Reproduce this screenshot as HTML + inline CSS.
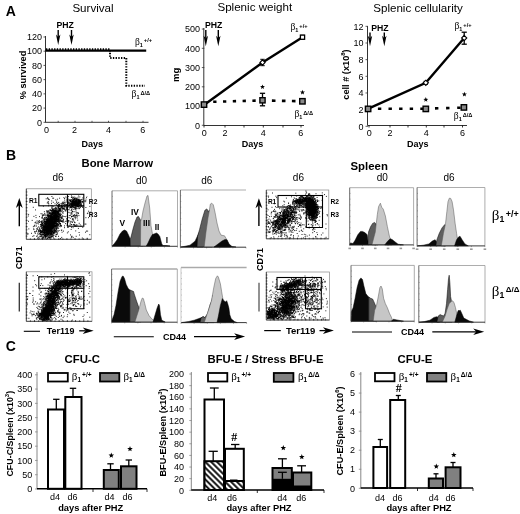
<!DOCTYPE html>
<html><head><meta charset="utf-8"><style>
html,body{margin:0;padding:0;background:#fff;}
svg{display:block;filter:grayscale(1);}
</style></head><body>
<svg width="520" height="514" viewBox="0 0 520 514">
<rect width="520" height="514" fill="#fff"/>
<text x="5.8" y="16.0" font-size="14" font-weight="bold" text-anchor="start" font-family='"Liberation Sans", sans-serif' fill="#000" >A</text>
<text x="93" y="11.8" font-size="11.6" font-weight="normal" text-anchor="middle" font-family='"Liberation Sans", sans-serif' fill="#000" >Survival</text>
<text x="56.5" y="27.8" font-size="8.7" font-weight="bold" text-anchor="start" font-family='"Liberation Sans", sans-serif' fill="#000" >PHZ</text>
<line x1="58.2" y1="30" x2="58.2" y2="37.0" stroke="#000" stroke-width="1.4" />
<path d="M56.0,34.5 L58.2,45 L60.400000000000006,34.5 L58.2,37.0Z" fill="#000"/>
<line x1="71.5" y1="30" x2="71.5" y2="37.0" stroke="#000" stroke-width="1.4" />
<path d="M69.3,34.5 L71.5,45 L73.7,34.5 L71.5,37.0Z" fill="#000"/>
<line x1="45.5" y1="36" x2="45.5" y2="122.3" stroke="#333" stroke-width="1" />
<line x1="43.5" y1="122.3" x2="46.0" y2="122.3" stroke="#333" stroke-width="0.8" />
<text x="42" y="125.5" font-size="9" font-weight="normal" text-anchor="end" font-family='"Liberation Sans", sans-serif' fill="#000" >0</text>
<line x1="43.5" y1="108.08" x2="46.0" y2="108.08" stroke="#333" stroke-width="0.8" />
<text x="42" y="111.28" font-size="9" font-weight="normal" text-anchor="end" font-family='"Liberation Sans", sans-serif' fill="#000" >20</text>
<line x1="43.5" y1="93.86" x2="46.0" y2="93.86" stroke="#333" stroke-width="0.8" />
<text x="42" y="97.06" font-size="9" font-weight="normal" text-anchor="end" font-family='"Liberation Sans", sans-serif' fill="#000" >40</text>
<line x1="43.5" y1="79.64" x2="46.0" y2="79.64" stroke="#333" stroke-width="0.8" />
<text x="42" y="82.84" font-size="9" font-weight="normal" text-anchor="end" font-family='"Liberation Sans", sans-serif' fill="#000" >60</text>
<line x1="43.5" y1="65.42" x2="46.0" y2="65.42" stroke="#333" stroke-width="0.8" />
<text x="42" y="68.62" font-size="9" font-weight="normal" text-anchor="end" font-family='"Liberation Sans", sans-serif' fill="#000" >80</text>
<line x1="43.5" y1="51.2" x2="46.0" y2="51.2" stroke="#333" stroke-width="0.8" />
<text x="42" y="54.400000000000006" font-size="9" font-weight="normal" text-anchor="end" font-family='"Liberation Sans", sans-serif' fill="#000" >100</text>
<line x1="43.5" y1="36.980000000000004" x2="46.0" y2="36.980000000000004" stroke="#333" stroke-width="0.8" />
<text x="42" y="40.18000000000001" font-size="9" font-weight="normal" text-anchor="end" font-family='"Liberation Sans", sans-serif' fill="#000" >120</text>
<line x1="45.5" y1="122.3" x2="148.5" y2="122.3" stroke="#333" stroke-width="1" />
<line x1="58.2" y1="120.8" x2="58.2" y2="122.3" stroke="#333" stroke-width="0.8" />
<text x="58.2" y="0" font-size="9" font-weight="normal" text-anchor="middle" font-family='"Liberation Sans", sans-serif' fill="#000" ></text>
<line x1="75" y1="120.8" x2="75" y2="122.3" stroke="#333" stroke-width="0.8" />
<text x="75" y="0" font-size="9" font-weight="normal" text-anchor="middle" font-family='"Liberation Sans", sans-serif' fill="#000" ></text>
<line x1="92" y1="120.8" x2="92" y2="122.3" stroke="#333" stroke-width="0.8" />
<text x="92" y="0" font-size="9" font-weight="normal" text-anchor="middle" font-family='"Liberation Sans", sans-serif' fill="#000" ></text>
<line x1="108.5" y1="120.8" x2="108.5" y2="122.3" stroke="#333" stroke-width="0.8" />
<text x="108.5" y="0" font-size="9" font-weight="normal" text-anchor="middle" font-family='"Liberation Sans", sans-serif' fill="#000" ></text>
<line x1="126" y1="120.8" x2="126" y2="122.3" stroke="#333" stroke-width="0.8" />
<text x="126" y="0" font-size="9" font-weight="normal" text-anchor="middle" font-family='"Liberation Sans", sans-serif' fill="#000" ></text>
<line x1="143" y1="120.8" x2="143" y2="122.3" stroke="#333" stroke-width="0.8" />
<text x="143" y="0" font-size="9" font-weight="normal" text-anchor="middle" font-family='"Liberation Sans", sans-serif' fill="#000" ></text>
<text x="46.6" y="132.8" font-size="9" font-weight="normal" text-anchor="middle" font-family='"Liberation Sans", sans-serif' fill="#000" >0</text>
<text x="74.6" y="132.8" font-size="9" font-weight="normal" text-anchor="middle" font-family='"Liberation Sans", sans-serif' fill="#000" >2</text>
<text x="108.6" y="132.8" font-size="9" font-weight="normal" text-anchor="middle" font-family='"Liberation Sans", sans-serif' fill="#000" >4</text>
<text x="142.8" y="132.8" font-size="9" font-weight="normal" text-anchor="middle" font-family='"Liberation Sans", sans-serif' fill="#000" >6</text>
<text x="92.3" y="147.2" font-size="9" font-weight="bold" text-anchor="middle" font-family='"Liberation Sans", sans-serif' fill="#000" >Days</text>
<text x="0" y="0" transform="translate(23,75) rotate(-90)" font-size="9.2" font-weight="bold" text-anchor="middle" dominant-baseline="central" font-family='"Liberation Sans", sans-serif'>% survived</text>
<line x1="45.5" y1="50.7" x2="146.2" y2="50.7" stroke="#000" stroke-width="2.3" />
<path d="M46,49.3 H110 V58 H126.3 V85.8 H145" fill="none" stroke="#000" stroke-width="2" stroke-dasharray="1.35,1.35"/>
<text x="135.0" y="44.6" font-family='"Liberation Serif", serif' font-size="9.5">&#946;<tspan font-size="5.51" font-weight="bold" font-family='"Liberation Sans", sans-serif' dy="1.90">1</tspan><tspan font-size="5.70" font-weight="bold" font-family='"Liberation Sans", sans-serif' dx="0.95" dy="-4.08">+/+</tspan></text>
<text x="131.6" y="97.2" font-family='"Liberation Serif", serif' font-size="9.5">&#946;<tspan font-size="5.51" font-weight="bold" font-family='"Liberation Sans", sans-serif' dy="1.90">1</tspan><tspan font-size="5.70" font-weight="bold" font-family='"Liberation Sans", sans-serif' dx="0.95" dy="-4.08">&#916;/&#916;</tspan></text>
<text x="254.8" y="10.6" font-size="11.6" font-weight="normal" text-anchor="middle" font-family='"Liberation Sans", sans-serif' fill="#000" >Splenic weight</text>
<line x1="203.8" y1="28" x2="203.8" y2="125.5" stroke="#333" stroke-width="1" />
<line x1="201.8" y1="125.3" x2="204.3" y2="125.3" stroke="#333" stroke-width="0.8" />
<text x="200" y="128.5" font-size="9" font-weight="normal" text-anchor="end" font-family='"Liberation Sans", sans-serif' fill="#000" >0</text>
<line x1="201.8" y1="106.05" x2="204.3" y2="106.05" stroke="#333" stroke-width="0.8" />
<text x="200" y="109.25" font-size="9" font-weight="normal" text-anchor="end" font-family='"Liberation Sans", sans-serif' fill="#000" >100</text>
<line x1="201.8" y1="86.8" x2="204.3" y2="86.8" stroke="#333" stroke-width="0.8" />
<text x="200" y="90.0" font-size="9" font-weight="normal" text-anchor="end" font-family='"Liberation Sans", sans-serif' fill="#000" >200</text>
<line x1="201.8" y1="67.55" x2="204.3" y2="67.55" stroke="#333" stroke-width="0.8" />
<text x="200" y="70.75" font-size="9" font-weight="normal" text-anchor="end" font-family='"Liberation Sans", sans-serif' fill="#000" >300</text>
<line x1="201.8" y1="48.3" x2="204.3" y2="48.3" stroke="#333" stroke-width="0.8" />
<text x="200" y="51.5" font-size="9" font-weight="normal" text-anchor="end" font-family='"Liberation Sans", sans-serif' fill="#000" >400</text>
<line x1="201.8" y1="29.049999999999997" x2="204.3" y2="29.049999999999997" stroke="#333" stroke-width="0.8" />
<text x="200" y="32.25" font-size="9" font-weight="normal" text-anchor="end" font-family='"Liberation Sans", sans-serif' fill="#000" >500</text>
<line x1="203.8" y1="125.5" x2="304" y2="125.5" stroke="#333" stroke-width="1" />
<line x1="204" y1="125.5" x2="204" y2="127.5" stroke="#000" stroke-width="0.8" />
<line x1="225" y1="125.5" x2="225" y2="127.5" stroke="#000" stroke-width="0.8" />
<line x1="244" y1="125.5" x2="244" y2="127.5" stroke="#000" stroke-width="0.8" />
<line x1="263.3" y1="125.5" x2="263.3" y2="127.5" stroke="#000" stroke-width="0.8" />
<line x1="283" y1="125.5" x2="283" y2="127.5" stroke="#000" stroke-width="0.8" />
<line x1="301" y1="125.5" x2="301" y2="127.5" stroke="#000" stroke-width="0.8" />
<text x="204.3" y="136.3" font-size="9" font-weight="normal" text-anchor="middle" font-family='"Liberation Sans", sans-serif' fill="#000" >0</text>
<text x="225" y="136.3" font-size="9" font-weight="normal" text-anchor="middle" font-family='"Liberation Sans", sans-serif' fill="#000" >2</text>
<text x="263.3" y="136.3" font-size="9" font-weight="normal" text-anchor="middle" font-family='"Liberation Sans", sans-serif' fill="#000" >4</text>
<text x="300.8" y="136.3" font-size="9" font-weight="normal" text-anchor="middle" font-family='"Liberation Sans", sans-serif' fill="#000" >6</text>
<text x="252.6" y="147.2" font-size="9" font-weight="bold" text-anchor="middle" font-family='"Liberation Sans", sans-serif' fill="#000" >Days</text>
<text x="0" y="0" transform="translate(175,74.8) rotate(-90)" font-size="9.5" font-weight="bold" text-anchor="middle" dominant-baseline="central" font-family='"Liberation Sans", sans-serif'>mg</text>
<text x="205" y="28" font-size="8.7" font-weight="bold" text-anchor="start" font-family='"Liberation Sans", sans-serif' fill="#000" >PHZ</text>
<line x1="205.8" y1="30" x2="205.8" y2="38.3" stroke="#000" stroke-width="1.4" />
<path d="M203.60000000000002,35.8 L205.8,46.3 L208.0,35.8 L205.8,38.3Z" fill="#000"/>
<line x1="218.3" y1="30" x2="218.3" y2="38.3" stroke="#000" stroke-width="1.4" />
<path d="M216.10000000000002,35.8 L218.3,46.3 L220.5,35.8 L218.3,38.3Z" fill="#000"/>
<path d="M213.2,101.8 L262.5,100.4" fill="none" stroke="#000" stroke-width="2.6" stroke-dasharray="3.3,6.5"/>
<path d="M271.9,100.6 L302.5,101.3" fill="none" stroke="#000" stroke-width="2.6" stroke-dasharray="3.6,6.4"/>
<polyline points="204,105 262.5,62.5 302.5,37.2" fill="none" stroke="#000" stroke-width="2.4"/>
<line x1="262.5" y1="59.3" x2="262.5" y2="65.7" stroke="#000" stroke-width="1" />
<line x1="260.3" y1="59.3" x2="264.7" y2="59.3" stroke="#000" stroke-width="1" />
<line x1="260.3" y1="65.7" x2="264.7" y2="65.7" stroke="#000" stroke-width="1" />
<path d="M262.5,59.9 L265.1,62.5 L262.5,65.1 L259.9,62.5Z" fill="#fff" stroke="#000" stroke-width="1.1"/>
<line x1="302.5" y1="35.3" x2="302.5" y2="39.1" stroke="#000" stroke-width="1" />
<line x1="300.3" y1="35.3" x2="304.7" y2="35.3" stroke="#000" stroke-width="1" />
<line x1="300.3" y1="39.1" x2="304.7" y2="39.1" stroke="#000" stroke-width="1" />
<rect x="300.4" y="35.1" width="4.2" height="4.2" fill="#fff" stroke="#000" stroke-width="1.3"/>
<line x1="262.5" y1="93.3" x2="262.5" y2="105.8" stroke="#000" stroke-width="1.3" />
<line x1="259.9" y1="93.3" x2="265.1" y2="93.3" stroke="#000" stroke-width="1.3" />
<line x1="259.9" y1="105.8" x2="265.1" y2="105.8" stroke="#000" stroke-width="1.3" />
<rect x="259.9" y="97.7" width="5.2" height="5.2" fill="#8a8a8a" stroke="#000" stroke-width="1.4"/>
<rect x="299.7" y="98.6" width="5.4" height="5.4" fill="#8a8a8a" stroke="#000" stroke-width="1.4"/>
<rect x="201.3" y="101.89999999999999" width="5.4" height="5.4" fill="#8a8a8a" stroke="#000" stroke-width="1.4"/>
<polygon points="262.50,84.39 263.14,86.11 264.98,86.19 263.54,87.34 264.03,89.11 262.50,88.10 260.97,89.11 261.46,87.34 260.02,86.19 261.86,86.11" fill="#000"/>
<polygon points="302.50,89.79 303.14,91.51 304.98,91.59 303.54,92.74 304.03,94.51 302.50,93.50 300.97,94.51 301.46,92.74 300.02,91.59 301.86,91.51" fill="#000"/>
<text x="290.5" y="30.0" font-family='"Liberation Serif", serif' font-size="9.5">&#946;<tspan font-size="5.51" font-weight="bold" font-family='"Liberation Sans", sans-serif' dy="1.90">1</tspan><tspan font-size="5.70" font-weight="bold" font-family='"Liberation Sans", sans-serif' dx="0.95" dy="-4.08">+/+</tspan></text>
<text x="294.4" y="116.8" font-family='"Liberation Serif", serif' font-size="9.5">&#946;<tspan font-size="5.51" font-weight="bold" font-family='"Liberation Sans", sans-serif' dy="1.90">1</tspan><tspan font-size="5.70" font-weight="bold" font-family='"Liberation Sans", sans-serif' dx="0.95" dy="-4.08">&#916;/&#916;</tspan></text>
<text x="418" y="12" font-size="11.6" font-weight="normal" text-anchor="middle" font-family='"Liberation Sans", sans-serif' fill="#000" >Splenic cellularity</text>
<line x1="367.5" y1="26" x2="367.5" y2="125.5" stroke="#333" stroke-width="1" />
<line x1="365.5" y1="126.3" x2="368.0" y2="126.3" stroke="#333" stroke-width="0.8" />
<text x="363.5" y="129.5" font-size="9" font-weight="normal" text-anchor="end" font-family='"Liberation Sans", sans-serif' fill="#000" >0</text>
<line x1="365.5" y1="109.64" x2="368.0" y2="109.64" stroke="#333" stroke-width="0.8" />
<text x="363.5" y="112.84" font-size="9" font-weight="normal" text-anchor="end" font-family='"Liberation Sans", sans-serif' fill="#000" >2</text>
<line x1="365.5" y1="92.97999999999999" x2="368.0" y2="92.97999999999999" stroke="#333" stroke-width="0.8" />
<text x="363.5" y="96.17999999999999" font-size="9" font-weight="normal" text-anchor="end" font-family='"Liberation Sans", sans-serif' fill="#000" >4</text>
<line x1="365.5" y1="76.32" x2="368.0" y2="76.32" stroke="#333" stroke-width="0.8" />
<text x="363.5" y="79.52" font-size="9" font-weight="normal" text-anchor="end" font-family='"Liberation Sans", sans-serif' fill="#000" >6</text>
<line x1="365.5" y1="59.66" x2="368.0" y2="59.66" stroke="#333" stroke-width="0.8" />
<text x="363.5" y="62.86" font-size="9" font-weight="normal" text-anchor="end" font-family='"Liberation Sans", sans-serif' fill="#000" >8</text>
<line x1="365.5" y1="43.0" x2="368.0" y2="43.0" stroke="#333" stroke-width="0.8" />
<text x="363.5" y="46.2" font-size="9" font-weight="normal" text-anchor="end" font-family='"Liberation Sans", sans-serif' fill="#000" >10</text>
<line x1="365.5" y1="26.33999999999999" x2="368.0" y2="26.33999999999999" stroke="#333" stroke-width="0.8" />
<text x="363.5" y="29.53999999999999" font-size="9" font-weight="normal" text-anchor="end" font-family='"Liberation Sans", sans-serif' fill="#000" >12</text>
<line x1="367.5" y1="125.5" x2="467" y2="125.5" stroke="#333" stroke-width="1" />
<line x1="369" y1="125.5" x2="369" y2="127.5" stroke="#000" stroke-width="0.8" />
<line x1="390" y1="125.5" x2="390" y2="127.5" stroke="#000" stroke-width="0.8" />
<line x1="408" y1="125.5" x2="408" y2="127.5" stroke="#000" stroke-width="0.8" />
<line x1="426.3" y1="125.5" x2="426.3" y2="127.5" stroke="#000" stroke-width="0.8" />
<line x1="444" y1="125.5" x2="444" y2="127.5" stroke="#000" stroke-width="0.8" />
<line x1="462.5" y1="125.5" x2="462.5" y2="127.5" stroke="#000" stroke-width="0.8" />
<text x="369.3" y="136.3" font-size="9" font-weight="normal" text-anchor="middle" font-family='"Liberation Sans", sans-serif' fill="#000" >0</text>
<text x="390" y="136.3" font-size="9" font-weight="normal" text-anchor="middle" font-family='"Liberation Sans", sans-serif' fill="#000" >2</text>
<text x="426.3" y="136.3" font-size="9" font-weight="normal" text-anchor="middle" font-family='"Liberation Sans", sans-serif' fill="#000" >4</text>
<text x="462.5" y="136.3" font-size="9" font-weight="normal" text-anchor="middle" font-family='"Liberation Sans", sans-serif' fill="#000" >6</text>
<text x="417.8" y="147.2" font-size="9" font-weight="bold" text-anchor="middle" font-family='"Liberation Sans", sans-serif' fill="#000" >Days</text>
<text x="0" y="0" transform="translate(345.8,74.5) rotate(-90)" font-size="9.2" font-weight="bold" text-anchor="middle" dominant-baseline="central" font-family='"Liberation Sans", sans-serif'>cell # (x10<tspan font-size="6" dy="-3">8</tspan><tspan dy="3">)</tspan></text>
<text x="371.3" y="31.3" font-size="8.7" font-weight="bold" text-anchor="start" font-family='"Liberation Sans", sans-serif' fill="#000" >PHZ</text>
<line x1="370" y1="32.5" x2="370" y2="38.3" stroke="#000" stroke-width="1.4" />
<path d="M367.8,35.8 L370,46.3 L372.2,35.8 L370,38.3Z" fill="#000"/>
<line x1="384.3" y1="32.5" x2="384.3" y2="38.3" stroke="#000" stroke-width="1.4" />
<path d="M382.1,35.8 L384.3,46.3 L386.5,35.8 L384.3,38.3Z" fill="#000"/>
<path d="M377.9,108.7 L425.8,108.8" fill="none" stroke="#000" stroke-width="2.6" stroke-dasharray="3.4,7.2"/>
<path d="M435,108.4 L463.9,107.6" fill="none" stroke="#000" stroke-width="2.6" stroke-dasharray="3.4,7.7"/>
<polyline points="367.8,108.9 425.8,82.8 464.2,38" fill="none" stroke="#000" stroke-width="2.4"/>
<line x1="425.8" y1="81.3" x2="425.8" y2="84.3" stroke="#000" stroke-width="1" />
<line x1="423.6" y1="81.3" x2="428.0" y2="81.3" stroke="#000" stroke-width="1" />
<line x1="423.6" y1="84.3" x2="428.0" y2="84.3" stroke="#000" stroke-width="1" />
<path d="M425.8,80.2 L428.40000000000003,82.8 L425.8,85.39999999999999 L423.2,82.8Z" fill="#fff" stroke="#000" stroke-width="1.1"/>
<line x1="464.2" y1="32.2" x2="464.2" y2="44.2" stroke="#000" stroke-width="1.3" />
<line x1="461.59999999999997" y1="32.2" x2="466.8" y2="32.2" stroke="#000" stroke-width="1.3" />
<line x1="461.59999999999997" y1="44.2" x2="466.8" y2="44.2" stroke="#000" stroke-width="1.3" />
<path d="M464.2,35.4 L466.8,38 L464.2,40.6 L461.59999999999997,38Z" fill="#fff" stroke="#000" stroke-width="1.1"/>
<rect x="365.40000000000003" y="106.2" width="5.4" height="5.4" fill="#8a8a8a" stroke="#000" stroke-width="1.4"/>
<rect x="423.1" y="106.2" width="5.4" height="5.4" fill="#8a8a8a" stroke="#000" stroke-width="1.4"/>
<rect x="461.2" y="104.7" width="5.4" height="5.4" fill="#8a8a8a" stroke="#000" stroke-width="1.4"/>
<polygon points="425.80,97.09 426.44,98.81 428.28,98.89 426.84,100.04 427.33,101.81 425.80,100.80 424.27,101.81 424.76,100.04 423.32,98.89 425.16,98.81" fill="#000"/>
<polygon points="464.40,91.79 465.04,93.51 466.88,93.59 465.44,94.74 465.93,96.51 464.40,95.50 462.87,96.51 463.36,94.74 461.92,93.59 463.76,93.51" fill="#000"/>
<text x="454.5" y="28.8" font-family='"Liberation Serif", serif' font-size="9.5">&#946;<tspan font-size="5.51" font-weight="bold" font-family='"Liberation Sans", sans-serif' dy="1.90">1</tspan><tspan font-size="5.70" font-weight="bold" font-family='"Liberation Sans", sans-serif' dx="0.95" dy="-4.08">+/+</tspan></text>
<text x="453.8" y="118.8" font-family='"Liberation Serif", serif' font-size="9.5">&#946;<tspan font-size="5.51" font-weight="bold" font-family='"Liberation Sans", sans-serif' dy="1.90">1</tspan><tspan font-size="5.70" font-weight="bold" font-family='"Liberation Sans", sans-serif' dx="0.95" dy="-4.08">&#916;/&#916;</tspan></text>
<text x="6.0" y="160.3" font-size="14" font-weight="bold" text-anchor="start" font-family='"Liberation Sans", sans-serif' fill="#000" >B</text>
<text x="81.5" y="167" font-size="11.3" font-weight="bold" text-anchor="start" font-family='"Liberation Sans", sans-serif' fill="#000" >Bone Marrow</text>
<text x="350.5" y="170" font-size="11.4" font-weight="bold" text-anchor="start" font-family='"Liberation Sans", sans-serif' fill="#000" >Spleen</text>
<text x="58" y="180.5" font-size="10" font-weight="normal" text-anchor="middle" font-family='"Liberation Sans", sans-serif' fill="#000" >d6</text>
<text x="141.6" y="183.5" font-size="10" font-weight="normal" text-anchor="middle" font-family='"Liberation Sans", sans-serif' fill="#000" >d0</text>
<text x="206.8" y="183.5" font-size="10" font-weight="normal" text-anchor="middle" font-family='"Liberation Sans", sans-serif' fill="#000" >d6</text>
<text x="298.4" y="180.8" font-size="10" font-weight="normal" text-anchor="middle" font-family='"Liberation Sans", sans-serif' fill="#000" >d6</text>
<text x="382.2" y="180.5" font-size="10" font-weight="normal" text-anchor="middle" font-family='"Liberation Sans", sans-serif' fill="#000" >d0</text>
<text x="449.1" y="180.5" font-size="10" font-weight="normal" text-anchor="middle" font-family='"Liberation Sans", sans-serif' fill="#000" >d6</text>
<rect x="26.3" y="188.8" width="65.0" height="50.5" fill="#fff" stroke="#888" stroke-width="0.7"/>
<path d="M51.4 230.7h0M43.2 232.1h0M45.1 233.0h0M51.0 225.0h0M50.4 223.2h0M42.2 223.7h0M44.2 226.4h0M47.6 231.3h0M48.9 233.0h0M55.4 219.5h0M49.0 222.6h0M48.1 233.8h0M49.7 220.0h0M48.7 221.7h0M52.6 213.9h0M44.7 220.2h0M50.6 226.4h0M41.9 234.4h0M46.0 231.0h0M52.5 214.9h0M52.3 218.8h0M48.3 219.1h0M57.2 213.9h0M56.7 221.0h0M57.8 219.3h0M44.7 231.0h0M43.8 234.4h0M51.7 233.7h0M46.8 234.6h0M57.2 216.1h0M55.3 217.8h0M53.5 217.8h0M55.0 220.8h0M48.0 233.0h0M43.5 229.5h0M51.4 228.5h0M41.9 222.7h0M47.9 218.1h0M58.7 221.2h0M57.3 212.4h0M48.1 226.3h0M52.9 220.3h0M49.0 232.1h0M47.8 233.2h0M46.0 232.6h0M52.8 213.1h0M46.2 231.1h0M52.5 223.4h0M48.7 223.8h0M45.1 234.2h0M54.1 215.9h0M53.2 212.2h0M54.7 222.6h0M58.4 208.2h0M46.7 229.9h0M47.7 215.5h0M49.7 232.6h0M58.8 207.1h0M53.5 213.3h0M50.1 223.1h0M45.2 236.2h0M55.7 217.6h0M62.7 212.3h0M49.5 228.3h0M48.7 234.2h0M56.4 210.6h0M52.4 218.1h0M56.7 216.2h0M50.9 217.4h0M50.5 221.3h0M52.6 214.1h0M54.6 210.7h0M50.7 237.1h0M57.1 220.6h0M53.6 209.4h0M51.3 222.2h0M52.8 208.9h0M48.8 215.6h0M54.3 217.8h0M48.6 231.9h0M46.5 229.3h0M52.4 216.3h0M54.0 219.1h0M50.7 213.3h0M54.1 222.8h0M53.0 230.4h0M42.1 231.3h0M49.2 225.1h0M51.3 220.2h0M51.1 224.1h0M49.0 216.5h0M56.0 215.1h0M47.7 220.2h0M48.6 219.7h0M54.8 221.6h0M56.5 213.4h0M56.8 219.4h0M49.3 233.7h0M46.2 234.0h0M53.6 212.4h0M46.0 226.3h0M53.1 225.5h0M50.7 228.4h0M56.3 222.8h0M43.5 232.3h0M49.8 229.3h0M56.7 218.3h0M52.7 224.6h0M50.5 220.0h0M57.3 203.5h0M46.4 232.9h0M53.0 218.2h0M54.7 221.6h0M52.3 234.3h0M50.7 220.0h0M44.7 230.0h0M50.4 231.0h0M58.9 219.2h0M48.4 230.2h0M41.9 224.2h0M50.8 231.1h0M49.3 230.1h0M46.8 235.9h0M48.6 224.8h0M51.7 225.6h0M45.6 234.6h0M50.8 216.9h0M51.6 222.9h0M50.2 217.1h0M50.8 217.6h0M55.2 218.3h0M52.5 210.9h0M48.9 226.0h0M51.5 233.7h0M48.7 229.7h0M57.1 211.6h0M48.4 230.6h0M51.9 226.8h0M56.4 226.3h0M51.2 230.1h0M48.4 227.4h0M45.5 226.2h0M47.1 229.8h0M50.8 230.1h0M48.5 233.9h0M44.4 227.1h0M50.1 212.9h0M52.0 216.0h0M58.3 215.9h0M57.7 221.3h0M50.7 210.2h0M56.0 218.7h0M53.4 217.8h0M47.8 212.0h0M51.4 216.6h0M47.8 236.0h0M48.6 228.5h0M48.3 216.5h0M56.0 223.3h0M48.9 217.1h0M56.8 221.4h0M50.2 229.8h0M54.2 222.7h0M52.0 212.1h0M48.0 218.4h0M50.8 219.2h0M46.8 236.3h0M48.0 227.2h0M45.5 237.8h0M51.2 216.1h0M47.1 223.3h0M48.3 230.4h0M55.8 211.7h0M53.6 216.3h0M49.7 226.3h0M55.9 216.8h0M39.0 230.0h0M48.4 227.9h0M53.6 211.8h0M53.7 213.8h0M42.0 234.5h0M50.3 229.8h0M48.7 227.0h0M53.8 215.8h0M53.1 206.4h0M46.1 230.1h0M52.8 209.8h0M49.5 225.6h0M47.8 229.8h0M54.8 215.4h0M51.7 225.5h0M59.4 208.5h0M58.2 216.0h0M50.7 220.8h0M47.7 219.2h0M51.6 220.6h0M57.2 215.7h0M47.3 231.5h0M54.9 216.6h0M45.4 226.4h0M48.2 232.4h0M52.2 213.6h0M58.0 213.5h0M47.3 232.5h0M50.8 227.8h0M42.0 225.7h0M50.1 218.9h0M48.6 224.4h0M42.2 231.4h0M54.6 217.1h0M45.1 230.8h0M58.7 207.2h0M50.6 234.9h0M50.2 214.5h0M59.0 208.7h0M49.3 229.9h0M47.5 215.5h0M49.4 213.5h0M49.1 223.6h0M54.0 223.6h0M51.3 221.2h0M44.7 224.9h0M50.1 233.5h0M49.5 222.5h0M54.1 220.8h0M54.5 222.7h0M51.9 214.5h0M52.7 227.5h0M52.2 227.9h0M50.0 220.1h0M54.1 218.0h0M44.0 236.5h0M54.1 224.1h0M50.6 217.4h0M52.9 217.6h0M48.7 234.4h0M51.9 226.5h0M47.9 233.4h0M53.8 218.6h0M51.4 233.8h0M47.9 231.5h0M54.7 221.4h0M60.2 217.5h0M51.7 233.7h0M57.5 218.2h0M47.2 227.8h0M49.7 230.6h0M50.5 225.9h0M55.9 215.1h0M55.1 212.5h0M42.9 233.8h0M55.7 216.1h0M57.6 214.4h0M53.6 214.8h0M52.4 236.4h0M47.9 221.7h0M47.7 234.6h0M51.2 225.3h0M48.5 227.4h0M56.9 214.8h0M57.2 213.1h0M57.8 221.4h0M49.3 228.9h0M52.2 222.2h0M53.0 210.0h0M50.9 214.9h0M45.0 231.3h0M48.0 237.7h0M48.7 229.1h0M46.8 229.7h0M56.8 213.9h0M49.4 234.6h0M50.3 218.9h0M46.1 221.6h0M55.6 213.3h0M48.1 229.4h0M47.4 225.1h0M47.5 232.2h0M50.1 228.1h0M40.7 233.0h0M51.2 228.5h0M53.4 219.3h0M52.8 217.9h0M57.2 214.1h0M54.1 219.7h0M51.7 215.3h0M54.6 216.0h0M49.8 219.2h0M50.5 227.6h0M44.2 225.8h0M50.3 229.9h0M53.3 221.4h0M48.6 225.9h0M48.6 234.9h0M50.0 220.7h0M46.0 227.6h0M45.5 235.3h0M45.8 226.0h0M56.7 216.7h0M50.7 230.9h0M54.3 230.0h0M51.1 221.7h0M52.4 214.6h0M41.2 232.6h0M58.3 215.9h0M47.3 225.8h0M41.0 226.9h0M40.7 232.3h0M55.6 213.8h0M58.5 212.2h0M48.8 231.8h0M50.1 209.5h0M47.5 228.5h0M52.9 220.2h0M47.9 233.4h0M49.4 223.6h0M46.8 222.0h0M40.9 231.4h0M46.6 232.2h0M47.1 219.2h0M44.8 229.4h0M47.8 221.7h0M54.2 225.0h0M50.8 228.6h0M51.3 217.0h0M51.5 224.6h0M52.6 226.4h0M54.9 223.8h0M45.7 227.0h0M54.1 223.9h0M50.9 225.2h0M59.2 214.6h0M56.7 224.2h0M57.2 221.2h0M48.8 223.4h0M42.9 237.2h0M49.1 229.2h0M55.9 218.6h0M55.3 215.7h0M50.1 223.6h0M51.2 236.6h0M53.8 217.6h0M56.2 219.0h0M47.7 224.8h0M45.2 218.5h0M51.0 231.8h0M50.1 223.0h0M52.7 210.2h0M51.2 217.5h0M58.5 219.1h0M42.1 221.5h0M49.9 218.6h0M47.2 234.8h0M48.1 221.8h0M55.9 215.5h0M52.2 219.4h0M51.3 228.1h0M44.0 227.1h0M44.9 227.2h0M49.0 230.4h0M50.7 233.6h0M54.8 211.2h0M52.7 228.7h0M48.3 225.2h0M54.7 222.2h0M48.7 228.2h0M48.8 223.5h0M46.1 232.6h0M52.6 221.1h0M44.5 227.4h0M52.6 217.8h0M48.2 228.3h0M55.4 209.0h0M48.4 229.9h0M49.9 220.2h0M49.5 230.7h0M43.1 238.1h0M55.2 214.3h0M44.9 227.2h0M50.8 215.9h0M54.0 219.2h0M56.7 214.4h0M47.5 221.3h0M49.8 223.1h0M49.2 233.8h0M50.1 215.5h0M49.2 213.1h0M54.5 215.7h0M50.2 216.6h0M46.6 228.7h0M55.0 214.1h0M49.1 230.7h0M47.8 231.3h0M49.1 214.8h0M56.7 219.2h0M51.5 220.7h0M60.2 216.5h0M56.0 212.9h0M48.1 230.2h0M55.6 210.7h0M51.9 213.5h0M50.8 235.2h0M46.1 232.8h0M45.5 236.5h0M50.7 220.0h0M48.8 212.1h0M54.8 220.8h0M50.2 221.5h0M50.3 217.7h0M59.0 217.8h0M49.3 230.5h0M53.3 216.9h0M44.6 223.4h0M44.3 230.3h0M53.2 223.0h0M49.4 232.7h0M53.9 225.9h0M47.4 227.8h0M51.2 214.2h0M44.1 229.3h0M46.8 232.0h0M46.9 236.5h0M45.6 227.5h0M43.9 230.0h0M53.1 212.5h0M48.0 228.1h0M51.1 210.5h0M42.0 232.6h0M53.7 223.6h0M54.4 216.1h0M46.7 221.6h0M48.3 232.9h0M46.8 226.7h0M51.9 235.0h0M59.3 222.6h0M39.6 238.2h0M53.0 212.7h0M46.4 228.8h0M46.8 230.2h0M50.7 220.5h0M48.0 220.3h0M44.3 229.2h0M55.7 215.5h0M51.1 217.9h0M46.6 222.7h0M51.2 210.7h0M50.0 216.1h0M47.5 226.2h0M50.6 219.8h0M51.7 223.3h0M47.6 221.7h0M54.0 218.0h0M52.5 216.2h0M51.2 223.0h0M53.8 226.7h0M53.4 212.6h0M46.3 219.9h0M46.7 218.0h0M44.1 226.6h0M46.2 226.7h0M59.7 223.3h0M51.4 227.1h0M52.7 225.5h0M48.7 221.9h0M48.9 233.5h0M52.6 212.4h0M51.7 217.4h0M47.7 225.7h0M47.7 220.6h0M50.6 228.6h0M54.3 214.4h0M49.0 227.5h0M48.2 229.0h0M53.6 217.9h0M46.1 229.5h0M45.0 231.8h0M46.7 232.3h0M46.7 221.0h0M54.7 223.4h0M49.3 227.0h0M57.1 221.1h0M52.2 219.9h0M53.6 210.5h0M47.9 233.9h0M52.1 218.1h0M55.0 211.8h0M50.0 210.4h0M56.5 215.6h0M55.4 219.8h0M50.6 218.8h0M51.9 213.3h0M50.2 231.9h0M44.3 233.4h0M46.4 223.2h0M60.2 214.8h0M45.7 221.8h0M51.5 217.4h0M59.1 214.4h0M56.1 220.6h0M54.9 217.5h0M51.6 211.6h0M59.4 214.9h0M48.3 225.4h0M45.2 226.6h0M54.0 220.0h0M44.0 222.7h0M49.9 224.8h0M49.9 226.6h0M52.0 207.3h0M47.6 229.3h0M47.6 216.7h0M44.7 226.9h0M53.5 222.7h0M48.4 215.7h0M51.1 210.6h0M50.3 215.9h0M53.3 223.4h0M50.1 222.4h0M52.6 231.5h0M52.9 210.9h0M54.6 211.5h0M46.9 231.7h0M44.5 229.0h0M58.7 214.3h0M50.1 237.5h0M54.2 219.5h0M42.3 236.9h0M58.4 212.4h0M53.2 227.7h0M47.9 230.0h0M44.8 232.8h0M60.6 215.6h0M51.8 232.0h0M47.6 226.8h0M46.7 228.3h0M53.8 213.4h0M50.8 216.5h0M54.5 221.2h0M53.1 218.0h0M52.5 218.3h0M48.3 225.4h0M52.9 214.7h0M46.0 224.4h0M55.7 223.4h0M46.3 222.5h0M45.4 228.5h0M55.8 208.7h0M56.4 230.9h0M53.8 215.7h0M57.5 219.6h0M50.2 223.8h0M50.8 217.4h0M56.1 217.1h0M50.8 227.9h0M44.6 221.7h0M60.1 215.6h0M56.3 212.7h0M51.6 223.5h0M54.8 217.2h0M40.9 230.6h0M47.4 222.4h0M44.0 226.0h0M50.7 226.1h0M53.9 213.7h0M48.2 227.2h0M41.8 225.8h0M50.7 213.6h0M52.1 222.8h0M46.3 227.4h0M47.9 223.7h0M57.4 234.0h0M52.7 228.6h0M55.7 219.9h0M48.2 226.4h0M52.2 233.3h0M48.0 222.2h0M46.3 220.0h0M56.5 209.3h0M50.0 229.1h0M48.1 230.8h0M53.4 219.0h0M55.9 212.0h0M50.1 221.6h0M54.8 216.5h0M56.4 218.4h0M47.6 226.0h0M57.3 212.1h0M45.7 236.5h0M59.5 210.2h0M47.0 228.4h0M53.0 219.5h0M47.1 223.5h0M50.9 222.9h0M55.2 218.7h0M50.6 231.1h0M47.2 232.3h0M57.3 219.2h0M54.5 231.6h0M53.5 226.8h0M56.5 216.7h0M51.9 229.5h0M48.9 220.8h0M49.2 216.1h0M47.0 232.2h0M50.9 217.4h0M53.8 217.7h0M46.2 236.9h0M50.6 230.0h0M49.9 226.2h0M61.6 214.3h0M53.0 222.6h0M48.2 230.0h0M60.4 225.4h0M56.8 214.7h0M59.2 215.6h0M48.9 227.6h0M52.5 217.3h0M47.4 231.0h0M40.8 232.9h0M46.0 228.6h0M47.9 225.3h0M48.6 230.6h0M49.0 220.5h0M43.7 226.4h0M51.7 214.7h0M45.7 229.7h0M58.1 219.8h0M52.3 221.4h0M57.3 223.8h0M51.9 221.6h0M48.8 227.5h0M44.1 233.8h0M42.0 233.9h0M54.3 226.1h0M55.5 213.5h0M48.6 221.7h0M51.6 227.3h0M46.5 222.7h0M59.1 223.2h0M48.3 230.6h0M48.3 227.9h0M45.7 230.2h0M42.2 231.6h0M50.2 221.0h0M53.9 213.5h0M42.9 231.7h0M50.6 230.3h0M41.5 227.8h0M42.1 228.7h0M50.5 224.0h0M43.9 228.4h0M44.6 227.0h0M51.9 218.6h0M40.5 230.3h0M58.5 212.9h0M57.5 216.2h0M57.2 211.4h0M47.6 222.5h0M53.8 223.7h0M52.2 223.0h0M56.4 204.7h0M54.2 213.7h0M58.7 215.1h0M47.0 226.0h0M54.8 219.9h0M44.5 228.2h0M54.3 215.2h0M55.0 222.5h0M52.5 212.2h0M48.3 223.3h0M48.5 233.5h0M48.9 227.4h0M40.4 230.6h0M47.3 218.4h0M46.6 226.4h0M48.2 219.5h0M48.6 229.5h0M47.4 225.5h0M44.3 227.6h0M50.9 227.7h0M53.8 217.7h0M53.1 214.8h0M44.5 227.4h0M54.4 219.8h0M46.9 222.4h0M55.6 211.4h0M52.6 212.0h0M51.3 218.6h0M59.1 218.0h0M45.9 230.1h0M54.5 222.0h0M51.0 218.5h0M48.9 222.9h0M49.6 221.3h0M46.4 224.4h0M50.1 221.0h0M48.5 223.6h0M51.0 230.7h0M57.4 224.8h0M52.0 221.9h0M56.0 215.6h0M55.5 213.5h0M43.9 221.6h0M42.1 213.9h0M45.8 222.0h0M46.6 228.8h0M53.5 224.8h0M53.2 224.1h0M45.6 223.6h0M57.8 213.4h0M42.3 216.8h0M43.1 225.4h0M52.1 215.3h0M52.2 208.3h0M57.9 209.5h0M46.0 234.5h0M51.2 224.7h0M49.3 218.1h0M54.7 210.9h0M50.2 222.3h0M55.1 218.6h0M49.8 212.6h0M43.3 230.0h0M45.7 225.2h0M52.5 210.0h0M49.6 236.1h0M48.1 233.1h0M52.6 218.5h0M54.0 216.1h0M50.9 221.3h0M50.2 228.5h0M49.9 229.7h0M45.9 227.4h0M49.2 230.5h0M50.9 214.0h0M55.0 230.7h0M51.3 221.1h0M52.1 219.8h0M47.2 212.6h0M43.9 232.1h0M45.3 235.4h0M50.9 221.0h0M45.9 232.0h0M54.1 216.1h0M43.5 231.1h0M51.0 225.8h0M52.3 217.4h0M46.8 232.3h0M44.3 231.1h0M46.6 229.5h0M49.0 226.8h0M52.8 219.3h0M43.9 234.9h0M51.3 225.2h0M52.6 212.5h0M53.4 227.7h0M51.5 225.9h0M49.2 230.3h0M48.7 228.4h0M48.1 222.0h0M49.6 219.8h0M49.9 224.3h0M49.0 238.0h0M47.8 225.7h0M48.6 224.4h0M50.9 228.7h0M51.3 232.8h0M42.5 231.9h0M57.9 212.3h0M46.6 232.2h0M50.7 216.2h0M46.9 220.8h0M49.6 226.3h0M52.4 221.4h0M54.0 208.4h0M47.7 234.0h0M46.4 232.8h0M44.1 237.8h0M49.4 226.8h0M52.5 221.4h0M52.2 218.8h0M54.2 212.6h0M48.5 230.0h0M46.0 234.9h0M55.1 223.1h0M57.1 219.7h0M49.3 219.4h0M54.8 232.1h0M54.1 222.6h0M55.0 213.5h0M54.6 225.7h0M42.4 224.0h0M46.8 230.5h0M53.3 215.9h0M55.4 221.0h0M50.9 223.0h0M47.2 227.3h0M51.8 231.1h0M52.3 221.4h0M43.5 225.1h0M46.9 232.7h0M44.2 230.0h0M48.4 214.1h0M45.0 226.8h0M50.6 217.8h0M45.8 234.7h0M49.9 230.6h0M46.4 226.6h0M44.9 235.0h0M49.7 227.2h0M50.9 233.9h0M44.4 223.7h0M53.9 223.8h0M51.2 228.2h0M49.5 232.0h0M56.0 218.1h0M48.0 230.4h0M46.6 227.7h0M50.2 231.8h0M55.6 214.1h0M55.8 211.8h0M51.1 232.4h0M45.9 230.0h0M50.3 223.9h0M41.7 231.6h0M51.7 208.9h0M51.1 212.8h0M45.7 234.8h0M45.5 230.8h0M51.2 224.0h0M43.9 234.3h0M58.8 217.9h0M54.8 211.5h0M46.2 224.6h0M47.8 227.7h0M55.3 213.0h0M46.1 234.0h0M49.8 223.2h0M44.7 235.6h0M60.5 208.6h0M59.5 211.0h0M58.0 217.5h0M50.3 224.4h0M50.4 213.1h0M44.7 233.1h0M47.5 238.3h0M53.9 226.5h0M46.2 224.3h0M47.8 221.0h0M49.4 237.9h0M55.8 225.9h0M51.2 230.8h0M43.9 228.9h0M46.3 228.5h0M49.4 221.9h0M52.6 226.6h0M49.2 213.0h0M60.3 223.5h0M57.5 221.4h0M53.2 232.6h0M51.3 219.8h0M55.4 217.4h0M53.4 226.3h0M46.0 234.3h0M53.1 221.8h0M47.6 211.6h0M56.7 219.0h0M49.3 221.8h0M55.9 217.6h0M57.6 215.8h0M44.7 232.5h0M51.4 220.3h0M53.6 211.0h0M41.6 232.0h0M51.7 221.5h0M47.2 229.9h0M49.8 226.4h0M53.3 230.8h0M48.7 216.6h0M57.8 212.9h0M40.4 230.9h0M55.4 216.5h0M52.2 212.7h0M53.6 228.7h0M52.4 222.2h0M45.1 234.6h0M53.6 213.4h0M44.8 233.3h0M48.9 223.1h0M43.0 232.9h0M36.6 236.3h0M48.8 237.2h0M47.6 231.9h0M49.9 232.8h0M36.8 228.9h0M51.9 224.7h0M41.7 225.7h0M57.0 215.7h0M45.2 221.9h0M47.5 230.1h0M53.6 213.3h0M58.1 218.9h0M47.3 235.6h0M50.0 219.1h0M47.1 223.1h0M45.1 226.0h0M55.1 225.3h0M45.2 228.3h0M50.6 229.4h0M48.7 228.6h0M61.5 221.1h0M44.7 229.7h0M46.2 225.3h0M51.4 226.8h0M48.9 230.6h0M49.4 219.0h0M55.1 221.5h0M56.8 219.2h0M53.4 225.8h0M36.2 223.8h0M44.5 235.4h0M40.5 234.6h0M56.2 225.5h0M54.0 221.3h0M50.4 226.6h0M52.6 228.2h0M49.3 222.2h0M47.5 228.9h0M41.7 222.6h0M48.3 223.5h0M49.0 212.0h0M48.6 224.9h0M54.5 213.2h0M48.8 228.6h0M53.0 230.6h0M56.0 217.5h0M53.8 222.2h0M46.2 235.4h0M47.1 222.4h0M48.3 221.9h0M55.7 225.1h0M57.8 224.4h0M47.2 232.4h0M47.0 224.5h0M49.5 226.0h0M56.7 219.5h0M52.3 224.5h0M43.8 222.5h0M49.3 228.1h0M52.1 227.2h0M50.7 222.9h0M52.7 219.1h0M43.3 226.8h0M42.9 226.0h0M46.5 224.2h0M50.2 221.3h0M48.2 217.3h0M51.2 220.4h0M52.6 209.5h0M46.2 228.6h0M37.5 229.2h0M50.9 225.8h0M42.5 230.1h0M51.2 219.9h0M54.4 223.4h0M50.5 223.0h0M53.3 224.7h0M56.5 225.2h0M47.1 225.7h0M55.3 221.4h0M52.5 227.3h0M49.5 213.5h0M51.1 226.3h0M51.1 221.1h0M56.9 221.9h0M47.1 223.1h0M52.3 218.8h0M45.1 238.4h0M57.4 228.0h0M57.7 225.4h0M41.5 235.7h0M57.0 225.2h0M40.0 236.6h0M57.7 219.6h0M51.1 229.3h0M50.0 231.5h0M50.9 228.9h0M50.9 217.4h0M51.9 231.8h0M56.5 231.9h0M53.4 221.0h0M50.5 215.2h0M49.4 230.7h0M38.9 231.5h0M54.8 230.6h0M45.5 224.1h0M40.4 224.4h0M53.3 235.2h0M44.3 235.5h0M52.7 221.8h0M62.1 206.9h0M50.1 226.8h0M61.8 230.1h0M62.5 220.9h0M55.7 230.4h0M53.2 226.2h0M49.4 223.7h0M48.0 215.4h0M51.8 224.6h0M51.4 234.7h0M49.9 224.3h0M46.4 227.0h0M48.1 227.5h0M67.1 220.2h0M45.8 237.7h0M55.0 227.8h0M54.3 228.1h0M54.0 231.4h0M55.8 230.3h0M47.7 226.6h0M46.5 232.3h0M54.9 221.0h0M53.6 238.1h0M57.0 216.6h0M49.9 229.0h0M50.2 227.6h0M56.7 224.4h0M44.5 231.8h0M49.9 226.3h0M47.4 219.3h0M43.7 226.4h0M44.7 213.4h0M56.6 216.5h0M46.5 230.0h0M37.5 238.2h0M46.3 230.8h0M47.8 228.2h0M51.0 225.2h0M40.6 221.8h0M50.2 233.1h0M47.5 229.6h0M51.3 227.6h0M55.7 215.1h0M51.9 223.8h0M48.8 221.6h0M46.2 221.7h0M59.5 221.5h0M54.4 218.5h0M35.5 222.2h0M51.2 232.8h0M50.2 220.2h0M49.1 220.6h0M43.0 227.4h0M48.3 222.0h0M45.7 222.5h0M51.7 232.3h0M49.3 237.9h0M41.8 230.7h0M44.2 227.3h0M51.0 228.2h0M56.5 219.8h0M43.8 227.3h0M52.0 221.0h0M55.2 232.4h0M42.8 230.7h0M55.9 212.7h0M51.5 223.7h0M42.8 235.8h0M51.6 222.4h0M52.8 227.8h0M54.5 226.7h0M52.6 218.2h0M48.2 227.1h0M48.4 220.7h0M40.7 231.0h0M50.6 222.2h0M48.2 221.6h0M46.4 226.7h0M47.0 230.6h0M49.7 226.5h0M52.6 231.3h0M53.6 225.2h0M49.5 221.5h0M48.6 229.9h0M51.6 222.8h0M43.3 220.3h0M52.1 230.2h0M52.4 217.2h0M49.3 227.1h0M45.5 229.4h0M49.4 221.4h0M43.8 232.7h0M52.3 219.8h0M45.0 232.6h0M53.6 222.4h0M59.0 220.1h0M44.8 233.7h0M49.4 227.7h0M50.6 220.0h0M44.1 227.2h0M58.0 216.8h0M57.7 223.4h0M44.5 229.5h0M53.5 219.3h0M39.0 232.3h0M44.5 230.4h0M40.2 229.1h0M46.1 219.4h0M49.1 226.9h0M47.4 220.4h0M51.6 215.6h0M53.3 226.8h0M59.4 226.2h0M52.3 226.0h0M50.6 218.3h0M58.2 224.8h0M48.9 220.0h0M58.4 224.8h0M44.1 231.8h0M60.6 220.9h0M52.6 222.3h0M47.1 232.6h0M66.9 218.9h0M49.8 230.0h0M48.8 230.0h0M54.9 218.1h0M44.7 227.5h0M54.9 225.0h0M57.1 215.2h0M53.1 221.0h0M51.0 226.9h0M45.2 226.5h0M44.2 229.6h0M45.9 224.8h0M51.6 221.4h0M56.6 219.3h0M55.0 225.0h0M44.9 226.7h0M46.0 225.4h0M49.0 235.8h0M48.2 234.8h0M52.8 217.4h0M38.1 234.4h0M39.8 233.9h0M55.9 225.1h0M49.3 224.6h0M51.8 223.2h0M47.6 224.7h0M56.7 219.4h0M52.4 218.4h0M46.6 219.8h0M49.4 229.5h0M52.1 222.1h0M53.7 222.2h0M52.4 226.0h0M53.3 211.0h0M43.5 232.6h0M49.9 237.6h0M49.2 223.0h0M58.4 224.9h0M60.5 223.7h0M49.3 229.8h0M46.2 224.9h0M47.5 225.5h0M54.6 221.1h0M52.1 222.0h0M55.1 208.7h0M49.3 226.8h0M44.7 233.3h0M51.6 231.7h0M55.5 226.6h0M49.6 220.0h0M49.3 223.5h0M51.8 222.4h0M66.7 209.8h0M56.7 220.2h0M49.1 230.9h0M50.4 219.0h0M52.6 223.4h0M39.5 231.2h0M44.8 223.9h0M53.0 225.9h0M48.9 237.6h0M52.7 221.2h0M51.7 224.2h0M38.7 222.2h0M49.4 224.4h0M47.4 231.9h0M50.6 234.4h0M54.6 232.3h0M49.8 227.7h0M48.1 225.5h0M41.2 226.3h0M45.4 224.2h0M56.9 224.0h0M56.9 227.1h0M55.3 228.6h0M47.2 231.1h0M48.7 223.4h0M56.8 234.1h0M45.2 236.9h0M54.8 219.0h0M51.9 226.8h0M52.4 222.7h0M43.6 228.6h0M55.0 227.6h0M53.9 229.7h0M45.2 227.5h0M52.2 229.9h0M51.3 227.8h0M51.1 236.2h0M38.9 230.3h0M63.5 220.9h0M40.7 230.4h0M42.8 225.1h0M51.6 234.0h0M52.9 227.9h0M55.8 224.1h0M45.9 226.9h0M52.2 223.2h0M46.9 225.1h0M42.5 223.5h0M49.9 223.7h0M50.6 232.8h0M52.0 224.6h0M44.2 222.4h0M52.4 219.9h0M52.7 218.7h0M51.1 224.7h0M55.7 221.0h0M48.5 227.6h0M50.7 234.2h0M49.1 223.2h0M48.7 228.7h0M51.7 228.6h0M60.2 221.0h0M44.0 229.0h0M52.6 212.7h0M50.5 217.6h0M52.9 231.7h0M55.9 215.1h0M57.7 227.0h0M48.5 228.9h0M58.5 220.2h0M50.3 222.5h0M56.5 211.4h0M57.9 217.0h0M55.3 214.7h0M45.5 224.4h0M54.8 214.9h0M53.6 220.7h0M57.0 220.9h0M53.0 223.4h0M59.9 219.4h0M50.3 236.0h0M50.8 228.9h0M46.5 228.2h0M38.4 231.2h0M47.0 219.0h0M42.9 234.7h0M52.7 216.4h0M60.0 217.6h0M48.5 227.6h0M44.4 219.5h0M46.5 233.4h0M55.5 214.9h0M56.8 222.8h0M53.1 224.5h0M52.6 219.2h0M45.6 223.8h0M48.5 229.6h0M44.0 236.7h0M47.1 223.8h0M54.1 226.1h0M48.6 220.5h0M45.1 219.3h0M56.5 228.5h0M60.3 223.7h0M52.2 228.7h0M55.5 221.9h0M52.3 236.0h0M41.5 221.9h0M45.3 231.6h0M56.7 220.9h0M54.0 223.6h0M52.0 221.9h0M50.3 225.5h0M56.4 234.6h0M40.8 232.4h0M50.4 230.6h0M56.0 227.1h0M54.7 218.5h0M41.4 238.2h0M56.8 217.6h0M57.3 226.0h0M37.4 235.9h0M45.2 233.9h0M46.8 223.1h0M42.2 227.8h0M55.8 219.5h0M60.2 224.8h0M47.6 220.3h0M41.7 232.2h0M57.3 216.8h0M50.4 224.0h0M49.1 228.7h0M61.5 217.2h0M54.9 229.2h0M48.9 225.3h0M43.3 234.2h0M47.6 223.2h0M50.8 220.7h0M44.9 226.3h0M58.3 220.9h0M53.2 216.4h0M48.3 218.2h0M49.9 228.9h0M41.3 224.7h0M51.8 219.9h0M54.7 228.7h0M52.8 222.1h0M50.2 222.2h0M49.7 227.4h0M48.8 231.3h0M64.2 216.5h0M52.2 229.0h0M53.8 222.7h0M47.9 231.9h0M53.7 226.7h0M46.2 230.6h0M54.6 222.6h0M53.9 235.5h0M40.5 233.0h0M44.2 220.9h0M49.2 228.9h0M50.7 219.1h0M42.8 225.8h0M50.5 221.0h0M42.4 238.2h0M46.0 226.5h0M47.5 223.6h0M50.6 223.7h0M53.7 217.7h0M50.0 229.7h0M56.7 225.6h0M50.6 217.1h0M41.9 234.4h0M54.0 226.9h0M41.6 217.9h0M44.8 221.6h0M51.3 219.6h0M58.9 218.4h0M47.4 231.3h0M52.2 219.9h0M54.8 233.8h0M43.9 227.0h0M44.7 217.6h0M53.8 227.7h0M55.6 225.4h0M39.7 230.0h0M46.9 220.7h0M44.5 232.1h0M48.8 236.6h0M52.9 214.1h0M55.2 230.0h0M50.6 218.9h0M59.9 214.3h0M50.0 215.4h0M43.7 219.3h0M56.3 229.2h0M48.3 219.1h0M50.1 227.6h0M42.3 222.8h0M49.9 229.4h0M50.8 227.7h0M43.7 215.0h0M52.1 219.8h0M49.8 223.7h0M53.0 220.2h0M58.2 222.2h0M53.3 227.6h0M56.0 225.2h0M41.0 226.1h0M60.4 223.6h0M53.4 226.6h0M47.0 223.3h0M46.9 233.2h0M52.4 234.1h0M53.1 234.4h0M52.9 218.0h0M59.8 223.2h0M56.8 223.8h0M48.7 227.1h0M44.4 221.6h0M45.6 224.7h0M43.1 228.1h0M52.1 235.6h0M60.4 220.8h0M55.2 222.2h0M52.5 224.3h0M47.5 227.1h0M42.4 231.3h0M48.9 220.3h0M48.5 229.3h0M46.8 229.6h0M53.5 232.5h0M44.5 227.4h0M53.2 232.3h0M51.8 228.9h0M42.5 225.7h0M59.4 220.0h0M62.1 216.4h0M48.9 217.4h0M53.9 225.4h0M61.4 221.5h0M49.1 218.4h0M50.0 230.8h0M54.4 230.3h0M55.1 223.1h0M53.7 224.9h0M43.2 237.9h0M52.5 218.8h0M52.5 226.1h0M55.8 230.9h0M33.9 235.7h0M58.7 216.6h0M40.3 231.4h0M52.3 226.5h0M44.4 225.5h0M51.5 229.0h0M62.4 221.8h0M47.1 214.0h0M56.3 222.2h0M49.8 220.3h0M54.4 213.9h0M51.0 225.8h0M52.1 231.8h0M49.9 226.2h0M55.1 214.9h0M48.8 226.5h0M55.6 218.8h0M54.8 225.6h0M42.3 220.9h0M42.6 229.6h0M51.6 228.9h0M54.9 220.5h0M56.3 227.3h0M53.0 226.9h0M43.4 230.5h0M44.8 221.4h0M48.5 227.0h0M50.1 223.7h0M45.0 228.8h0M46.4 219.5h0M50.9 233.1h0M48.2 220.6h0M58.0 231.5h0M48.8 225.0h0M51.2 230.5h0M52.9 214.4h0M44.4 221.3h0M52.8 225.0h0M60.2 219.7h0M52.1 225.1h0M51.2 237.8h0M52.0 232.8h0M57.5 219.0h0M54.2 221.7h0M51.0 226.0h0M50.5 222.8h0M59.0 220.2h0M54.3 232.9h0M53.9 229.6h0M58.0 228.1h0M59.8 213.5h0M61.2 220.9h0M40.8 226.1h0M42.8 228.6h0M42.3 223.5h0M52.0 225.6h0M46.0 226.0h0M49.9 226.1h0M50.4 224.2h0M55.2 214.5h0M47.7 227.3h0M48.2 223.4h0M48.0 227.6h0M57.3 221.4h0M49.0 228.0h0M49.1 215.4h0M51.9 222.7h0M47.3 230.2h0M50.7 222.2h0M38.5 221.2h0M50.5 224.7h0M52.8 225.6h0M47.8 219.6h0M44.4 227.3h0M44.1 232.3h0M43.1 218.8h0M49.4 216.1h0M59.4 216.1h0M50.1 224.2h0M45.9 217.7h0M40.2 234.6h0M56.0 234.9h0M42.4 232.0h0M50.3 230.1h0M47.6 230.6h0M55.4 226.6h0M58.4 221.0h0M58.9 217.9h0M59.6 206.3h0M50.5 221.0h0M50.4 231.1h0M54.4 224.2h0M59.8 213.2h0M45.9 235.7h0M52.2 213.2h0M52.3 218.1h0M58.6 228.2h0M47.4 233.9h0M45.8 232.5h0M53.6 223.3h0M42.6 227.3h0M37.8 227.8h0M40.2 236.6h0M45.1 214.4h0M53.6 226.1h0M47.6 238.3h0M54.7 223.9h0M46.9 210.7h0M53.8 211.6h0M62.9 202.4h0M58.1 210.3h0M63.5 208.5h0M64.0 202.1h0M59.5 204.6h0M59.6 209.7h0M54.7 212.4h0M50.1 210.9h0M62.4 210.8h0M59.1 211.4h0M58.9 206.0h0M68.2 209.6h0M59.5 208.5h0M65.3 210.5h0M63.3 204.0h0M57.5 216.4h0M55.4 207.5h0M63.3 208.1h0M58.9 210.5h0M61.0 206.1h0M61.0 211.4h0M59.2 210.0h0M66.2 209.7h0M56.2 211.9h0M56.7 215.1h0M55.4 212.3h0M58.5 211.5h0M57.3 211.4h0M61.2 207.5h0M63.7 205.2h0M54.6 211.7h0M60.2 207.1h0M55.2 210.8h0M56.8 210.3h0M54.4 213.1h0M64.8 204.5h0M57.8 206.7h0M69.8 204.2h0M59.5 209.6h0M60.5 214.1h0M59.5 210.9h0M61.7 205.9h0M54.2 211.5h0M56.5 208.0h0M59.6 210.3h0M61.0 210.4h0M63.9 208.3h0M61.8 205.8h0M58.0 205.7h0M59.0 204.7h0M65.1 204.4h0M66.1 206.7h0M62.8 206.6h0M60.4 210.5h0M58.5 214.3h0M64.2 206.4h0M69.0 207.2h0M55.0 210.2h0M58.1 205.2h0M63.3 211.7h0M60.4 210.0h0M60.1 209.3h0M57.8 211.7h0M54.6 212.3h0M68.0 205.6h0M55.2 210.5h0M64.5 207.9h0M58.1 210.2h0M53.7 210.0h0M66.9 205.9h0M54.9 208.8h0M62.7 206.2h0M66.8 204.9h0M65.1 205.3h0M65.9 205.3h0M57.0 215.7h0M62.3 206.8h0M66.0 202.1h0M62.5 209.1h0M58.8 204.5h0M66.9 204.8h0M58.9 208.9h0M56.7 208.4h0M56.0 212.0h0M66.6 208.5h0M58.6 207.7h0M67.1 206.0h0M62.0 203.2h0M61.6 209.0h0M52.3 212.5h0M52.3 213.4h0M65.8 209.2h0M57.2 205.3h0M57.1 212.2h0M59.7 209.9h0M59.0 209.1h0M64.9 206.2h0M58.6 206.4h0M56.9 210.3h0M64.1 208.7h0M66.5 200.0h0M59.9 204.0h0M67.5 208.7h0M58.6 214.0h0M65.0 203.1h0M62.0 207.7h0M61.0 205.7h0M57.7 211.0h0M64.9 206.6h0M56.6 202.4h0M60.0 215.1h0M67.4 206.5h0M60.1 210.1h0M60.6 208.9h0M56.9 211.8h0M61.6 205.2h0M63.8 203.6h0M63.0 213.3h0M63.0 208.0h0M60.1 209.2h0M59.3 205.5h0M55.1 209.9h0M64.7 202.3h0M61.0 211.8h0M62.7 208.7h0M64.6 209.6h0M57.9 212.4h0M61.2 207.1h0M63.8 208.4h0M61.2 203.7h0M66.0 207.2h0M62.6 208.2h0M58.5 205.2h0M67.6 205.3h0M57.2 212.9h0M55.2 210.4h0M54.5 211.0h0M67.7 203.0h0M59.8 212.1h0M58.6 210.8h0M61.4 206.6h0M54.0 212.8h0M57.3 208.1h0M55.0 209.8h0M62.0 208.0h0M68.8 203.5h0M53.2 211.7h0M65.3 211.1h0M67.4 207.1h0M73.4 201.5h0M80.3 204.6h0M75.9 200.4h0M78.2 204.2h0M82.3 206.4h0M77.9 203.6h0M75.6 201.6h0M76.4 203.5h0M77.5 205.5h0M76.4 201.7h0M77.9 206.5h0M72.8 203.9h0M77.1 204.2h0M77.0 202.7h0M75.1 206.9h0M80.8 199.7h0M67.5 203.9h0M73.3 201.7h0M70.5 203.8h0M75.3 201.7h0M78.2 208.6h0M80.0 205.7h0M74.1 204.5h0M75.3 205.6h0M77.2 202.8h0M77.1 201.3h0M77.9 206.4h0M74.3 204.2h0M70.2 205.1h0M78.2 200.5h0M80.8 203.2h0M70.0 199.7h0M78.1 202.3h0M78.9 199.3h0M75.1 205.2h0M73.3 204.5h0M74.3 203.7h0M76.4 208.1h0M71.6 204.7h0M79.5 200.3h0M75.7 208.3h0M78.7 196.0h0M74.7 198.9h0M76.4 201.2h0M73.7 201.0h0M76.3 201.8h0M72.6 202.4h0M76.7 200.9h0M78.9 199.1h0M76.7 202.0h0M80.3 201.4h0M73.4 199.8h0M81.6 204.4h0M72.1 202.1h0M72.4 206.5h0M76.7 198.2h0M76.1 205.1h0M75.4 204.0h0M75.1 203.4h0M76.1 201.3h0M76.5 203.3h0M75.3 201.3h0M72.3 203.5h0M78.0 197.3h0M73.8 206.1h0M78.3 201.3h0M79.6 200.6h0M73.0 207.4h0M74.1 202.4h0M70.3 200.6h0M71.8 202.6h0M69.7 205.4h0M74.3 201.5h0M73.5 204.7h0M80.2 202.0h0M80.4 206.7h0M79.6 203.6h0M70.8 204.5h0M74.2 203.4h0M69.6 202.3h0M76.2 200.7h0M76.3 206.8h0M76.1 201.3h0M82.8 197.9h0M72.6 203.9h0M73.6 197.6h0M76.2 204.9h0M73.0 206.4h0M77.0 205.7h0M70.7 202.9h0M80.4 207.6h0M79.5 202.9h0M76.0 201.5h0M78.8 201.3h0M75.8 198.1h0M70.7 207.1h0M75.6 203.4h0M68.6 202.8h0M81.9 199.4h0M68.0 202.5h0M73.8 202.4h0M71.5 199.7h0M71.6 204.4h0M75.3 204.9h0M72.1 204.3h0M74.0 203.1h0M78.3 203.0h0M74.3 199.0h0M75.6 204.8h0M73.4 202.8h0M69.9 199.8h0M76.7 206.0h0M74.5 199.0h0M74.2 199.3h0M74.6 207.5h0M76.4 202.6h0M78.7 202.0h0M76.5 203.4h0M76.8 199.5h0M77.7 205.0h0M68.3 196.5h0M72.6 206.4h0M75.5 204.5h0M77.2 205.0h0M73.4 201.5h0M76.6 204.4h0M77.2 203.7h0M73.9 205.5h0M76.9 205.4h0M67.4 205.3h0M67.8 203.4h0M73.3 203.2h0M73.9 202.2h0M76.0 203.7h0M72.9 196.9h0M73.0 204.2h0M72.8 203.9h0M74.3 200.7h0M79.1 206.8h0M75.1 202.8h0M78.4 199.8h0M72.7 205.6h0M78.3 201.8h0M73.0 203.8h0M71.0 201.7h0M74.7 197.1h0M77.3 204.7h0M78.8 199.5h0M71.4 201.0h0M71.3 207.8h0M72.3 202.2h0M76.1 204.0h0M80.0 200.3h0M78.2 203.3h0M71.7 203.3h0M71.0 206.8h0M73.1 205.3h0M79.6 201.5h0M72.6 203.2h0M72.1 205.1h0M76.0 201.1h0M73.2 204.7h0M70.8 206.9h0M72.9 202.5h0M72.5 206.8h0M78.0 206.0h0M77.5 203.1h0M80.8 204.5h0M76.8 204.3h0M77.8 203.6h0M74.9 199.1h0M82.0 199.8h0M68.6 201.2h0M81.6 205.8h0M73.5 203.6h0M75.3 198.2h0M74.4 203.6h0M79.2 200.0h0M68.2 199.2h0M76.5 203.1h0M75.9 203.3h0M74.3 199.7h0M76.9 203.9h0M77.3 205.9h0M71.5 197.3h0M69.7 208.0h0M72.5 203.9h0M75.4 204.7h0M85.7 201.7h0M74.9 201.5h0M76.2 204.2h0M72.3 206.1h0M79.1 204.0h0M75.1 202.4h0M70.2 204.5h0M72.3 201.7h0M78.6 200.7h0M73.8 205.0h0M81.4 201.3h0M79.0 201.4h0M76.7 204.1h0M71.8 205.4h0M81.2 203.0h0M76.3 200.1h0M81.1 203.1h0M71.3 204.8h0M70.7 201.3h0M68.6 206.2h0M82.5 201.4h0M73.3 201.5h0M73.6 204.3h0M80.1 200.5h0M76.8 198.6h0M80.3 202.7h0M73.2 206.6h0M75.1 206.2h0M78.9 206.9h0M72.9 203.1h0M76.6 202.5h0M80.3 201.2h0M78.6 206.2h0M69.2 200.6h0M72.5 201.6h0M76.7 202.5h0M75.7 201.8h0M75.2 204.1h0M77.8 201.0h0M75.1 201.1h0M74.9 199.5h0M78.5 204.5h0M75.0 201.3h0M74.0 201.3h0M70.5 206.8h0M86.0 200.0h0M71.7 204.3h0M77.4 199.1h0M69.3 204.2h0M69.1 206.3h0M73.8 203.1h0M75.4 201.6h0M75.0 202.2h0M79.4 202.7h0M75.3 201.7h0M73.4 201.2h0M75.5 207.3h0M79.0 203.5h0M80.8 205.4h0M76.1 202.5h0M71.9 203.5h0M74.4 199.1h0M71.3 207.6h0M76.1 204.1h0M76.1 201.8h0M76.9 205.5h0M74.4 204.2h0M78.7 201.8h0M76.0 201.1h0M77.4 202.0h0M79.1 201.1h0M80.8 202.2h0M72.7 200.8h0M77.5 200.9h0M81.2 206.0h0M77.1 199.5h0M75.3 201.2h0M69.6 203.9h0M82.5 201.6h0M78.0 206.0h0M72.4 202.1h0M76.3 204.1h0M71.8 203.4h0M75.1 205.2h0M70.3 201.6h0M73.8 202.2h0M77.7 201.4h0M84.2 201.2h0M78.1 205.4h0M78.5 202.4h0M72.8 202.3h0M77.6 203.2h0M77.3 204.3h0M72.6 200.7h0M80.0 201.8h0M70.4 207.4h0M72.8 200.7h0M78.5 200.2h0M72.6 205.4h0M72.8 208.9h0M75.7 209.4h0M75.8 203.1h0M73.4 202.4h0M73.8 202.9h0M77.9 199.9h0M72.5 197.9h0M80.2 202.7h0M75.4 202.8h0M78.6 203.7h0M78.1 202.5h0M75.0 202.8h0M69.5 205.5h0M70.4 200.5h0M77.6 203.1h0M78.0 207.0h0M81.4 206.2h0M74.7 207.8h0M72.6 202.7h0M78.6 202.4h0M75.0 202.1h0M79.8 197.0h0M79.5 205.5h0M75.2 204.3h0M72.3 205.6h0M85.2 200.7h0M79.9 202.8h0M74.3 201.8h0M74.8 199.9h0M71.1 206.9h0M75.4 204.3h0M76.4 204.1h0M70.5 200.6h0M77.5 205.3h0M71.8 201.5h0M72.0 204.5h0M76.5 203.0h0M73.3 203.7h0M75.5 201.1h0M76.5 201.3h0M78.5 204.4h0M73.2 204.3h0M75.6 201.2h0M72.5 198.9h0M71.8 203.8h0M79.3 201.4h0M75.9 203.8h0M77.9 204.0h0M79.4 204.8h0M73.0 203.9h0M67.9 202.5h0M75.5 204.3h0M74.5 204.9h0M79.7 200.9h0M73.7 203.6h0M77.0 203.3h0M78.1 200.1h0M77.9 205.7h0M79.0 203.9h0M74.7 203.9h0M75.2 199.1h0M73.5 202.8h0M73.8 200.7h0M74.7 202.0h0M75.6 202.8h0M76.0 205.3h0M75.9 203.9h0M71.5 195.9h0M74.1 204.6h0M74.3 201.4h0M71.5 205.1h0M73.7 203.5h0M79.0 204.2h0M82.6 202.6h0M78.5 204.6h0M73.3 203.0h0M73.6 200.5h0M76.4 201.1h0M80.8 201.1h0M73.7 203.1h0M73.8 203.1h0M73.5 199.5h0M67.7 199.8h0M80.3 204.0h0M75.9 201.8h0M75.0 203.6h0M71.0 201.0h0M72.6 205.9h0M72.0 205.7h0M73.9 209.5h0M75.2 203.0h0M79.7 205.0h0M78.4 200.4h0M79.1 207.0h0M75.1 201.8h0M71.9 205.4h0M76.4 202.9h0M71.5 206.8h0M78.2 202.9h0M80.1 200.6h0M78.2 200.5h0M79.9 202.3h0M79.3 201.9h0M76.7 205.7h0M72.5 203.2h0M72.7 205.0h0M73.5 202.0h0M74.8 205.7h0M72.1 202.9h0M74.4 201.6h0M72.9 202.5h0M76.1 199.2h0M76.2 200.1h0M75.5 208.4h0M72.3 202.8h0M74.6 205.3h0M73.9 198.6h0M70.3 203.4h0M76.2 205.5h0M73.7 204.5h0M72.0 206.0h0M75.2 201.3h0M76.0 207.1h0M72.7 199.9h0M72.2 200.2h0M75.3 203.8h0M74.9 203.4h0M79.2 202.2h0M71.4 197.4h0M76.2 201.3h0M74.6 203.9h0M76.9 199.2h0M72.4 203.1h0M74.0 221.3h0M72.9 202.0h0M77.9 204.6h0M71.5 216.8h0M71.2 229.4h0M75.1 217.6h0M73.1 227.7h0M76.0 210.1h0M78.2 204.3h0M72.7 216.2h0M74.8 208.7h0M79.2 223.3h0M71.6 216.7h0M72.5 211.8h0M77.4 215.2h0M74.1 215.0h0M70.9 221.8h0M72.2 222.3h0M73.1 211.7h0M78.9 215.6h0M72.5 211.2h0M76.2 225.7h0M76.3 212.1h0M71.1 210.4h0M74.1 215.9h0M72.5 222.1h0M71.6 210.1h0M75.9 217.3h0M73.3 220.2h0M70.2 224.2h0M81.0 226.1h0M74.8 226.2h0M74.6 222.4h0M73.8 215.6h0M76.0 203.9h0M73.8 224.7h0M65.7 216.7h0M77.2 216.4h0M75.0 222.7h0M75.4 203.1h0M71.6 212.6h0M74.9 211.7h0M74.1 224.4h0M65.6 221.3h0M77.2 218.0h0M74.5 214.8h0M75.5 215.9h0M72.3 219.1h0M71.9 214.2h0M73.4 207.5h0M76.2 214.0h0M70.9 214.0h0M70.3 223.0h0M76.0 226.3h0M72.7 218.7h0M71.5 209.3h0M74.2 216.9h0M77.2 212.8h0M77.7 220.2h0M71.8 213.4h0M71.7 224.6h0M72.8 219.7h0M77.2 212.9h0M73.0 216.5h0M72.1 206.9h0M71.5 216.5h0M75.0 225.0h0M69.0 217.4h0M71.0 221.3h0M76.5 215.2h0M67.1 216.1h0M47.1 215.7h0M45.9 224.9h0M59.1 230.5h0M49.8 217.5h0M49.1 220.0h0M47.8 220.5h0M43.8 224.1h0M47.3 222.4h0M38.7 226.8h0M58.1 226.0h0M47.0 215.1h0M39.5 216.6h0M46.0 221.6h0M34.8 231.7h0M37.1 220.9h0M45.3 230.4h0M70.7 215.4h0M49.7 220.1h0M50.4 221.6h0M76.9 208.3h0M51.3 216.7h0M56.0 217.6h0M58.1 212.9h0M73.3 219.0h0M34.9 231.9h0M47.8 214.8h0M56.8 217.5h0M59.7 216.5h0M61.4 221.4h0M56.0 222.8h0M48.8 220.6h0M56.9 226.7h0M69.2 209.8h0M63.2 219.3h0M54.7 215.9h0M68.8 212.3h0M51.6 217.2h0M71.5 227.3h0M39.4 222.2h0M56.0 218.3h0M48.9 215.2h0M54.9 213.6h0M60.6 238.5h0M49.2 235.6h0M56.1 216.5h0M49.0 216.0h0M53.6 227.4h0M61.6 218.1h0M40.7 224.7h0M68.9 220.6h0M51.8 207.0h0M48.2 227.5h0M43.1 234.8h0M46.8 217.2h0M46.7 223.1h0M62.3 215.8h0M34.9 226.1h0M57.6 232.8h0M41.4 236.2h0M59.1 224.3h0M44.9 217.6h0M43.0 231.7h0M54.6 229.9h0M70.3 218.3h0M52.0 236.9h0M39.6 222.2h0M48.8 220.5h0M53.8 215.8h0M63.9 209.5h0M44.4 211.7h0M38.6 230.2h0M58.6 219.5h0M60.7 225.1h0M46.8 223.5h0M56.0 236.6h0M48.1 226.3h0M57.8 230.3h0M56.6 229.5h0M42.0 223.0h0M33.4 226.7h0M75.4 218.8h0M53.3 224.2h0M53.9 212.2h0M45.6 222.8h0M54.1 215.6h0M51.4 217.2h0M39.5 220.7h0M44.5 230.6h0M65.6 223.6h0M50.3 218.8h0M37.0 222.2h0M67.8 227.4h0M54.6 220.1h0M52.5 225.6h0M52.4 225.7h0M44.9 224.6h0M49.0 231.3h0M40.2 235.1h0M51.6 218.9h0M52.6 223.3h0M50.1 226.2h0M46.8 211.2h0M59.3 220.6h0M68.8 221.4h0M32.8 236.4h0M45.7 228.2h0M74.2 225.4h0M41.7 224.4h0M36.6 231.2h0M58.0 213.5h0M56.9 228.4h0M60.4 215.6h0M45.6 215.8h0M39.7 227.9h0M52.8 232.1h0M55.1 219.4h0M38.4 237.3h0M54.0 221.9h0M42.6 217.1h0M58.6 213.8h0M58.2 225.8h0M48.7 211.3h0M56.5 232.0h0M44.3 215.1h0M63.1 221.0h0M46.3 233.1h0M49.7 226.5h0M48.5 217.9h0M54.6 215.6h0M35.0 222.7h0M64.5 227.7h0M73.8 224.7h0M68.3 220.5h0M48.2 227.0h0M43.1 230.2h0M48.0 225.5h0M44.1 223.5h0M62.0 218.6h0M45.8 226.2h0M61.1 219.0h0M41.0 213.7h0M39.3 233.5h0M51.6 226.2h0M63.0 222.1h0M57.2 217.6h0M36.6 230.9h0M51.5 227.0h0M42.0 224.0h0M72.2 211.5h0M53.4 232.0h0M50.2 224.0h0M31.5 233.3h0M48.1 233.0h0M51.5 220.0h0M56.7 219.7h0M47.4 235.1h0M62.1 221.0h0M60.3 226.7h0M58.1 221.5h0M53.1 225.4h0M58.0 223.8h0M47.0 223.3h0M56.9 214.2h0M52.3 228.1h0M54.1 220.0h0M52.2 219.0h0M62.1 217.4h0M36.1 217.6h0M55.4 223.4h0M47.8 214.0h0M51.0 216.7h0M46.0 224.1h0M44.9 226.6h0M45.2 220.9h0M50.2 233.8h0M67.9 225.7h0M45.2 224.3h0M61.4 226.3h0M36.5 226.0h0M45.2 229.8h0M58.7 217.1h0M73.4 215.5h0M76.3 215.6h0M51.6 236.6h0M47.3 220.3h0M66.9 218.8h0M57.1 212.2h0M69.9 225.5h0M55.9 226.9h0M47.5 220.3h0M37.0 228.9h0M64.5 225.9h0M61.4 225.6h0M43.4 215.2h0M58.7 222.2h0M62.1 218.2h0M43.8 227.9h0M47.0 211.9h0M46.5 217.6h0M41.5 221.2h0M61.7 237.4h0M69.3 215.5h0M63.6 219.3h0M56.4 216.7h0M51.7 210.5h0M70.0 212.8h0M58.2 216.9h0M55.1 213.4h0M48.8 230.1h0M58.2 207.0h0M60.8 211.0h0M55.2 225.6h0M46.1 221.8h0M50.0 226.0h0M61.4 230.3h0M55.6 236.3h0M43.2 237.7h0M49.9 228.7h0M52.3 205.8h0M54.9 218.0h0M28.2 233.9h0M51.1 205.4h0M87.9 213.0h0M43.4 206.2h0M33.7 228.8h0M64.1 222.1h0M42.9 214.9h0M88.5 217.7h0M89.8 234.7h0M35.3 233.4h0M28.8 228.9h0M78.4 228.4h0M62.1 232.2h0M37.2 223.2h0M44.2 218.6h0M39.5 228.8h0M63.5 231.1h0M67.0 225.2h0M85.5 232.2h0M63.1 216.2h0M85.9 217.7h0M33.9 216.4h0M71.9 236.2h0M68.1 227.3h0M86.5 231.1h0M55.5 220.7h0M75.3 215.9h0M34.3 225.9h0M78.4 213.6h0M70.5 234.9h0M35.5 209.9h0M58.5 216.5h0M87.2 238.3h0M55.5 231.6h0M67.2 211.1h0M88.6 211.2h0M32.2 220.4h0M28.5 221.3h0M53.4 236.9h0M53.5 233.5h0M76.6 224.8h0M42.4 215.5h0M58.4 218.5h0M68.1 222.1h0M47.8 225.4h0M90.2 212.1h0M48.6 205.8h0M33.3 207.3h0M54.1 233.0h0M71.4 237.3h0M80.2 224.8h0M64.0 205.8h0M51.6 214.1h0M66.5 207.6h0M61.6 217.8h0M58.4 218.8h0M33.9 229.6h0M77.8 225.2h0M34.7 225.2h0M82.3 238.0h0M75.2 206.9h0M82.8 227.4h0M44.8 235.8h0M79.5 235.0h0M43.0 224.5h0M51.3 215.2h0M75.4 225.8h0M48.3 223.3h0M85.9 224.1h0M85.0 224.1h0M89.9 206.4h0M56.4 223.6h0M73.2 237.4h0M66.7 221.2h0M67.4 223.0h0M71.8 236.7h0M28.3 216.0h0M82.6 207.4h0M77.2 206.4h0M68.3 231.8h0M42.4 218.0h0M41.7 228.7h0M60.7 225.4h0M47.9 224.8h0M87.6 231.1h0M87.4 213.6h0M59.9 218.2h0M49.2 231.9h0M38.4 223.9h0M76.2 236.3h0M28.6 214.4h0M58.5 236.3h0M37.7 233.2h0M52.4 223.5h0M85.9 207.5h0M48.2 210.6h0M35.9 215.4h0M71.6 224.6h0M35.1 231.9h0M59.4 210.1h0M79.1 232.5h0M41.1 236.4h0M78.5 213.0h0M27.5 234.0h0M79.5 208.6h0M75.7 230.9h0M67.4 232.9h0M89.5 216.2h0M66.3 204.6h0M53.3 202.3h0M62.5 203.9h0M59.6 198.2h0M51.7 200.9h0M48.8 204.0h0M67.7 197.8h0M62.9 202.2h0M48.5 203.2h0M64.6 198.5h0M47.9 198.2h0M64.7 200.1h0M65.8 197.0h0M48.1 198.9h0M67.4 197.0h0M47.3 203.0h0M47.7 202.1h0M47.5 197.9h0M62.0 204.2h0M55.7 199.9h0M46.2 198.8h0M51.5 203.3h0M63.3 203.3h0M58.7 202.4h0M48.6 199.3h0M52.7 198.2h0M63.9 197.6h0M53.6 198.2h0M67.0 201.8h0M57.4 199.2h0M68.5 204.8h0M56.7 201.1h0M67.0 198.0h0M51.9 196.5h0M58.0 203.1h0M49.3 199.7h0M70.2 200.2h0M55.0 203.8h0M67.7 199.2h0M48.5 201.8h0" fill="none" stroke="#000" stroke-width="0.85" stroke-linecap="square"/>
<line x1="26.3" y1="239.3" x2="91.3" y2="239.3" stroke="#333" stroke-width="0.8" />
<line x1="26.3" y1="188.8" x2="26.3" y2="239.3" stroke="#333" stroke-width="0.8" />
<line x1="30.3625" y1="239.8" x2="30.3625" y2="238.10000000000002" stroke="#000" stroke-width="0.5" />
<line x1="25.8" y1="191.95625" x2="27.5" y2="191.95625" stroke="#000" stroke-width="0.5" />
<line x1="34.425" y1="239.8" x2="34.425" y2="238.10000000000002" stroke="#000" stroke-width="0.7" />
<line x1="25.8" y1="195.1125" x2="27.5" y2="195.1125" stroke="#000" stroke-width="0.7" />
<line x1="38.4875" y1="239.8" x2="38.4875" y2="238.10000000000002" stroke="#000" stroke-width="0.5" />
<line x1="25.8" y1="198.26875" x2="27.5" y2="198.26875" stroke="#000" stroke-width="0.5" />
<line x1="42.55" y1="239.8" x2="42.55" y2="238.10000000000002" stroke="#000" stroke-width="0.7" />
<line x1="25.8" y1="201.425" x2="27.5" y2="201.425" stroke="#000" stroke-width="0.7" />
<line x1="46.6125" y1="239.8" x2="46.6125" y2="238.10000000000002" stroke="#000" stroke-width="0.5" />
<line x1="25.8" y1="204.58125" x2="27.5" y2="204.58125" stroke="#000" stroke-width="0.5" />
<line x1="50.675" y1="239.8" x2="50.675" y2="238.10000000000002" stroke="#000" stroke-width="0.7" />
<line x1="25.8" y1="207.7375" x2="27.5" y2="207.7375" stroke="#000" stroke-width="0.7" />
<line x1="54.7375" y1="239.8" x2="54.7375" y2="238.10000000000002" stroke="#000" stroke-width="0.5" />
<line x1="25.8" y1="210.89375" x2="27.5" y2="210.89375" stroke="#000" stroke-width="0.5" />
<line x1="58.8" y1="239.8" x2="58.8" y2="238.10000000000002" stroke="#000" stroke-width="0.7" />
<line x1="25.8" y1="214.05" x2="27.5" y2="214.05" stroke="#000" stroke-width="0.7" />
<line x1="62.8625" y1="239.8" x2="62.8625" y2="238.10000000000002" stroke="#000" stroke-width="0.5" />
<line x1="25.8" y1="217.20625" x2="27.5" y2="217.20625" stroke="#000" stroke-width="0.5" />
<line x1="66.925" y1="239.8" x2="66.925" y2="238.10000000000002" stroke="#000" stroke-width="0.7" />
<line x1="25.8" y1="220.3625" x2="27.5" y2="220.3625" stroke="#000" stroke-width="0.7" />
<line x1="70.9875" y1="239.8" x2="70.9875" y2="238.10000000000002" stroke="#000" stroke-width="0.5" />
<line x1="25.8" y1="223.51875" x2="27.5" y2="223.51875" stroke="#000" stroke-width="0.5" />
<line x1="75.05" y1="239.8" x2="75.05" y2="238.10000000000002" stroke="#000" stroke-width="0.7" />
<line x1="25.8" y1="226.675" x2="27.5" y2="226.675" stroke="#000" stroke-width="0.7" />
<line x1="79.1125" y1="239.8" x2="79.1125" y2="238.10000000000002" stroke="#000" stroke-width="0.5" />
<line x1="25.8" y1="229.83125" x2="27.5" y2="229.83125" stroke="#000" stroke-width="0.5" />
<line x1="83.175" y1="239.8" x2="83.175" y2="238.10000000000002" stroke="#000" stroke-width="0.7" />
<line x1="25.8" y1="232.9875" x2="27.5" y2="232.9875" stroke="#000" stroke-width="0.7" />
<line x1="87.2375" y1="239.8" x2="87.2375" y2="238.10000000000002" stroke="#000" stroke-width="0.5" />
<line x1="25.8" y1="236.14375" x2="27.5" y2="236.14375" stroke="#000" stroke-width="0.5" />
<rect x="38.8" y="194.3" width="45.0" height="11.5" fill="none" stroke="#000" stroke-width="1.1"/>
<path d="M67.5,194.3 V226.3 H83.8 V205.8" fill="none" stroke="#000" stroke-width="1.1"/>
<rect x="28.3" y="197.3" width="9.5" height="6.6" fill="#fff"/>
<text x="29.0" y="203.1" font-size="6.7" font-weight="bold" text-anchor="start" font-family='"Liberation Sans", sans-serif' fill="#000" >R1</text>
<text x="88.8" y="204.0" font-size="6.7" font-weight="bold" text-anchor="start" font-family='"Liberation Sans", sans-serif' fill="#000" >R2</text>
<text x="88.8" y="216.9" font-size="6.7" font-weight="bold" text-anchor="start" font-family='"Liberation Sans", sans-serif' fill="#000" >R3</text>
<path d="M86,198.5 l1,-2" stroke="#000" stroke-width="0.7"/>
<rect x="26.3" y="271.8" width="65.7" height="49.5" fill="#fff" stroke="#888" stroke-width="0.7"/>
<path d="M57.5 294.0h0M45.5 308.9h0M42.9 306.4h0M58.6 289.6h0M60.6 295.0h0M54.4 296.8h0M62.4 289.7h0M50.0 298.1h0M47.0 308.4h0M51.2 311.5h0M60.7 301.2h0M44.7 314.1h0M57.3 296.2h0M51.0 300.6h0M41.0 315.9h0M53.1 304.6h0M46.9 308.9h0M52.3 288.1h0M49.5 308.4h0M41.9 306.6h0M51.5 302.6h0M43.2 318.3h0M55.6 297.3h0M45.9 304.3h0M49.3 319.1h0M47.5 302.7h0M53.9 295.0h0M49.8 299.9h0M44.1 317.2h0M51.4 294.5h0M50.0 307.1h0M48.0 309.8h0M49.7 301.7h0M49.8 297.9h0M54.3 309.6h0M48.0 297.3h0M44.5 317.4h0M58.0 293.4h0M55.9 287.4h0M48.6 314.3h0M47.5 306.5h0M48.3 293.0h0M49.5 295.3h0M45.1 317.6h0M46.8 305.6h0M49.7 314.4h0M51.2 298.2h0M45.2 315.1h0M52.6 304.3h0M52.8 293.9h0M49.2 300.4h0M42.7 311.3h0M54.1 299.2h0M51.0 309.8h0M51.4 295.6h0M57.2 300.0h0M48.2 315.4h0M49.8 309.6h0M54.6 295.5h0M50.5 296.6h0M56.3 289.8h0M47.5 310.4h0M50.2 305.1h0M54.3 293.8h0M54.9 293.6h0M44.7 316.1h0M46.6 317.2h0M48.5 308.7h0M53.2 292.3h0M56.5 286.9h0M49.3 305.7h0M53.9 290.9h0M56.2 290.1h0M53.1 301.4h0M52.2 296.4h0M54.0 302.7h0M51.6 305.4h0M55.4 297.7h0M48.2 318.1h0M46.9 311.8h0M53.0 298.5h0M47.4 308.3h0M53.9 293.2h0M51.3 296.6h0M56.4 295.5h0M60.3 294.4h0M53.7 290.9h0M47.1 315.0h0M53.4 292.2h0M48.1 300.7h0M47.8 315.8h0M48.3 295.4h0M47.3 309.2h0M55.9 306.8h0M44.8 302.0h0M57.1 289.7h0M52.3 293.0h0M47.7 316.4h0M52.6 298.2h0M47.0 316.4h0M53.8 298.0h0M53.0 287.9h0M39.4 318.5h0M43.5 318.9h0M62.7 293.3h0M54.4 292.3h0M49.1 297.7h0M40.4 313.6h0M48.4 312.1h0M47.9 314.0h0M46.1 296.1h0M41.0 302.3h0M49.8 312.3h0M50.6 311.4h0M48.1 315.6h0M53.3 287.2h0M51.9 300.6h0M42.8 310.8h0M55.2 297.7h0M57.3 285.4h0M46.2 316.3h0M53.0 292.1h0M49.7 294.6h0M52.7 287.0h0M46.1 301.0h0M53.6 303.7h0M45.7 307.5h0M46.1 309.7h0M50.3 307.0h0M44.1 314.8h0M47.2 303.3h0M53.8 311.9h0M54.9 293.7h0M54.6 311.1h0M54.6 295.8h0M53.8 294.0h0M49.7 312.5h0M55.8 291.3h0M56.6 300.1h0M50.6 305.5h0M58.5 298.9h0M45.8 299.6h0M54.5 289.5h0M49.4 301.9h0M55.4 288.9h0M44.9 315.0h0M42.9 310.9h0M46.1 310.2h0M58.5 289.2h0M54.2 302.4h0M50.0 297.5h0M47.7 320.3h0M44.9 317.5h0M52.8 291.2h0M50.6 306.4h0M46.0 317.2h0M56.4 293.0h0M46.7 317.3h0M49.4 303.3h0M45.7 307.5h0M48.8 294.6h0M51.3 310.4h0M50.7 299.7h0M48.3 312.4h0M49.0 298.4h0M48.2 314.8h0M52.4 297.9h0M51.8 297.6h0M49.0 316.4h0M49.9 304.1h0M47.4 312.6h0M55.1 289.9h0M54.2 290.6h0M46.2 319.2h0M52.6 298.8h0M50.0 314.6h0M52.9 296.6h0M56.0 295.2h0M44.1 312.4h0M54.7 293.2h0M49.9 304.1h0M51.1 296.8h0M55.6 315.1h0M42.7 315.2h0M39.9 315.7h0M49.7 314.9h0M50.3 298.6h0M56.4 293.5h0M43.7 310.9h0M50.1 295.1h0M55.9 305.9h0M43.9 319.5h0M52.0 298.7h0M50.9 305.7h0M43.5 309.9h0M52.0 310.1h0M49.5 310.3h0M51.5 308.6h0M48.0 300.8h0M56.5 295.9h0M60.4 285.0h0M48.1 294.2h0M53.1 302.9h0M47.6 313.5h0M47.9 305.8h0M54.5 291.8h0M54.3 293.6h0M52.5 292.7h0M52.0 313.1h0M51.1 301.9h0M43.0 308.3h0M52.0 295.9h0M52.8 302.2h0M49.4 303.7h0M55.9 289.3h0M46.3 313.6h0M47.9 301.0h0M57.2 305.6h0M48.7 319.0h0M53.8 294.6h0M56.0 290.7h0M47.6 309.5h0M51.0 300.6h0M55.1 299.5h0M46.6 306.8h0M56.9 284.9h0M47.7 305.6h0M49.7 299.5h0M48.7 299.1h0M46.1 292.8h0M48.6 315.2h0M51.4 302.3h0M47.1 302.5h0M53.5 307.1h0M45.9 318.0h0M50.2 303.6h0M56.0 308.3h0M51.2 292.0h0M45.8 307.4h0M61.1 287.8h0M55.8 294.4h0M50.9 310.4h0M60.3 281.9h0M47.2 312.5h0M51.4 311.6h0M46.1 305.8h0M50.0 305.5h0M51.9 294.2h0M49.8 305.4h0M48.5 303.1h0M59.3 288.3h0M52.2 294.1h0M47.0 301.1h0M48.7 315.2h0M47.3 307.0h0M50.9 299.1h0M47.7 310.4h0M51.0 286.3h0M40.2 315.1h0M57.6 288.3h0M52.9 307.2h0M55.9 290.4h0M55.4 294.1h0M42.2 304.1h0M57.6 288.3h0M57.6 294.2h0M55.7 293.2h0M51.8 306.0h0M58.2 302.9h0M44.3 313.5h0M56.0 319.4h0M48.5 295.9h0M59.6 287.6h0M38.8 309.1h0M50.2 291.1h0M43.5 303.9h0M47.3 311.9h0M49.3 301.5h0M53.6 291.5h0M46.5 304.2h0M45.8 320.3h0M56.2 291.2h0M44.6 313.9h0M52.2 307.9h0M39.6 306.6h0M51.3 314.4h0M46.3 318.6h0M55.0 291.3h0M51.8 306.9h0M50.3 302.5h0M50.2 315.6h0M51.2 304.1h0M51.9 293.3h0M41.9 311.1h0M45.3 305.1h0M49.9 301.1h0M43.5 302.4h0M53.7 287.6h0M43.5 307.9h0M43.0 299.7h0M52.3 305.4h0M53.7 297.3h0M49.7 307.9h0M42.9 310.0h0M56.3 297.5h0M45.2 318.8h0M53.5 306.1h0M53.9 305.5h0M52.3 305.3h0M49.5 299.2h0M56.2 295.1h0M51.1 306.3h0M58.4 297.7h0M45.8 306.2h0M56.8 304.8h0M55.0 285.9h0M52.0 315.5h0M50.6 296.2h0M51.1 308.5h0M43.1 320.3h0M52.1 315.4h0M57.5 294.1h0M44.9 309.3h0M54.3 293.2h0M52.0 293.3h0M56.8 294.7h0M47.7 318.0h0M55.0 291.3h0M57.4 281.6h0M60.6 292.2h0M45.8 314.2h0M59.5 290.0h0M49.7 314.5h0M47.4 296.7h0M43.9 311.1h0M55.0 295.6h0M54.3 288.8h0M48.2 305.7h0M45.0 317.0h0M43.9 311.9h0M53.2 304.9h0M52.7 292.1h0M49.2 303.0h0M49.2 310.6h0M56.8 292.7h0M53.1 304.1h0M43.9 303.0h0M48.6 297.9h0M53.8 294.9h0M56.6 287.4h0M46.6 319.7h0M49.7 315.0h0M49.4 312.3h0M45.9 314.1h0M48.5 308.2h0M54.2 289.6h0M51.6 310.4h0M57.8 294.3h0M53.2 303.5h0M49.8 295.9h0M51.0 300.7h0M48.0 312.5h0M60.2 293.8h0M45.3 315.0h0M57.3 287.1h0M51.3 306.0h0M50.2 299.1h0M53.6 310.3h0M48.3 314.8h0M49.6 296.3h0M54.7 290.6h0M52.0 304.5h0M48.8 315.4h0M54.3 290.7h0M43.8 309.7h0M48.2 319.9h0M56.5 303.1h0M44.0 309.1h0M51.5 307.2h0M43.6 304.2h0M56.8 284.8h0M47.8 290.7h0M56.2 287.1h0M49.1 302.2h0M54.7 299.9h0M45.8 306.0h0M64.9 295.9h0M53.6 299.2h0M53.6 302.3h0M52.3 308.3h0M50.3 303.9h0M52.0 304.7h0M47.6 308.2h0M49.5 303.6h0M36.7 314.8h0M46.1 312.2h0M47.6 296.4h0M45.9 319.9h0M46.3 309.2h0M52.1 291.0h0M53.3 286.2h0M53.9 294.3h0M51.8 288.8h0M45.1 313.3h0M50.6 306.1h0M47.8 314.1h0M46.6 315.4h0M57.8 290.5h0M56.9 296.1h0M52.5 289.4h0M48.1 313.0h0M47.6 295.2h0M50.1 305.9h0M52.2 304.1h0M49.2 289.3h0M42.7 314.3h0M48.7 296.5h0M58.9 291.4h0M46.4 315.5h0M49.8 314.1h0M47.9 301.8h0M45.3 310.3h0M51.9 302.6h0M56.7 290.6h0M46.7 307.5h0M54.8 295.1h0M57.1 301.9h0M52.6 307.1h0M51.1 300.9h0M48.3 310.0h0M56.2 303.1h0M51.5 304.7h0M55.1 293.1h0M48.3 317.3h0M53.0 293.3h0M40.9 317.0h0M42.6 313.8h0M50.7 304.3h0M46.7 315.5h0M42.1 304.2h0M57.1 288.1h0M54.2 291.1h0M55.1 287.6h0M50.0 315.1h0M52.2 299.3h0M47.0 317.7h0M48.6 309.3h0M57.2 292.2h0M56.1 300.3h0M52.3 296.2h0M46.6 319.6h0M47.3 317.6h0M51.1 293.7h0M53.9 288.4h0M53.1 299.0h0M41.3 301.0h0M53.9 303.1h0M43.3 309.6h0M41.9 317.7h0M53.2 297.2h0M51.4 301.9h0M48.3 302.7h0M50.6 295.5h0M51.0 304.9h0M55.7 291.5h0M58.2 300.5h0M50.8 301.0h0M54.3 300.5h0M52.1 291.0h0M46.2 317.7h0M42.1 314.3h0M48.8 288.3h0M47.5 304.1h0M53.4 303.1h0M43.2 320.0h0M48.3 299.5h0M55.7 289.2h0M43.5 313.4h0M51.4 298.8h0M52.1 301.1h0M53.5 306.4h0M58.6 287.2h0M57.2 296.1h0M53.2 295.6h0M54.7 292.1h0M37.8 313.7h0M52.9 298.8h0M52.5 303.8h0M45.3 314.2h0M48.1 293.2h0M59.4 298.3h0M54.4 300.7h0M44.8 314.1h0M49.5 287.2h0M48.2 307.8h0M50.5 297.8h0M49.0 303.6h0M41.7 314.2h0M48.0 307.7h0M39.0 316.4h0M58.5 296.6h0M47.2 300.3h0M52.7 307.3h0M43.7 320.4h0M46.2 301.0h0M47.3 306.4h0M44.2 318.5h0M60.3 286.0h0M47.9 311.6h0M51.5 290.7h0M52.7 302.2h0M51.2 296.0h0M44.9 312.4h0M48.8 312.7h0M44.0 301.9h0M42.2 320.1h0M48.4 302.4h0M45.7 309.2h0M62.6 285.4h0M46.2 310.0h0M52.1 309.4h0M56.1 286.7h0M48.7 309.7h0M55.3 292.1h0M53.9 287.4h0M46.5 303.2h0M57.1 290.6h0M45.4 313.6h0M53.4 299.3h0M52.8 294.2h0M57.6 293.5h0M40.3 314.6h0M46.8 305.3h0M56.3 286.1h0M47.3 295.2h0M50.8 290.8h0M45.1 315.5h0M55.3 290.1h0M57.4 289.0h0M55.3 312.2h0M43.9 311.7h0M48.5 299.9h0M52.4 303.9h0M49.0 302.9h0M40.5 313.8h0M56.6 308.2h0M46.8 313.7h0M53.7 300.9h0M49.6 302.4h0M46.3 308.1h0M49.8 309.4h0M43.2 313.6h0M57.7 298.0h0M51.2 306.3h0M48.0 309.0h0M46.2 307.1h0M52.0 300.6h0M50.2 297.2h0M50.9 306.4h0M47.0 315.9h0M48.6 304.4h0M47.3 313.4h0M44.4 310.3h0M49.2 306.4h0M45.9 302.6h0M52.3 306.9h0M52.6 293.3h0M46.4 309.5h0M46.2 310.0h0M47.9 312.5h0M44.7 297.3h0M61.4 284.1h0M56.1 293.5h0M59.2 286.0h0M48.8 301.1h0M43.7 313.3h0M48.8 311.7h0M53.8 296.2h0M48.8 308.2h0M49.5 298.0h0M41.5 316.3h0M54.8 295.8h0M48.8 307.1h0M53.3 299.7h0M51.4 297.2h0M53.1 303.1h0M47.8 303.5h0M48.1 314.3h0M48.1 310.0h0M57.3 287.8h0M49.6 299.6h0M44.6 315.5h0M51.9 301.5h0M43.9 309.9h0M54.2 285.4h0M48.2 317.1h0M60.6 294.3h0M50.8 307.3h0M43.4 315.1h0M55.1 301.7h0M50.0 292.3h0M46.7 306.6h0M57.6 286.8h0M51.1 307.4h0M58.8 288.5h0M51.6 288.2h0M51.0 295.3h0M51.7 291.3h0M55.4 292.3h0M55.0 308.0h0M47.2 314.2h0M46.1 309.6h0M46.0 303.8h0M51.8 289.8h0M45.8 307.1h0M43.2 308.2h0M50.7 294.8h0M48.9 317.7h0M56.3 290.5h0M54.7 292.5h0M55.8 295.3h0M50.1 299.5h0M50.2 307.0h0M50.1 309.5h0M49.9 300.8h0M58.5 304.2h0M40.1 307.5h0M48.9 313.1h0M48.6 310.7h0M44.1 319.7h0M50.2 309.4h0M41.2 314.5h0M42.9 314.9h0M48.1 291.4h0M52.5 302.1h0M53.3 296.2h0M48.7 309.4h0M50.0 290.3h0M52.8 299.9h0M45.0 307.8h0M55.4 303.7h0M44.0 319.3h0M51.0 294.7h0M46.9 316.7h0M45.0 315.5h0M55.1 295.9h0M51.8 309.5h0M48.3 304.3h0M57.1 287.8h0M58.7 288.4h0M52.1 305.1h0M48.5 316.0h0M48.8 304.5h0M59.6 296.8h0M48.9 301.5h0M48.5 300.4h0M53.2 303.0h0M57.9 296.3h0M50.3 299.3h0M44.9 304.9h0M42.8 316.1h0M51.4 302.9h0M49.6 309.6h0M54.8 289.5h0M58.5 302.2h0M54.9 302.0h0M49.1 301.2h0M54.5 290.3h0M56.3 292.1h0M57.2 292.0h0M46.5 314.2h0M52.7 291.1h0M58.6 281.6h0M51.3 287.3h0M49.4 300.5h0M51.1 305.6h0M57.4 289.0h0M48.5 297.5h0M55.9 298.6h0M57.0 292.8h0M46.5 312.0h0M54.5 299.8h0M41.4 309.7h0M50.3 300.7h0M44.3 319.8h0M54.3 301.8h0M54.4 302.8h0M47.0 308.7h0M55.4 289.3h0M51.8 299.1h0M48.1 304.6h0M46.3 318.0h0M48.0 319.0h0M47.3 313.3h0M54.2 293.3h0M55.4 301.9h0M51.5 306.4h0M54.7 292.9h0M44.4 303.6h0M56.7 306.6h0M46.9 296.5h0M41.1 312.0h0M53.2 294.1h0M49.7 308.4h0M45.4 307.6h0M53.5 299.1h0M48.3 311.6h0M56.1 292.1h0M54.0 304.0h0M58.9 288.9h0M45.2 320.2h0M53.5 299.3h0M49.8 309.4h0M47.7 309.1h0M47.0 311.3h0M50.4 304.5h0M53.0 318.3h0M51.7 309.1h0M48.8 319.6h0M43.8 309.9h0M45.0 311.8h0M51.5 288.7h0M58.1 302.3h0M49.5 294.6h0M50.5 299.7h0M45.6 309.9h0M38.1 317.4h0M54.0 300.5h0M48.3 299.2h0M48.0 297.0h0M51.6 298.2h0M45.7 317.6h0M46.0 307.9h0M56.1 285.4h0M54.5 296.6h0M55.0 298.8h0M55.9 289.5h0M47.3 311.0h0M43.6 309.1h0M59.9 288.9h0M46.3 313.4h0M45.8 314.1h0M53.3 307.6h0M49.5 311.0h0M54.4 309.5h0M55.4 294.0h0M47.0 308.8h0M53.7 286.1h0M44.3 320.2h0M58.8 292.4h0M50.6 315.1h0M54.2 292.0h0M51.2 312.2h0M46.1 317.8h0M56.1 288.3h0M57.0 290.8h0M49.5 305.6h0M48.4 293.2h0M49.9 308.7h0M47.7 296.5h0M46.4 314.6h0M54.1 291.1h0M56.6 297.5h0M48.0 305.6h0M52.9 298.8h0M52.0 298.8h0M56.9 291.5h0M46.4 296.9h0M46.8 298.4h0M54.2 304.6h0M47.8 308.8h0M45.1 316.7h0M49.1 293.5h0M40.7 314.1h0M52.3 296.3h0M52.4 286.7h0M51.7 310.8h0M52.9 303.3h0M48.6 293.5h0M50.3 314.3h0M52.1 301.8h0M52.2 292.6h0M42.0 311.2h0M53.3 298.5h0M58.2 295.5h0M53.8 303.9h0M53.3 297.4h0M51.0 301.6h0M57.9 290.5h0M48.3 313.9h0M47.4 298.6h0M54.4 300.7h0M55.6 298.7h0M44.6 318.7h0M52.2 303.0h0M51.4 298.9h0M41.4 313.1h0M45.5 318.1h0M56.4 300.5h0M42.8 314.3h0M55.0 284.9h0M43.9 312.2h0M47.7 306.5h0M52.7 305.5h0M50.6 297.4h0M49.6 299.8h0M46.4 312.1h0M48.1 315.3h0M59.8 297.1h0M53.0 313.3h0M55.9 293.6h0M50.3 304.3h0M50.5 290.6h0M49.6 315.9h0M50.9 298.4h0M53.6 300.9h0M58.9 292.7h0M46.6 307.0h0M48.2 315.9h0M49.0 311.4h0M48.6 289.5h0M54.3 288.1h0M44.8 310.0h0M58.8 294.8h0M45.0 310.2h0M59.2 288.8h0M59.7 288.6h0M53.0 306.9h0M50.8 296.7h0M50.5 295.9h0M44.9 314.8h0M49.7 312.6h0M45.0 314.8h0M52.0 302.4h0M52.5 299.1h0M49.8 295.2h0M52.5 306.0h0M45.5 311.5h0M51.8 303.4h0M50.2 294.8h0M56.2 294.7h0M41.1 318.2h0M58.9 288.4h0M54.6 306.8h0M53.9 308.5h0M58.0 290.4h0M50.1 301.0h0M58.4 295.8h0M60.8 290.9h0M42.8 317.1h0M46.1 320.0h0M53.1 303.1h0M50.0 314.0h0M58.7 302.1h0M46.8 314.3h0M48.8 297.4h0M51.0 294.7h0M53.4 298.0h0M53.7 307.9h0M52.1 301.4h0M52.2 287.6h0M57.1 286.4h0M46.7 314.8h0M59.8 288.8h0M51.7 286.7h0M51.8 301.8h0M51.8 296.6h0M50.9 304.1h0M51.0 288.5h0M51.0 295.3h0M46.1 309.8h0M53.5 296.7h0M51.9 312.2h0M48.7 304.3h0M50.7 301.7h0M59.0 298.6h0M49.2 308.5h0M48.1 302.1h0M41.7 312.9h0M47.7 301.4h0M45.1 318.4h0M48.8 301.5h0M51.6 302.7h0M56.9 288.8h0M48.3 298.5h0M49.7 287.3h0M54.0 297.2h0M51.2 300.3h0M59.2 293.6h0M43.6 305.9h0M41.1 315.7h0M50.7 300.5h0M49.7 299.6h0M52.6 294.2h0M51.6 301.8h0M44.2 312.7h0M50.0 313.3h0M52.5 296.9h0M47.8 306.3h0M53.2 287.2h0M44.8 320.5h0M53.9 302.2h0M43.2 308.4h0M50.6 298.4h0M43.4 312.9h0M56.3 294.5h0M55.2 297.5h0M46.1 315.2h0M46.8 304.8h0M45.6 307.3h0M46.7 314.0h0M57.5 304.3h0M46.3 316.5h0M48.7 309.8h0M55.7 292.2h0M45.1 316.7h0M46.2 309.4h0M59.3 288.9h0M55.1 302.4h0M56.3 290.8h0M50.5 310.6h0M57.6 297.4h0M44.2 312.1h0M53.5 308.9h0M54.2 286.4h0M51.6 300.8h0M50.8 318.0h0M47.0 306.6h0M56.7 296.3h0M52.0 294.7h0M59.3 293.4h0M56.2 290.9h0M52.8 289.2h0M41.6 317.7h0M47.2 318.3h0M58.6 290.8h0M51.6 290.7h0M55.4 307.1h0M49.5 296.2h0M50.4 294.4h0M49.8 298.7h0M49.0 305.3h0M47.6 303.0h0M56.2 287.1h0M44.7 309.7h0M37.8 315.3h0M48.4 313.9h0M55.5 283.5h0M52.1 296.6h0M58.3 289.2h0M43.2 311.9h0M45.3 307.7h0M50.1 282.7h0M57.7 296.1h0M45.6 304.6h0M51.8 300.8h0M49.6 303.7h0M54.7 299.1h0M47.6 315.9h0M55.4 293.2h0M52.2 306.6h0M54.6 294.0h0M47.5 308.0h0M50.0 305.1h0M57.3 284.8h0M50.5 304.3h0M52.1 294.7h0M47.0 318.1h0M47.8 300.7h0M49.7 312.9h0M52.9 304.8h0M47.9 313.9h0M48.5 302.3h0M55.0 308.4h0M46.8 299.5h0M51.4 301.7h0M53.6 287.2h0M58.7 288.6h0M42.2 315.8h0M52.1 299.7h0M53.7 295.4h0M46.9 318.9h0M52.6 301.8h0M44.7 313.0h0M47.8 306.2h0M40.4 314.6h0M50.6 315.8h0M49.6 314.3h0M45.4 314.2h0M55.4 286.6h0M46.8 300.6h0M45.5 307.2h0M44.0 312.1h0M54.1 292.3h0M50.0 309.3h0M55.3 298.1h0M43.0 307.3h0M43.8 315.1h0M51.2 297.0h0M46.3 314.2h0M59.1 287.6h0M47.1 307.2h0M51.3 304.2h0M51.2 312.4h0M47.0 309.5h0M47.0 297.2h0M53.0 294.3h0M46.6 310.3h0M55.0 286.7h0M52.4 309.5h0M54.8 296.2h0M47.1 298.9h0M55.8 305.4h0M44.1 307.8h0M51.9 300.4h0M54.2 297.7h0M50.4 301.8h0M52.4 294.7h0M49.8 291.0h0M48.2 291.3h0M44.1 318.4h0M52.2 300.1h0M47.9 317.9h0M49.4 304.9h0M50.7 304.0h0M47.0 319.4h0M44.6 313.9h0M55.3 294.4h0M46.6 316.0h0M52.4 295.3h0M58.2 295.8h0M60.3 287.5h0M43.5 304.9h0M49.0 307.8h0M51.6 318.0h0M42.9 316.1h0M51.3 298.3h0M46.8 315.0h0M52.0 305.4h0M46.0 316.3h0M51.7 293.3h0M46.2 297.3h0M58.1 299.1h0M47.1 302.3h0M57.1 299.5h0M54.1 296.9h0M43.8 316.0h0M45.5 298.3h0M51.4 297.3h0M44.6 301.7h0M54.8 292.3h0M50.6 294.2h0M55.8 290.2h0M59.7 299.3h0M54.0 299.5h0M49.5 306.3h0M44.0 310.4h0M53.5 296.6h0M46.1 293.5h0M55.0 287.9h0M44.0 312.6h0M51.8 301.3h0M49.7 297.3h0M60.2 286.9h0M46.2 315.5h0M44.7 313.1h0M52.7 294.0h0M60.0 291.1h0M57.4 285.5h0M58.9 291.8h0M42.0 319.5h0M50.6 310.5h0M44.7 314.4h0M54.9 303.9h0M42.6 311.8h0M44.0 309.6h0M53.3 303.3h0M52.7 291.7h0M49.2 307.7h0M46.8 303.8h0M49.0 308.2h0M50.3 319.8h0M54.5 298.3h0M43.7 319.7h0M47.3 295.6h0M55.5 288.1h0M45.2 312.9h0M56.2 291.8h0M53.0 290.8h0M53.7 302.5h0M48.4 301.8h0M54.3 300.8h0M56.8 293.6h0M52.5 299.9h0M48.9 298.6h0M58.1 295.7h0M48.4 303.9h0M52.6 310.4h0M48.0 295.3h0M56.0 294.8h0M53.4 301.1h0M52.3 307.9h0M60.3 285.5h0M44.8 308.4h0M48.2 297.7h0M45.2 311.7h0M46.2 314.3h0M48.9 299.1h0M49.3 293.1h0M45.1 316.4h0M47.4 312.2h0M48.1 303.9h0M58.9 285.0h0M48.4 295.1h0M53.1 298.4h0M51.5 301.5h0M53.1 287.9h0M46.9 308.4h0M48.3 298.7h0M55.5 292.5h0M57.8 295.7h0M49.4 306.8h0M48.7 304.9h0M53.3 299.2h0M48.7 303.4h0M46.3 307.7h0M49.5 301.8h0M42.7 320.1h0M44.1 314.1h0M51.5 313.4h0M46.4 315.7h0M47.9 300.9h0M54.0 297.8h0M51.7 297.3h0M46.8 304.9h0M56.9 293.5h0M55.7 295.7h0M57.4 297.7h0M47.4 306.0h0M46.1 317.9h0M55.8 295.3h0M46.1 314.2h0M49.6 297.1h0M54.2 300.7h0M51.1 302.4h0M48.2 306.2h0M57.4 295.7h0M45.0 312.7h0M50.2 313.9h0M59.5 303.8h0M46.1 317.8h0M41.9 307.9h0M41.6 313.4h0M45.4 313.4h0M55.7 288.2h0M46.1 308.3h0M42.0 313.3h0M40.3 318.2h0M44.7 310.0h0M48.8 303.7h0M51.4 279.8h0M45.5 309.0h0M51.6 296.0h0M44.1 312.5h0M50.1 296.9h0M49.0 304.8h0M53.5 284.9h0M49.9 300.2h0M51.5 289.9h0M48.4 305.4h0M53.8 308.5h0M55.2 293.9h0M55.7 305.0h0M49.0 299.8h0M49.6 313.2h0M45.9 301.8h0M42.7 319.2h0M49.1 303.7h0M53.9 292.3h0M46.4 314.9h0M51.2 305.5h0M45.2 317.8h0M44.2 309.5h0M44.3 308.1h0M58.5 290.4h0M45.1 317.5h0M45.7 315.1h0M55.6 290.8h0M39.4 314.4h0M49.3 297.4h0M51.4 293.1h0M48.3 303.9h0M54.9 294.2h0M41.1 314.3h0M50.5 302.9h0M55.1 301.1h0M50.5 301.2h0M56.0 282.7h0M46.1 309.8h0M51.8 294.3h0M52.5 291.4h0M57.0 302.5h0M49.8 307.3h0M43.9 313.4h0M51.3 310.1h0M52.6 294.7h0M43.8 316.4h0M45.9 294.8h0M50.9 288.9h0M50.2 304.3h0M50.6 293.4h0M43.7 305.1h0M54.0 313.2h0M61.0 289.9h0M51.8 308.4h0M46.0 307.4h0M49.6 310.5h0M49.0 307.9h0M52.6 299.9h0M50.2 310.3h0M57.4 289.3h0M39.8 319.6h0M60.2 299.7h0M52.4 301.2h0M41.0 319.8h0M65.3 285.6h0M78.2 281.4h0M67.7 286.7h0M63.0 284.5h0M58.5 285.1h0M61.3 282.6h0M63.4 281.7h0M74.2 281.1h0M70.1 280.9h0M59.0 285.0h0M57.1 281.5h0M68.2 282.3h0M59.4 283.1h0M72.9 281.9h0M76.4 283.2h0M67.5 280.8h0M77.7 282.3h0M69.1 280.6h0M66.8 285.0h0M78.8 280.9h0M54.8 281.9h0M62.7 281.9h0M73.7 285.1h0M79.6 283.1h0M69.6 284.6h0M70.2 281.6h0M58.5 286.6h0M66.8 279.9h0M64.7 282.6h0M70.8 281.5h0M76.5 286.7h0M72.7 281.4h0M61.5 280.8h0M64.7 280.0h0M74.5 287.7h0M75.0 283.9h0M80.5 283.0h0M61.4 283.5h0M62.3 283.1h0M69.1 284.4h0M61.5 283.6h0M58.1 282.5h0M65.6 282.6h0M71.3 284.4h0M80.0 278.9h0M79.4 282.7h0M58.2 281.6h0M65.3 281.8h0M70.7 283.3h0M77.3 285.7h0M73.4 283.3h0M63.5 285.9h0M63.9 282.4h0M64.8 286.3h0M69.6 286.4h0M60.4 284.8h0M70.5 282.3h0M78.4 278.5h0M66.2 283.4h0M64.1 282.2h0M81.2 278.2h0M56.6 285.4h0M64.2 283.7h0M68.4 282.4h0M62.1 282.5h0M77.5 280.9h0M58.2 282.9h0M58.4 281.2h0M63.3 286.6h0M77.8 284.2h0M59.4 284.1h0M62.1 281.8h0M59.0 285.2h0M57.5 282.9h0M74.1 280.9h0M78.8 285.1h0M76.5 280.0h0M69.1 283.3h0M67.6 279.5h0M74.0 281.6h0M67.8 283.4h0M70.2 281.4h0M56.8 282.6h0M76.7 281.8h0M69.6 281.5h0M81.4 282.4h0M70.1 280.3h0M79.7 282.7h0M68.7 284.5h0M67.5 282.0h0M72.2 281.9h0M79.2 283.8h0M60.3 280.6h0M67.5 285.0h0M62.1 282.3h0M60.0 285.0h0M79.3 282.9h0M67.9 281.6h0M84.0 284.4h0M53.6 280.6h0M76.1 281.5h0M81.6 281.1h0M76.9 281.7h0M66.5 280.6h0M77.4 283.0h0M60.0 287.6h0M65.8 281.2h0M70.6 282.9h0M61.8 279.2h0M79.6 286.6h0M64.5 286.3h0M76.2 280.8h0M59.7 285.1h0M59.7 282.8h0M63.2 282.2h0M59.0 284.1h0M56.7 283.7h0M66.3 281.3h0M64.7 278.9h0M81.6 280.1h0M63.6 282.6h0M76.8 283.6h0M61.8 281.3h0M66.8 283.3h0M80.3 283.5h0M72.4 281.2h0M76.7 281.1h0M69.0 285.3h0M73.4 279.7h0M65.6 281.3h0M64.3 285.0h0M60.3 285.2h0M61.0 285.9h0M67.7 282.3h0M71.1 280.6h0M68.5 283.9h0M63.1 284.4h0M55.2 285.2h0M59.4 281.5h0M68.8 284.2h0M75.2 284.3h0M63.0 281.5h0M67.7 284.7h0M59.4 288.3h0M55.9 285.0h0M74.5 277.3h0M65.6 284.0h0M56.2 286.7h0M80.1 283.1h0M76.9 281.1h0M59.5 284.3h0M74.0 283.5h0M78.5 282.3h0M64.2 281.0h0M71.7 283.3h0M67.6 283.8h0M67.1 281.4h0M65.5 283.1h0M73.1 282.7h0M72.4 282.4h0M69.9 284.0h0M64.9 284.0h0M60.2 283.7h0M57.3 281.1h0M61.3 284.1h0M67.3 281.1h0M70.7 282.4h0M53.2 283.6h0M72.6 283.0h0M57.7 281.0h0M67.6 284.0h0M74.4 280.5h0M78.3 282.4h0M64.0 281.5h0M58.1 285.7h0M72.9 283.7h0M69.7 283.4h0M73.6 281.5h0M80.0 280.1h0M56.9 286.3h0M67.0 283.8h0M77.2 280.7h0M69.0 282.2h0M72.6 287.0h0M78.3 281.7h0M68.3 284.6h0M86.6 280.8h0M76.2 282.3h0M75.1 284.0h0M76.0 284.2h0M74.5 283.9h0M64.7 286.3h0M82.4 279.8h0M74.2 280.4h0M70.5 284.0h0M63.2 285.5h0M62.8 287.5h0M79.1 280.9h0M57.5 283.8h0M76.9 284.6h0M72.6 282.9h0M73.9 280.6h0M68.9 282.5h0M58.4 280.3h0M67.8 279.3h0M75.6 277.7h0M59.5 283.1h0M75.8 281.5h0M73.8 284.5h0M63.8 284.4h0M75.6 281.0h0M76.4 285.7h0M71.8 280.0h0M80.3 279.9h0M69.7 282.1h0M65.2 279.8h0M79.6 279.8h0M65.5 280.4h0M80.0 280.1h0M66.7 284.3h0M66.6 283.5h0M70.1 282.0h0M75.2 279.5h0M71.3 285.7h0M73.4 282.3h0M67.6 281.7h0M64.3 282.3h0M62.8 282.1h0M77.0 284.5h0M63.2 280.9h0M65.2 284.1h0M61.1 281.9h0M57.4 285.2h0M79.6 283.3h0M80.3 279.8h0M66.6 284.3h0M67.6 282.2h0M69.6 285.4h0M63.3 280.2h0M65.9 283.7h0M59.1 281.0h0M64.3 283.0h0M62.7 282.5h0M62.5 285.6h0M66.2 283.9h0M57.7 284.0h0M57.5 283.1h0M66.6 282.9h0M68.3 282.9h0M53.8 282.6h0M64.5 284.2h0M63.5 279.6h0M61.4 282.5h0M59.5 281.2h0M84.8 279.6h0M65.8 285.7h0M58.7 282.6h0M74.9 282.8h0M75.9 282.0h0M81.0 280.6h0M72.4 284.0h0M64.5 285.0h0M64.8 287.2h0M62.5 281.8h0M76.1 286.7h0M80.7 280.5h0M76.9 281.9h0M65.1 280.8h0M81.1 278.3h0M78.5 285.6h0M56.7 283.1h0M68.2 283.2h0M72.7 281.3h0M62.9 281.0h0M55.2 288.4h0M62.8 285.5h0M79.3 280.3h0M73.8 282.7h0M65.0 282.4h0M58.3 282.8h0M58.5 284.2h0M61.0 282.0h0M61.8 283.2h0M73.1 284.5h0M57.6 283.3h0M71.1 284.8h0M60.8 280.7h0M79.7 281.9h0M69.2 284.2h0M69.8 282.8h0M73.9 284.9h0M62.6 281.1h0M64.0 283.4h0M59.6 283.3h0M66.1 282.7h0M81.1 287.0h0M64.9 281.7h0M55.3 283.6h0M75.9 279.3h0M57.6 285.0h0M57.5 282.9h0M70.4 284.0h0M77.9 279.8h0M67.9 281.1h0M57.0 284.8h0M67.8 285.5h0M61.7 287.9h0M72.7 283.3h0M76.7 285.0h0M62.4 282.7h0M79.6 281.8h0M63.6 281.7h0M64.6 280.8h0M61.8 281.5h0M61.9 281.1h0M59.8 284.8h0M65.6 285.6h0M81.4 282.9h0M74.7 282.4h0M55.9 283.1h0M63.1 285.3h0M83.1 281.5h0M78.6 281.4h0M78.1 287.6h0M61.7 282.2h0M70.3 285.0h0M70.2 280.5h0M70.7 282.2h0M71.5 280.0h0M61.3 284.1h0M60.1 286.2h0M72.3 282.7h0M74.3 283.1h0M68.6 286.1h0M79.3 281.7h0M54.6 286.7h0M55.8 284.9h0M60.3 286.3h0M59.5 282.2h0M62.7 285.0h0M64.2 283.2h0M64.5 283.2h0M70.4 280.7h0M59.1 283.1h0M62.4 283.8h0M60.7 284.6h0M80.6 284.5h0M74.1 283.1h0M66.0 280.5h0M58.1 282.7h0M69.4 285.1h0M72.6 280.8h0M53.6 285.2h0M67.7 280.5h0M77.1 281.1h0M75.3 281.4h0M62.4 280.8h0M78.2 280.4h0M60.2 282.8h0M68.5 284.9h0M70.9 280.6h0M60.4 281.9h0M76.9 280.2h0M78.6 279.3h0M60.6 284.3h0M76.6 283.1h0M69.3 280.2h0M60.1 285.0h0M75.0 286.6h0M67.4 285.0h0M60.2 283.3h0M66.4 283.5h0M65.9 283.2h0M70.0 280.0h0M77.5 279.7h0M68.6 280.2h0M82.6 285.9h0M71.7 283.8h0M61.5 285.0h0M80.9 285.9h0M74.3 281.8h0M76.2 279.9h0M75.4 280.1h0M71.1 285.1h0M81.4 281.8h0M64.3 287.2h0M61.1 282.2h0M65.9 283.1h0M70.4 286.1h0M57.4 282.4h0M78.9 284.6h0M59.8 282.8h0M79.3 281.4h0M74.0 283.3h0M77.7 280.6h0M57.8 283.2h0M63.6 283.8h0M74.5 288.2h0M64.4 280.3h0M71.6 282.0h0M79.3 281.1h0M62.4 284.3h0M80.1 283.5h0M73.0 283.6h0M75.7 282.8h0M80.2 279.0h0M64.4 282.7h0M60.3 283.5h0M63.1 281.8h0M73.7 282.9h0M77.5 282.5h0M57.2 283.2h0M72.7 283.4h0M80.5 281.9h0M66.0 281.5h0M78.4 284.5h0M62.6 281.8h0M66.3 279.4h0M60.6 284.9h0M74.1 279.6h0M76.9 284.6h0M54.9 286.1h0M63.3 282.1h0M66.9 281.7h0M72.5 283.0h0M56.9 280.7h0M75.3 280.3h0M77.3 280.1h0M70.5 284.1h0M60.1 285.0h0M60.3 281.9h0M66.1 281.1h0M60.1 282.8h0M58.3 285.1h0M60.2 284.5h0M78.6 281.6h0M58.2 282.4h0M64.3 280.9h0M65.2 284.1h0M74.7 282.2h0M60.5 283.2h0M67.1 282.9h0M56.2 285.5h0M56.3 282.8h0M68.1 286.6h0M77.6 282.3h0M64.9 284.1h0M69.6 281.9h0M78.1 283.0h0M60.9 284.5h0M77.5 280.8h0M66.4 282.8h0M76.9 283.1h0M79.7 277.3h0M65.1 284.7h0M67.7 285.3h0M63.9 286.8h0M64.0 282.0h0M60.0 280.3h0M73.1 281.7h0M70.7 279.9h0M70.4 281.8h0M58.0 283.5h0M60.3 285.2h0M76.9 279.1h0M63.2 284.4h0M68.7 286.3h0M70.1 282.8h0M79.3 285.5h0M61.4 284.6h0M69.2 285.4h0M74.5 283.5h0M67.6 284.2h0M66.2 284.1h0M72.6 280.2h0M71.1 282.5h0M77.1 281.6h0M58.9 287.3h0M66.9 282.1h0M71.2 284.2h0M61.7 285.1h0M67.4 282.2h0M74.5 283.6h0M66.1 287.4h0M71.9 280.3h0M77.4 281.6h0M79.7 283.4h0M80.6 278.5h0M63.2 285.6h0M62.1 284.6h0M62.3 284.3h0M69.7 283.4h0M71.3 283.7h0M76.3 278.1h0M77.5 282.2h0M54.5 282.0h0M67.0 285.7h0M68.9 283.1h0M67.5 281.4h0M82.3 283.9h0M62.9 284.2h0M75.9 282.6h0M68.5 283.3h0M56.1 285.3h0M59.3 287.2h0M72.5 282.5h0M79.6 280.2h0M59.8 286.7h0M72.6 283.7h0M73.8 282.0h0M80.0 281.6h0M59.9 279.1h0M61.6 284.6h0M62.0 285.6h0M61.6 282.2h0M62.0 284.0h0M57.9 283.9h0M75.5 283.3h0M77.4 281.0h0M64.9 283.9h0M58.4 284.7h0M61.2 284.3h0M72.6 285.0h0M70.5 282.6h0M74.6 282.8h0M56.8 282.0h0M64.8 284.0h0M74.9 282.8h0M77.6 283.7h0M78.8 284.8h0M77.8 282.5h0M83.3 278.5h0M74.2 283.1h0M59.2 282.7h0M79.9 281.8h0M80.5 283.2h0M68.0 283.2h0M61.5 283.6h0M78.0 281.2h0M57.6 283.1h0M72.7 281.7h0M71.4 281.6h0M77.0 280.3h0M72.9 280.5h0M71.0 279.0h0M79.1 284.2h0M71.1 281.6h0M68.0 286.6h0M75.1 282.5h0M57.1 281.8h0M67.4 284.5h0M70.3 283.4h0M65.5 286.9h0M65.4 280.7h0M61.6 286.4h0M79.0 281.6h0M64.0 284.2h0M65.2 278.8h0M72.4 284.3h0M59.5 286.2h0M69.7 284.3h0M77.0 280.1h0M63.4 286.5h0M54.0 279.8h0M72.8 282.8h0M76.9 284.3h0M72.0 281.2h0M75.4 281.4h0M64.7 279.4h0M76.7 281.0h0M80.3 285.0h0M63.0 284.7h0M79.6 283.7h0M82.9 281.7h0M65.6 282.6h0M58.3 284.6h0M63.8 281.8h0M75.8 282.4h0M67.0 283.9h0M84.8 281.2h0M55.3 285.1h0M61.5 284.2h0M58.3 280.6h0M84.1 282.9h0M76.6 283.1h0M81.1 281.2h0M60.4 282.5h0M67.8 283.8h0M64.8 281.9h0M56.0 284.5h0M71.2 284.4h0M78.9 279.6h0M72.5 285.6h0M83.9 284.0h0M65.9 286.0h0M78.4 283.4h0M69.6 285.2h0M83.3 282.3h0M62.8 285.8h0M77.6 282.5h0M77.2 278.5h0M66.7 287.3h0M72.4 282.0h0M76.9 283.1h0M58.1 285.3h0M74.8 281.8h0M69.2 283.8h0M64.6 283.4h0M75.4 279.6h0M66.4 283.7h0M65.2 283.4h0M64.3 282.6h0M61.9 284.4h0M80.2 281.1h0M68.7 287.9h0M59.5 283.7h0M67.6 283.1h0M58.0 283.6h0M65.7 283.9h0M67.3 284.9h0M58.8 282.9h0M53.9 283.9h0M77.4 278.6h0M73.6 286.2h0M70.8 282.8h0M59.2 282.8h0M70.3 281.7h0M69.4 283.0h0M80.7 284.1h0M61.6 282.7h0M77.5 284.4h0M59.9 281.8h0M69.3 281.9h0M81.4 282.2h0M76.9 281.9h0M64.7 282.7h0M69.0 280.6h0M79.8 281.1h0M77.5 284.9h0M59.3 282.3h0M80.3 280.2h0M83.0 284.2h0M74.8 282.9h0M60.3 283.7h0M71.3 282.4h0M77.3 280.8h0M64.0 284.9h0M58.0 286.1h0M66.3 282.0h0M58.6 283.1h0M64.6 284.3h0M62.9 285.7h0M60.6 286.2h0M66.8 284.8h0M78.6 283.6h0M68.8 286.4h0M78.1 280.2h0M78.6 281.7h0M75.9 287.8h0M73.5 284.1h0M66.0 284.3h0M54.5 284.8h0M70.7 284.1h0M66.1 282.6h0M58.6 284.0h0M66.6 285.0h0M70.6 284.5h0M71.7 282.0h0M67.4 283.8h0M66.7 284.7h0M69.9 285.3h0M72.8 282.9h0M67.5 281.3h0M60.4 286.1h0M64.9 282.9h0M72.0 282.7h0M77.2 276.8h0M79.3 279.9h0M62.5 281.4h0M66.5 285.1h0M74.3 281.4h0M60.9 282.7h0M81.1 280.9h0M59.8 282.1h0M63.4 281.0h0M79.6 279.2h0M72.1 281.1h0M73.3 283.4h0M71.3 288.0h0M63.4 282.4h0M59.7 282.7h0M80.6 281.3h0M66.0 284.8h0M68.4 285.6h0M68.8 280.3h0M63.1 283.0h0M67.1 284.3h0M73.1 277.8h0M59.0 283.5h0M74.5 280.6h0M52.3 305.8h0M42.8 315.1h0M47.4 314.5h0M41.1 314.3h0M48.5 317.7h0M49.8 313.8h0M45.2 311.7h0M44.0 314.1h0M48.7 310.3h0M55.6 305.1h0M50.0 311.0h0M45.7 312.2h0M53.2 309.2h0M48.8 312.9h0M49.7 314.6h0M53.8 307.1h0M52.1 311.3h0M45.1 315.2h0M52.2 307.6h0M52.9 310.4h0M44.7 312.5h0M36.9 319.1h0M40.4 313.7h0M42.3 316.3h0M49.6 312.3h0M47.2 314.9h0M53.5 312.8h0M53.4 310.1h0M47.9 310.0h0M49.0 308.6h0M48.5 309.9h0M44.8 319.5h0M47.0 316.7h0M45.3 305.9h0M52.9 309.8h0M43.4 318.9h0M41.3 312.6h0M51.5 308.2h0M51.4 310.0h0M45.4 314.3h0M44.1 319.2h0M51.3 311.6h0M49.1 314.7h0M53.9 303.3h0M50.9 315.4h0M44.9 314.2h0M44.8 319.6h0M41.2 318.4h0M52.1 313.4h0M44.2 312.5h0M36.8 313.3h0M51.3 307.3h0M39.0 315.7h0M39.7 318.5h0M42.4 319.4h0M45.8 307.6h0M42.9 312.3h0M41.8 317.1h0M43.7 317.2h0M39.9 309.6h0M48.6 318.7h0M40.1 314.9h0M44.1 310.5h0M50.7 311.8h0M40.1 315.4h0M52.3 307.8h0M44.0 311.0h0M47.1 310.8h0M50.3 308.2h0M39.8 318.4h0M32.1 315.8h0M47.6 314.0h0M43.8 312.8h0M42.7 314.4h0M44.3 316.8h0M46.4 315.9h0M53.7 309.1h0M45.1 315.7h0M55.8 307.8h0M53.9 315.3h0M34.1 314.7h0M41.9 317.2h0M52.3 311.1h0M44.1 304.1h0M42.6 313.1h0M46.2 316.9h0M49.4 314.4h0M51.7 311.3h0M43.8 314.5h0M45.4 311.0h0M46.3 310.7h0M49.2 309.4h0M48.6 313.9h0M47.1 315.5h0M43.2 318.1h0M46.5 311.6h0M54.2 314.8h0M45.1 316.5h0M49.4 319.0h0M50.9 310.8h0M45.2 309.0h0M47.5 316.7h0M44.6 317.2h0M47.0 311.3h0M57.8 310.8h0M41.5 311.2h0M47.5 315.8h0M53.2 300.0h0M54.7 310.5h0M47.0 314.9h0M44.8 313.0h0M51.1 303.9h0M45.9 316.2h0M39.0 316.1h0M53.3 312.1h0M49.6 315.2h0M47.4 314.6h0M42.7 314.2h0M54.7 304.5h0M45.6 308.4h0M44.0 311.2h0M40.9 317.0h0M42.1 317.7h0M54.5 298.8h0M45.6 304.7h0M45.8 315.4h0M47.3 318.3h0M47.1 305.7h0M53.2 306.4h0M46.0 315.1h0M42.4 315.7h0M53.1 303.2h0M38.9 314.9h0M45.6 308.3h0M48.1 307.0h0M49.0 312.1h0M47.1 307.4h0M45.4 316.0h0M38.5 312.4h0M50.8 320.3h0M49.4 311.9h0M41.5 313.9h0M45.3 315.9h0M52.4 301.3h0M41.1 315.8h0M50.8 313.3h0M34.0 311.8h0M52.5 313.4h0M57.9 311.9h0M48.5 319.2h0M44.4 312.0h0M41.8 316.6h0M48.4 316.7h0M52.9 313.3h0M52.0 309.9h0M42.1 318.6h0M51.0 317.3h0M45.7 311.8h0M44.8 315.8h0M46.2 312.8h0M47.6 311.7h0M47.9 310.2h0M39.4 315.2h0M54.9 306.1h0M50.5 317.5h0M44.0 315.7h0M53.3 311.2h0M37.4 314.9h0M43.1 315.5h0M47.7 311.1h0M45.0 310.5h0M49.0 313.2h0M48.0 310.6h0M48.6 311.2h0M47.8 312.2h0M43.4 310.0h0M38.0 311.2h0M39.0 313.2h0M45.5 308.8h0M33.8 313.9h0M52.0 305.9h0M45.9 310.9h0M49.9 305.5h0M47.8 313.8h0M49.0 314.2h0M47.1 305.3h0M45.0 309.9h0M48.8 311.4h0M47.1 318.0h0M50.2 305.2h0M43.8 320.0h0M44.2 319.7h0M43.9 314.0h0M51.1 304.4h0M46.8 311.3h0M48.6 306.5h0M50.8 309.5h0M47.2 318.2h0M45.0 318.3h0M47.2 309.1h0M45.0 308.1h0M51.8 311.8h0M50.8 306.6h0M50.2 306.5h0M47.7 312.8h0M43.8 316.0h0M46.6 309.5h0M43.1 309.2h0M52.6 311.4h0M44.8 317.2h0M42.5 310.0h0M48.0 319.7h0M47.8 313.5h0M54.3 303.1h0M60.2 302.4h0M46.1 307.6h0M41.0 314.8h0M57.4 304.4h0M43.6 315.9h0M41.8 314.3h0M50.1 302.1h0M45.1 312.7h0M44.1 313.9h0M38.3 315.1h0M44.1 309.9h0M52.1 319.8h0M50.0 308.0h0M52.8 312.8h0M42.7 317.7h0M43.8 317.1h0M50.6 316.7h0M41.7 315.0h0M46.4 308.0h0M48.3 315.7h0M40.2 313.7h0M41.4 310.0h0M43.4 313.0h0M50.9 316.0h0M52.8 301.4h0M49.8 304.1h0M43.6 312.9h0M45.7 319.0h0M45.6 313.5h0M48.7 314.4h0M48.7 304.7h0M48.7 313.8h0M49.1 312.0h0M48.3 306.8h0M51.5 305.8h0M52.7 315.1h0M46.1 312.2h0M49.9 310.5h0M41.1 317.0h0M40.9 313.8h0M54.5 313.4h0M44.4 314.0h0M43.5 314.7h0M39.9 319.4h0M46.5 310.7h0M44.4 312.2h0M43.8 312.4h0M52.3 313.8h0M48.3 314.2h0M41.3 305.0h0M53.2 313.6h0M47.4 314.2h0M47.3 313.1h0M45.2 304.0h0M49.0 312.5h0M50.8 312.8h0M45.1 316.7h0M47.3 311.1h0M44.7 312.3h0M45.1 312.0h0M45.9 318.6h0M37.5 303.0h0M44.3 313.7h0M43.1 308.8h0M42.6 312.8h0M47.1 311.6h0M41.0 314.2h0M53.2 306.5h0M46.7 317.8h0M42.8 312.5h0M59.5 313.2h0M44.1 315.2h0M46.9 313.9h0M48.5 311.2h0M36.4 313.6h0M47.1 307.0h0M47.5 310.0h0M47.0 317.8h0M38.7 311.3h0M43.4 312.8h0M46.0 311.0h0M46.9 313.6h0M41.2 313.0h0M40.8 317.2h0M47.6 315.8h0M42.5 312.8h0M36.4 317.9h0M39.2 318.2h0M51.3 313.2h0M49.2 313.2h0M48.1 316.9h0M52.1 319.9h0M45.2 317.7h0M50.3 313.6h0M47.6 307.3h0M51.3 307.3h0M43.5 310.9h0M48.9 308.0h0M48.5 315.0h0M46.9 311.7h0M49.1 318.1h0M44.3 309.7h0M43.7 310.7h0M45.4 313.2h0M42.8 313.1h0M37.6 308.6h0M41.9 316.5h0M50.2 303.7h0M47.4 319.7h0M45.2 318.1h0M47.8 308.7h0M50.9 308.7h0M48.0 310.9h0M45.5 314.5h0M52.4 303.3h0M41.4 316.1h0M50.8 310.6h0M45.6 316.1h0M53.5 306.3h0M39.3 315.4h0M49.9 306.1h0M51.5 315.3h0M50.0 308.1h0M40.6 318.9h0M47.6 316.0h0M40.4 303.0h0M51.5 315.6h0M45.2 314.0h0M48.5 315.8h0M45.6 311.5h0M42.0 319.9h0M46.9 298.1h0M48.0 310.2h0M40.7 313.7h0M40.7 314.0h0M44.0 316.8h0M41.9 307.4h0M43.7 308.5h0M49.7 311.0h0M38.9 312.9h0M46.3 313.3h0M38.2 316.5h0M47.7 317.2h0M51.3 310.7h0M40.6 314.4h0M49.3 308.0h0M52.1 306.7h0M41.4 319.4h0M46.0 315.0h0M45.1 314.2h0M49.4 311.6h0M48.5 316.2h0M44.1 315.3h0M47.3 310.5h0M42.9 314.1h0M45.1 312.2h0M37.7 317.6h0M49.4 312.4h0M54.1 313.8h0M44.8 311.1h0M48.7 310.8h0M39.2 317.2h0M72.2 294.9h0M75.9 297.7h0M81.5 291.4h0M73.0 298.5h0M71.7 292.9h0M80.4 286.6h0M74.8 284.5h0M74.8 283.4h0M68.8 304.1h0M79.6 297.3h0M62.6 303.3h0M74.4 288.9h0M72.0 287.5h0M73.0 295.8h0M73.9 301.8h0M70.9 281.5h0M68.8 287.9h0M72.0 293.5h0M73.3 305.7h0M73.5 289.1h0M72.2 290.5h0M72.5 300.3h0M68.9 301.2h0M80.5 306.7h0M79.9 297.0h0M68.0 310.0h0M73.2 298.0h0M72.0 290.1h0M75.9 287.0h0M67.9 300.1h0M71.9 290.7h0M75.4 306.0h0M72.3 295.5h0M75.7 302.7h0M77.5 301.0h0M70.8 300.0h0M73.5 285.0h0M78.3 300.3h0M78.9 296.0h0M76.3 295.9h0M74.1 302.6h0M73.7 300.5h0M73.3 304.7h0M76.0 285.3h0M80.0 299.4h0M71.4 292.2h0M81.3 297.0h0M75.5 300.4h0M71.0 308.2h0M81.8 291.2h0M77.9 285.5h0M72.1 296.8h0M73.6 300.3h0M75.0 298.9h0M72.9 298.5h0M71.2 309.6h0M73.7 304.8h0M73.8 295.4h0M72.7 287.8h0M81.7 299.2h0M73.9 293.3h0M78.5 294.2h0M71.6 292.8h0M79.6 298.5h0M72.8 292.1h0M78.5 298.4h0M72.1 302.4h0M76.9 289.8h0M78.0 303.7h0M72.5 287.5h0M77.8 294.1h0M72.6 294.5h0M72.4 302.0h0M69.1 300.0h0M78.0 303.5h0M76.3 298.2h0M72.7 295.6h0M70.0 307.6h0M73.0 289.7h0M76.7 306.5h0M59.5 297.1h0M44.4 307.2h0M53.8 293.5h0M63.0 286.9h0M64.5 274.9h0M49.8 285.4h0M53.8 308.8h0M42.4 314.7h0M49.1 295.4h0M67.3 292.8h0M72.3 298.3h0M55.5 290.4h0M69.0 299.8h0M51.3 290.5h0M49.6 299.4h0M48.7 308.8h0M56.1 294.0h0M61.5 315.4h0M34.0 304.2h0M68.2 301.9h0M65.5 284.3h0M48.4 311.0h0M55.5 301.1h0M63.3 304.3h0M61.4 295.3h0M53.3 314.1h0M51.2 285.4h0M52.8 309.8h0M75.9 302.0h0M49.9 306.8h0M59.8 312.8h0M62.2 308.3h0M62.1 304.8h0M46.8 298.7h0M73.8 314.3h0M67.0 304.6h0M55.4 304.1h0M53.1 311.8h0M53.2 292.5h0M39.3 316.7h0M48.5 291.5h0M61.0 319.2h0M63.8 297.0h0M62.7 291.8h0M53.9 300.8h0M56.8 308.6h0M62.4 320.1h0M65.6 297.5h0M59.4 291.6h0M50.1 296.9h0M67.6 293.3h0M39.9 289.9h0M43.8 298.5h0M53.4 288.3h0M48.2 296.1h0M60.9 306.8h0M70.9 297.8h0M63.5 301.2h0M45.0 293.9h0M80.1 298.8h0M74.4 309.0h0M74.5 298.5h0M66.7 297.3h0M44.9 288.3h0M61.5 283.7h0M60.7 291.4h0M60.6 286.2h0M65.9 298.1h0M40.5 285.5h0M57.5 283.5h0M60.3 305.5h0M49.8 315.0h0M72.2 303.7h0M61.7 305.4h0M54.0 314.1h0M51.1 274.3h0M57.1 305.0h0M65.6 289.0h0M71.7 291.9h0M63.6 308.0h0M58.7 312.2h0M62.1 296.1h0M84.6 300.4h0M39.6 315.2h0M73.3 294.5h0M46.3 312.2h0M57.5 290.5h0M51.7 301.2h0M67.3 316.7h0M50.3 316.4h0M40.8 307.9h0M55.4 305.0h0M52.2 293.1h0M59.9 312.2h0M33.3 301.0h0M52.6 289.3h0M42.6 305.8h0M62.8 307.2h0M35.7 284.6h0M50.3 295.9h0M75.6 296.4h0M58.2 310.8h0M74.7 304.3h0M52.6 281.8h0M48.9 297.2h0M70.8 303.7h0M69.7 301.5h0M57.3 294.4h0M43.8 305.7h0M60.7 306.4h0M51.2 296.1h0M60.9 306.8h0M78.1 291.4h0M67.4 309.7h0M54.1 301.9h0M56.3 316.4h0M84.0 303.8h0M54.2 310.3h0M62.1 298.5h0M64.9 309.5h0M52.7 309.3h0M33.0 287.1h0M53.6 302.1h0M41.4 315.8h0M52.9 302.0h0M56.4 308.3h0M50.7 308.2h0M48.1 285.0h0M62.4 302.1h0M66.3 280.2h0M58.1 293.8h0M54.9 296.4h0M52.9 293.5h0M67.8 282.5h0M39.1 304.0h0M78.3 292.5h0M47.3 288.3h0M46.0 313.5h0M64.1 309.8h0M60.6 302.9h0M50.7 290.3h0M53.0 313.7h0M49.4 300.9h0M75.0 299.7h0M63.6 294.6h0M76.9 287.6h0M62.9 298.0h0M59.0 304.2h0M70.9 309.6h0M68.1 304.3h0M45.5 314.5h0M73.2 305.5h0M65.3 298.0h0M41.6 310.7h0M49.2 320.4h0M64.2 300.2h0M50.3 301.6h0M46.1 296.5h0M73.9 297.4h0M76.5 299.4h0M61.3 290.8h0M53.7 295.8h0M63.2 299.6h0M45.2 300.8h0M45.7 290.3h0M38.3 306.3h0M41.8 299.0h0M57.5 292.6h0M75.8 306.1h0M50.1 283.2h0M58.7 293.4h0M67.7 289.5h0M69.6 295.6h0M58.9 297.6h0M63.5 312.5h0M51.1 291.0h0M77.0 310.4h0M77.2 310.5h0M58.3 317.5h0M49.7 296.0h0M52.6 307.6h0M47.7 298.6h0M47.8 298.0h0M68.8 312.1h0M49.3 305.2h0M51.7 277.2h0M44.2 313.4h0M55.5 303.3h0M70.2 300.8h0M50.0 294.1h0M46.8 306.2h0M51.8 305.8h0M40.8 295.9h0M78.8 304.3h0M55.7 312.9h0M59.7 316.5h0M44.4 308.5h0M45.5 307.6h0M83.0 316.5h0M47.6 304.9h0M61.7 292.9h0M59.4 289.3h0M67.1 310.0h0M55.0 307.7h0M82.2 298.8h0M36.8 304.0h0M51.9 292.2h0M66.4 311.0h0M63.1 317.6h0M50.0 296.1h0M27.5 304.1h0M56.7 286.1h0M57.5 298.1h0M87.1 304.2h0M89.9 291.3h0M52.3 285.9h0M30.8 311.0h0M29.6 293.4h0M55.7 318.6h0M42.8 285.6h0M73.0 310.5h0M36.4 318.8h0M83.7 319.1h0M81.0 305.1h0M73.0 289.9h0M69.3 298.2h0M49.2 296.7h0M32.7 314.6h0M77.1 285.8h0M60.8 286.3h0M62.9 291.4h0M89.9 296.9h0M61.5 294.9h0M86.2 285.7h0M47.1 293.6h0M75.9 298.8h0M83.4 297.2h0M35.6 301.8h0M33.0 290.9h0M61.4 306.1h0M41.3 291.9h0M61.3 301.5h0M58.7 309.6h0M36.6 285.8h0M31.6 314.0h0M73.1 290.9h0M48.9 296.5h0M87.4 300.3h0M73.9 288.5h0M30.1 293.5h0M69.1 301.5h0M84.1 315.0h0M89.8 317.2h0M33.2 299.8h0M36.9 307.5h0M60.3 288.7h0M32.6 302.2h0M68.0 300.0h0M58.1 308.3h0M72.8 310.9h0M54.4 291.6h0M84.0 286.9h0M40.8 292.3h0M66.1 307.8h0M33.9 303.9h0M64.8 310.1h0M32.2 311.6h0M45.0 299.3h0M35.5 315.7h0M67.6 314.7h0M60.9 289.4h0M53.5 288.3h0M33.8 314.5h0M27.4 299.4h0M30.1 312.9h0M43.7 296.6h0M52.5 309.6h0M79.0 298.2h0M27.6 298.9h0M72.4 320.1h0M56.1 300.2h0M52.2 307.3h0M28.9 318.3h0M89.4 286.5h0M27.8 296.7h0M36.9 313.1h0M84.0 305.1h0M88.8 293.6h0M40.2 299.2h0M56.8 292.6h0M87.3 312.5h0M46.2 293.6h0M45.9 299.7h0M70.0 313.4h0M89.2 288.3h0M40.1 299.1h0M89.3 301.9h0M74.2 315.3h0M57.4 299.0h0M77.9 308.5h0M89.4 302.9h0M83.9 308.5h0M64.1 316.2h0M32.7 295.5h0M59.1 314.9h0M39.5 313.5h0M33.2 298.0h0M57.6 311.2h0M61.4 316.0h0M72.4 299.2h0M61.3 299.4h0M84.1 296.4h0M39.2 294.2h0M43.7 314.6h0M72.1 294.3h0M54.7 317.6h0M89.9 275.3h0M88.8 273.2h0M89.5 272.8h0M72.2 284.4h0M80.7 279.9h0M37.5 275.5h0M88.7 283.7h0M41.8 276.9h0M67.3 276.4h0M41.3 283.7h0M34.7 280.7h0M53.8 278.5h0M84.1 282.1h0M80.1 282.7h0M27.5 275.4h0M74.9 283.7h0M62.5 284.0h0M33.1 275.8h0M80.7 282.7h0M41.9 279.8h0M55.9 282.0h0M53.3 276.6h0M76.9 281.5h0M50.9 281.7h0M44.5 278.9h0M39.6 276.9h0M54.6 273.6h0M47.7 277.0h0" fill="none" stroke="#000" stroke-width="0.85" stroke-linecap="square"/>
<line x1="26.3" y1="321.3" x2="92" y2="321.3" stroke="#333" stroke-width="0.8" />
<line x1="26.3" y1="271.8" x2="26.3" y2="321.3" stroke="#333" stroke-width="0.8" />
<line x1="30.40625" y1="321.8" x2="30.40625" y2="320.1" stroke="#000" stroke-width="0.5" />
<line x1="25.8" y1="274.89375" x2="27.5" y2="274.89375" stroke="#000" stroke-width="0.5" />
<line x1="34.5125" y1="321.8" x2="34.5125" y2="320.1" stroke="#000" stroke-width="0.7" />
<line x1="25.8" y1="277.9875" x2="27.5" y2="277.9875" stroke="#000" stroke-width="0.7" />
<line x1="38.618750000000006" y1="321.8" x2="38.618750000000006" y2="320.1" stroke="#000" stroke-width="0.5" />
<line x1="25.8" y1="281.08125" x2="27.5" y2="281.08125" stroke="#000" stroke-width="0.5" />
<line x1="42.725" y1="321.8" x2="42.725" y2="320.1" stroke="#000" stroke-width="0.7" />
<line x1="25.8" y1="284.175" x2="27.5" y2="284.175" stroke="#000" stroke-width="0.7" />
<line x1="46.83125" y1="321.8" x2="46.83125" y2="320.1" stroke="#000" stroke-width="0.5" />
<line x1="25.8" y1="287.26875" x2="27.5" y2="287.26875" stroke="#000" stroke-width="0.5" />
<line x1="50.9375" y1="321.8" x2="50.9375" y2="320.1" stroke="#000" stroke-width="0.7" />
<line x1="25.8" y1="290.3625" x2="27.5" y2="290.3625" stroke="#000" stroke-width="0.7" />
<line x1="55.04375" y1="321.8" x2="55.04375" y2="320.1" stroke="#000" stroke-width="0.5" />
<line x1="25.8" y1="293.45625" x2="27.5" y2="293.45625" stroke="#000" stroke-width="0.5" />
<line x1="59.150000000000006" y1="321.8" x2="59.150000000000006" y2="320.1" stroke="#000" stroke-width="0.7" />
<line x1="25.8" y1="296.55" x2="27.5" y2="296.55" stroke="#000" stroke-width="0.7" />
<line x1="63.25625000000001" y1="321.8" x2="63.25625000000001" y2="320.1" stroke="#000" stroke-width="0.5" />
<line x1="25.8" y1="299.64375" x2="27.5" y2="299.64375" stroke="#000" stroke-width="0.5" />
<line x1="67.3625" y1="321.8" x2="67.3625" y2="320.1" stroke="#000" stroke-width="0.7" />
<line x1="25.8" y1="302.7375" x2="27.5" y2="302.7375" stroke="#000" stroke-width="0.7" />
<line x1="71.46875" y1="321.8" x2="71.46875" y2="320.1" stroke="#000" stroke-width="0.5" />
<line x1="25.8" y1="305.83125" x2="27.5" y2="305.83125" stroke="#000" stroke-width="0.5" />
<line x1="75.575" y1="321.8" x2="75.575" y2="320.1" stroke="#000" stroke-width="0.7" />
<line x1="25.8" y1="308.925" x2="27.5" y2="308.925" stroke="#000" stroke-width="0.7" />
<line x1="79.68125" y1="321.8" x2="79.68125" y2="320.1" stroke="#000" stroke-width="0.5" />
<line x1="25.8" y1="312.01875" x2="27.5" y2="312.01875" stroke="#000" stroke-width="0.5" />
<line x1="83.78750000000001" y1="321.8" x2="83.78750000000001" y2="320.1" stroke="#000" stroke-width="0.7" />
<line x1="25.8" y1="315.1125" x2="27.5" y2="315.1125" stroke="#000" stroke-width="0.7" />
<line x1="87.89375" y1="321.8" x2="87.89375" y2="320.1" stroke="#000" stroke-width="0.5" />
<line x1="25.8" y1="318.20625" x2="27.5" y2="318.20625" stroke="#000" stroke-width="0.5" />
<rect x="38.8" y="276.8" width="45.0" height="11.5" fill="none" stroke="#000" stroke-width="1.1"/>
<path d="M67.5,276.8 V308.8 H83.8 V288.3" fill="none" stroke="#000" stroke-width="1.1"/>
<rect x="266.3" y="190" width="62.5" height="48.80000000000001" fill="#fff" stroke="#888" stroke-width="0.7"/>
<path d="M310.4 213.0h0M316.3 204.7h0M311.5 210.8h0M316.9 216.2h0M312.2 200.3h0M314.3 206.7h0M312.5 210.6h0M308.1 211.7h0M314.5 212.4h0M313.6 210.9h0M308.1 204.2h0M314.2 207.9h0M312.0 210.3h0M312.2 209.8h0M313.3 209.1h0M308.9 205.8h0M314.6 206.5h0M313.3 210.5h0M309.5 193.9h0M311.9 204.7h0M310.2 212.1h0M309.8 209.1h0M312.3 209.6h0M317.5 201.6h0M314.6 209.0h0M311.2 204.9h0M312.1 208.7h0M309.4 215.1h0M309.9 206.9h0M308.5 207.5h0M313.0 214.1h0M314.7 207.3h0M316.4 210.0h0M316.3 218.6h0M310.9 202.8h0M313.5 216.0h0M313.1 214.2h0M313.6 213.4h0M315.6 208.8h0M308.1 206.1h0M309.8 201.8h0M311.5 211.6h0M306.9 198.9h0M314.2 205.3h0M310.9 214.4h0M315.1 211.6h0M313.5 196.2h0M313.5 211.0h0M308.1 207.5h0M313.2 208.5h0M314.1 213.7h0M312.1 207.3h0M308.7 212.3h0M310.4 209.2h0M316.2 214.1h0M308.5 206.4h0M310.0 199.7h0M309.7 210.2h0M312.9 207.9h0M312.4 203.1h0M309.8 206.7h0M314.2 208.0h0M311.5 209.8h0M316.0 204.4h0M313.4 210.0h0M311.8 209.5h0M306.5 206.0h0M311.3 202.3h0M314.3 209.0h0M311.0 211.6h0M309.4 203.9h0M314.2 213.6h0M317.5 208.9h0M307.9 199.5h0M308.7 207.4h0M311.3 204.9h0M309.2 203.9h0M311.0 213.6h0M313.7 215.7h0M314.2 213.1h0M315.2 212.1h0M316.2 215.8h0M317.0 211.8h0M309.8 219.4h0M311.2 210.6h0M310.9 204.7h0M313.2 203.7h0M311.5 214.9h0M312.3 212.5h0M313.7 211.1h0M312.2 211.5h0M309.3 210.0h0M309.0 203.5h0M310.3 201.4h0M306.5 207.7h0M313.3 212.2h0M318.0 212.1h0M314.0 205.9h0M313.9 203.9h0M317.4 206.4h0M310.8 211.5h0M305.9 212.0h0M309.3 208.2h0M314.7 210.4h0M314.5 207.3h0M313.6 198.9h0M316.1 207.2h0M309.6 207.4h0M316.6 207.3h0M311.9 206.7h0M309.4 201.1h0M313.6 212.5h0M309.9 208.6h0M313.2 210.8h0M311.5 208.4h0M312.7 203.7h0M311.5 212.0h0M310.4 213.9h0M311.3 202.9h0M311.1 201.6h0M313.6 201.7h0M312.0 207.3h0M311.1 210.0h0M312.7 206.2h0M314.2 207.4h0M314.4 215.9h0M313.0 213.3h0M308.2 209.4h0M307.8 205.7h0M313.9 196.6h0M309.8 203.8h0M309.3 207.3h0M313.7 203.8h0M310.2 198.8h0M310.0 197.6h0M307.8 208.7h0M314.4 205.7h0M312.9 205.2h0M314.9 218.1h0M305.1 201.2h0M310.2 205.4h0M316.2 217.9h0M311.9 211.4h0M307.5 205.0h0M311.1 207.4h0M312.8 201.4h0M309.1 217.2h0M307.1 206.5h0M313.9 211.7h0M312.1 200.9h0M310.6 200.4h0M317.4 212.7h0M313.9 210.3h0M310.9 213.5h0M314.4 212.6h0M313.5 212.7h0M311.2 210.1h0M312.2 207.3h0M313.7 219.4h0M306.3 212.6h0M310.7 213.6h0M309.1 206.2h0M314.8 209.4h0M312.9 203.1h0M308.8 214.9h0M312.4 208.2h0M308.1 201.7h0M309.1 206.9h0M311.6 205.4h0M310.1 208.1h0M315.2 203.3h0M308.0 212.0h0M308.0 204.7h0M312.3 217.2h0M306.3 192.1h0M311.7 213.4h0M312.3 204.8h0M312.5 198.9h0M314.2 216.5h0M311.4 212.1h0M309.0 214.1h0M310.1 203.8h0M309.8 199.1h0M313.8 218.8h0M308.0 205.7h0M313.2 206.3h0M307.6 208.0h0M314.7 210.2h0M309.0 205.6h0M306.6 205.7h0M315.3 215.3h0M311.7 210.4h0M310.5 208.4h0M310.3 208.4h0M310.5 208.7h0M313.8 209.2h0M308.4 209.1h0M311.2 205.8h0M313.5 205.2h0M314.5 212.3h0M310.0 204.2h0M311.6 204.0h0M314.5 198.9h0M312.3 207.0h0M308.9 210.0h0M310.6 210.0h0M310.7 206.5h0M313.4 213.6h0M314.7 209.6h0M316.0 208.7h0M308.2 197.8h0M307.9 202.5h0M307.0 207.7h0M312.0 208.3h0M312.6 208.2h0M311.2 206.6h0M312.0 203.1h0M315.4 217.4h0M312.0 219.3h0M309.3 211.5h0M307.5 209.2h0M309.9 212.3h0M312.2 213.1h0M313.6 211.7h0M311.2 215.7h0M312.9 211.2h0M315.9 209.0h0M316.7 215.8h0M312.1 201.6h0M315.3 208.5h0M312.2 209.1h0M314.6 212.7h0M306.9 203.0h0M312.9 209.7h0M314.1 212.1h0M316.4 207.1h0M315.5 211.9h0M312.8 212.1h0M311.0 211.4h0M311.4 211.6h0M309.8 213.1h0M307.7 203.4h0M311.8 209.5h0M309.7 205.5h0M312.6 213.8h0M315.5 207.8h0M311.8 206.9h0M307.7 204.4h0M315.0 203.5h0M319.8 216.7h0M316.7 211.5h0M305.6 207.6h0M316.3 207.7h0M315.4 213.7h0M314.1 213.0h0M313.6 212.3h0M315.2 212.0h0M313.7 211.3h0M312.3 204.5h0M307.0 201.3h0M308.5 199.8h0M313.8 207.8h0M315.4 224.9h0M314.1 207.2h0M313.0 208.0h0M312.7 218.7h0M316.3 216.6h0M312.7 217.3h0M314.2 213.8h0M308.7 204.0h0M312.4 207.6h0M310.5 198.2h0M309.9 207.0h0M312.8 203.7h0M311.6 216.9h0M312.4 199.3h0M311.4 208.2h0M315.4 211.0h0M315.7 211.8h0M315.2 216.4h0M316.2 211.4h0M313.7 228.0h0M308.6 207.8h0M313.3 205.7h0M314.2 208.7h0M314.1 210.4h0M309.4 212.3h0M317.5 215.4h0M312.7 200.6h0M312.8 208.7h0M309.8 198.3h0M313.2 213.7h0M313.9 220.3h0M306.7 207.7h0M311.9 215.2h0M311.9 203.8h0M311.8 210.5h0M309.9 203.8h0M312.7 213.0h0M311.3 210.5h0M310.6 206.2h0M312.5 213.3h0M316.3 209.9h0M313.2 218.5h0M314.2 207.8h0M313.1 202.2h0M306.2 202.1h0M310.0 201.1h0M314.8 207.6h0M312.2 208.9h0M311.4 202.6h0M317.3 201.4h0M311.9 211.8h0M311.4 207.7h0M312.8 210.0h0M311.0 213.2h0M313.3 216.3h0M312.2 199.1h0M307.4 203.9h0M313.2 201.2h0M310.4 213.7h0M312.9 205.5h0M311.7 208.9h0M310.8 206.4h0M310.2 208.7h0M316.3 217.5h0M308.6 218.0h0M311.6 201.6h0M307.9 207.3h0M312.6 205.7h0M309.8 206.4h0M312.7 212.0h0M313.5 197.8h0M310.3 209.0h0M313.0 212.8h0M307.9 214.1h0M308.7 206.0h0M310.7 205.6h0M309.9 211.4h0M314.1 211.2h0M308.5 203.9h0M311.8 210.3h0M310.5 206.5h0M319.1 212.1h0M311.2 196.3h0M309.9 215.3h0M314.3 203.8h0M314.1 210.3h0M309.8 211.3h0M310.3 206.3h0M312.0 209.5h0M310.8 209.3h0M312.0 209.4h0M313.0 205.9h0M308.3 206.4h0M315.3 211.6h0M312.6 205.2h0M308.9 201.1h0M309.5 205.5h0M307.8 206.0h0M307.7 209.6h0M311.9 200.0h0M310.5 208.9h0M313.0 212.7h0M311.0 207.3h0M311.3 210.8h0M310.1 206.8h0M312.4 207.0h0M309.0 213.6h0M313.3 204.7h0M317.3 207.3h0M309.6 205.6h0M313.4 216.3h0M315.7 212.9h0M312.2 211.7h0M309.8 204.1h0M313.4 210.1h0M312.6 203.9h0M312.6 201.9h0M314.5 209.7h0M310.2 205.4h0M319.5 227.0h0M310.1 214.2h0M304.1 210.2h0M312.0 209.7h0M309.4 201.0h0M312.6 206.7h0M313.3 214.2h0M311.7 210.9h0M312.5 209.8h0M310.6 209.0h0M313.2 209.4h0M310.7 200.9h0M309.1 214.6h0M314.7 211.2h0M312.8 208.1h0M313.8 213.9h0M311.3 209.7h0M314.6 202.1h0M309.4 204.6h0M308.8 204.9h0M309.7 205.5h0M313.3 203.5h0M312.2 215.2h0M312.5 202.9h0M310.3 213.3h0M311.3 205.1h0M314.1 206.0h0M309.0 210.0h0M312.0 205.4h0M313.2 214.4h0M314.9 210.3h0M313.2 211.4h0M308.0 214.6h0M310.2 205.0h0M309.8 202.8h0M314.9 209.9h0M310.4 199.0h0M312.4 208.5h0M309.2 206.7h0M307.0 209.3h0M308.7 209.4h0M312.2 198.4h0M309.0 204.0h0M314.1 212.3h0M313.7 217.3h0M311.2 205.7h0M306.9 201.2h0M313.5 205.2h0M309.6 212.0h0M305.3 212.1h0M315.5 201.5h0M313.2 209.0h0M314.4 208.0h0M311.7 215.1h0M310.4 209.8h0M313.7 208.7h0M314.3 212.1h0M314.2 201.4h0M309.2 208.6h0M315.1 216.8h0M312.0 204.9h0M309.0 197.8h0M310.6 210.7h0M311.8 201.3h0M311.7 208.6h0M310.0 214.5h0M313.2 214.3h0M312.3 204.0h0M314.9 215.2h0M310.4 201.4h0M314.2 206.8h0M308.9 206.7h0M313.5 205.6h0M312.1 213.3h0M314.0 202.0h0M313.9 217.9h0M314.5 209.2h0M313.0 201.4h0M310.4 205.3h0M317.6 211.1h0M309.4 215.4h0M315.3 202.1h0M311.4 200.1h0M314.8 198.9h0M317.0 205.7h0M309.2 217.4h0M313.4 210.9h0M314.3 204.8h0M314.3 208.3h0M313.4 210.3h0M315.7 204.1h0M308.3 209.9h0M318.3 214.1h0M311.5 211.5h0M308.7 207.4h0M307.5 207.0h0M313.9 217.6h0M310.6 212.3h0M315.6 205.1h0M311.2 199.2h0M309.6 209.5h0M306.5 204.5h0M313.9 216.3h0M305.3 207.2h0M310.3 196.7h0M309.3 210.1h0M311.9 211.9h0M311.2 211.3h0M309.4 202.6h0M311.5 199.9h0M315.3 208.8h0M309.4 203.1h0M309.4 207.9h0M311.0 212.2h0M308.9 206.7h0M307.9 204.4h0M315.6 209.6h0M314.4 209.3h0M309.1 202.9h0M309.0 208.7h0M312.6 222.9h0M316.4 214.7h0M309.4 207.8h0M309.5 218.7h0M310.0 213.2h0M308.4 210.5h0M308.7 204.7h0M312.4 209.4h0M311.8 208.1h0M309.7 206.9h0M311.8 203.9h0M313.5 210.0h0M310.0 213.8h0M310.4 198.6h0M315.4 208.3h0M315.9 212.4h0M309.6 212.8h0M313.2 213.5h0M312.1 216.1h0M314.5 208.0h0M307.9 206.4h0M312.2 203.8h0M311.5 215.5h0M310.7 213.3h0M309.5 202.6h0M314.5 208.8h0M312.6 213.7h0M316.3 204.5h0M313.5 210.3h0M312.4 217.3h0M311.3 205.3h0M313.3 199.3h0M313.0 204.6h0M312.8 205.3h0M313.3 207.9h0M310.1 210.2h0M314.0 201.6h0M308.5 205.6h0M310.9 214.4h0M316.2 212.8h0M314.9 208.3h0M308.3 208.3h0M307.3 214.2h0M312.7 214.4h0M310.2 199.9h0M311.4 210.6h0M311.4 205.8h0M312.2 207.7h0M315.7 203.9h0M306.0 205.3h0M312.7 201.4h0M311.9 210.6h0M312.9 210.4h0M309.9 200.5h0M314.5 208.0h0M308.3 214.3h0M313.9 195.8h0M318.9 212.4h0M307.6 211.1h0M312.8 214.9h0M312.0 200.4h0M311.5 206.2h0M312.7 207.9h0M313.5 203.3h0M310.5 205.3h0M313.1 200.7h0M312.0 220.0h0M307.1 211.2h0M312.2 213.4h0M312.1 209.8h0M312.9 211.2h0M308.7 206.3h0M316.8 217.6h0M309.7 202.8h0M311.5 213.4h0M314.4 206.8h0M305.6 205.3h0M307.5 212.2h0M315.9 213.6h0M313.5 212.0h0M316.9 216.0h0M315.8 204.7h0M310.6 207.8h0M306.0 204.3h0M311.9 208.1h0M318.7 210.6h0M311.4 207.6h0M311.0 201.1h0M315.0 210.0h0M312.9 209.1h0M309.9 199.7h0M311.2 210.7h0M311.6 211.9h0M309.8 206.1h0M312.3 208.2h0M312.4 215.6h0M310.8 208.6h0M310.2 210.3h0M312.5 205.2h0M309.2 201.4h0M311.2 208.8h0M310.6 207.3h0M312.3 220.0h0M315.1 221.2h0M312.3 209.7h0M317.2 212.7h0M313.7 206.8h0M310.5 211.6h0M310.3 204.5h0M307.9 208.0h0M311.7 211.0h0M309.6 201.3h0M314.9 209.9h0M314.1 203.9h0M308.5 194.5h0M312.7 213.6h0M315.5 218.7h0M307.0 200.9h0M310.5 203.9h0M311.4 204.3h0M308.0 206.4h0M312.3 204.9h0M312.0 202.2h0M311.1 206.4h0M310.7 207.5h0M308.5 200.3h0M309.7 211.0h0M309.4 202.7h0M317.3 209.7h0M310.9 203.7h0M315.9 212.8h0M312.6 216.5h0M308.7 198.8h0M314.9 211.9h0M310.5 211.7h0M311.7 217.8h0M308.5 208.6h0M314.6 214.0h0M311.0 206.1h0M310.8 211.2h0M310.8 207.3h0M314.7 209.2h0M312.6 208.1h0M312.0 197.6h0M309.4 209.1h0M310.2 204.6h0M312.1 219.6h0M309.9 202.8h0M307.1 208.4h0M311.8 204.3h0M310.8 212.7h0M314.7 211.5h0M315.0 214.8h0M310.7 211.7h0M312.3 212.4h0M312.7 219.2h0M308.5 208.6h0M309.0 218.4h0M310.5 206.0h0M311.9 208.2h0M316.5 210.3h0M312.6 213.9h0M316.0 205.6h0M312.7 202.3h0M313.3 216.0h0M310.5 206.4h0M315.1 212.1h0M314.1 207.2h0M311.1 206.2h0M316.1 203.1h0M310.5 215.4h0M311.7 203.0h0M312.6 207.7h0M311.6 210.7h0M314.1 202.1h0M312.5 216.0h0M308.3 206.3h0M308.8 210.2h0M309.6 205.7h0M310.8 210.1h0M308.4 199.9h0M312.4 215.3h0M310.6 209.8h0M312.6 209.3h0M311.9 205.7h0M311.3 214.0h0M313.1 215.3h0M310.0 208.1h0M310.2 201.1h0M314.3 208.2h0M312.6 201.8h0M311.2 207.5h0M310.9 212.9h0M313.2 209.6h0M312.5 206.5h0M310.0 206.2h0M309.2 206.3h0M311.6 213.8h0M310.7 219.8h0M310.5 208.4h0M311.8 205.4h0M311.7 199.6h0M314.9 207.0h0M311.8 199.5h0M313.4 202.8h0M315.6 205.0h0M309.9 210.8h0M315.4 200.3h0M307.4 214.3h0M313.1 201.5h0M310.7 211.3h0M310.9 215.4h0M310.0 208.4h0M315.0 217.2h0M312.5 211.6h0M311.0 207.7h0M310.4 209.6h0M314.2 204.5h0M308.8 207.2h0M317.3 212.0h0M312.3 208.4h0M307.4 202.8h0M316.0 199.9h0M316.7 204.7h0M317.4 223.9h0M315.9 209.6h0M313.5 206.4h0M310.7 208.9h0M303.5 207.3h0M311.1 202.7h0M311.2 211.3h0M309.8 209.2h0M308.3 207.2h0M308.8 210.8h0M309.1 210.2h0M306.6 206.8h0M314.9 205.7h0M312.0 204.2h0M313.2 212.7h0M315.0 216.4h0M315.4 206.4h0M312.2 211.2h0M312.4 202.1h0M317.3 223.6h0M312.1 195.6h0M316.8 209.8h0M318.0 206.0h0M313.3 213.0h0M308.0 205.0h0M313.2 212.3h0M312.9 195.9h0M305.5 207.2h0M316.2 202.8h0M313.0 213.5h0M309.3 199.3h0M312.6 206.5h0M311.6 207.3h0M311.6 209.8h0M310.5 207.6h0M310.4 203.4h0M312.8 204.7h0M313.3 208.9h0M314.8 212.7h0M306.5 205.8h0M313.7 209.8h0M312.0 213.8h0M313.7 202.6h0M312.2 213.5h0M312.3 202.2h0M314.0 212.4h0M315.0 210.7h0M312.2 212.8h0M308.9 215.6h0M313.0 210.0h0M313.9 213.3h0M306.0 210.3h0M311.6 204.3h0M314.3 214.2h0M312.9 205.8h0M312.2 203.8h0M318.7 208.2h0M314.2 217.6h0M309.6 204.7h0M305.9 204.4h0M308.3 207.5h0M311.3 208.2h0M312.0 206.1h0M312.2 208.2h0M310.0 205.9h0M310.4 201.2h0M311.8 199.1h0M313.3 208.9h0M312.3 214.4h0M314.5 207.4h0M312.8 214.8h0M311.5 210.1h0M313.0 203.7h0M312.6 206.8h0M311.2 210.2h0M313.6 204.7h0M311.2 207.1h0M309.3 209.1h0M311.3 204.6h0M314.4 209.1h0M308.8 206.5h0M311.4 209.6h0M317.9 213.9h0M315.8 209.3h0M313.2 211.5h0M311.6 209.5h0M310.7 211.3h0M309.5 215.8h0M301.9 196.8h0M311.6 210.0h0M312.3 200.5h0M313.0 204.5h0M312.4 206.5h0M311.2 200.5h0M308.4 204.0h0M309.0 208.3h0M308.1 207.7h0M313.4 205.4h0M309.3 205.5h0M314.0 216.3h0M317.7 211.5h0M313.5 210.1h0M311.8 203.0h0M310.9 213.5h0M315.6 207.1h0M307.6 215.8h0M312.0 210.7h0M311.4 199.2h0M312.7 203.9h0M311.1 204.9h0M311.2 220.0h0M315.9 200.5h0M307.8 203.9h0M310.1 211.4h0M316.1 206.7h0M313.4 208.0h0M306.6 211.8h0M316.6 206.5h0M313.6 206.6h0M311.6 206.0h0M311.5 208.4h0M310.2 209.0h0M308.4 210.8h0M309.3 197.9h0M314.1 207.7h0M310.5 212.3h0M311.8 218.1h0M313.0 201.8h0M310.5 204.4h0M311.1 216.4h0M319.2 220.3h0M313.1 211.7h0M312.3 197.6h0M315.6 220.0h0M310.5 207.6h0M310.0 206.5h0M309.6 201.7h0M315.1 200.2h0M314.6 204.0h0M311.2 198.0h0M313.6 204.2h0M318.6 206.8h0M312.6 212.0h0M309.3 203.0h0M309.0 209.8h0M312.7 213.8h0M308.0 202.0h0M311.6 206.0h0M312.7 214.4h0M312.2 204.6h0M311.8 204.7h0M310.1 216.9h0M313.7 218.4h0M311.3 207.8h0M308.5 208.0h0M313.8 212.8h0M308.8 207.5h0M314.4 207.2h0M313.8 206.7h0M311.9 205.5h0M307.9 202.4h0M312.4 207.2h0M311.9 205.5h0M314.3 208.6h0M312.9 206.5h0M315.4 209.5h0M313.1 219.9h0M313.0 201.1h0M310.1 209.2h0M308.4 199.4h0M311.6 200.4h0M314.8 211.9h0M311.0 214.0h0M310.1 201.6h0M314.3 209.6h0M311.3 213.3h0M311.5 211.4h0M312.5 214.4h0M313.4 206.7h0M315.9 208.5h0M316.6 204.2h0M312.0 197.3h0M313.3 215.7h0M310.8 210.3h0M311.3 215.3h0M312.8 210.6h0M314.8 202.2h0M313.8 209.9h0M315.4 210.2h0M313.5 208.9h0M309.3 204.7h0M311.4 201.5h0M311.8 206.0h0M316.8 209.5h0M312.2 209.0h0M313.8 201.2h0M307.2 214.1h0M309.7 202.9h0M315.0 211.4h0M309.7 211.1h0M308.9 215.1h0M311.1 209.7h0M311.9 218.0h0M309.3 206.7h0M317.7 200.9h0M310.6 209.2h0M311.3 210.4h0M315.0 204.2h0M310.2 214.2h0M317.1 197.5h0M313.4 214.0h0M310.1 203.2h0M308.9 206.0h0M308.8 210.5h0M310.1 210.1h0M307.7 210.9h0M313.7 214.0h0M312.6 220.2h0M314.5 209.9h0M316.2 208.6h0M312.3 216.8h0M310.7 207.8h0M312.6 209.7h0M311.3 213.2h0M317.7 209.2h0M308.0 204.3h0M308.2 200.4h0M309.1 212.4h0M312.3 212.2h0M311.6 213.4h0M310.8 214.4h0M314.3 210.6h0M308.0 201.1h0M312.6 203.6h0M311.5 207.4h0M315.6 206.7h0M312.3 206.3h0M309.9 209.7h0M314.5 202.5h0M315.9 221.4h0M312.3 211.2h0M309.1 205.1h0M312.8 208.4h0M315.6 205.8h0M311.3 210.7h0M311.7 207.1h0M311.6 210.3h0M306.8 219.0h0M313.9 204.1h0M309.5 201.7h0M313.1 199.7h0M318.5 208.7h0M308.2 216.9h0M311.9 210.9h0M311.4 206.9h0M317.4 201.2h0M312.6 205.1h0M311.0 207.7h0M307.0 209.2h0M312.5 211.5h0M310.3 211.4h0M310.7 211.7h0M315.5 213.2h0M308.1 207.0h0M309.2 216.8h0M312.5 202.3h0M307.9 213.1h0M309.2 209.2h0M311.1 207.3h0M310.8 207.9h0M316.3 206.1h0M313.3 211.5h0M310.1 202.2h0M309.5 210.2h0M312.4 213.7h0M312.9 209.5h0M312.0 209.6h0M312.1 211.8h0M309.6 212.7h0M316.3 210.0h0M313.5 203.3h0M312.2 201.5h0M314.6 209.9h0M314.8 215.4h0M310.0 211.6h0M316.1 221.4h0M311.7 211.0h0M310.2 210.8h0M313.5 216.4h0M311.5 208.6h0M313.3 208.2h0M317.5 200.0h0M307.4 203.8h0M313.8 209.4h0M313.1 201.5h0M313.5 211.9h0M316.3 214.6h0M310.3 204.0h0M308.9 204.6h0M311.7 214.5h0M316.4 210.9h0M313.5 208.4h0M308.5 209.5h0M310.0 199.6h0M309.7 214.8h0M308.8 213.7h0M308.3 206.4h0M313.3 207.1h0M309.3 207.3h0M316.4 213.8h0M312.5 211.5h0M315.1 216.5h0M311.2 203.8h0M309.3 207.5h0M311.1 208.1h0M310.3 220.0h0M310.1 214.6h0M309.6 203.5h0M308.8 201.6h0M307.6 202.4h0M311.3 211.6h0M307.1 208.4h0M311.6 208.3h0M306.1 208.1h0M313.7 215.0h0M311.2 214.2h0M312.1 204.0h0M313.4 213.9h0M312.6 208.6h0M311.3 211.5h0M307.1 207.7h0M308.5 204.3h0M312.5 214.8h0M311.9 203.9h0M319.3 213.5h0M304.7 204.6h0M310.0 204.6h0M314.8 220.3h0M312.2 202.0h0M314.3 210.0h0M310.8 209.0h0M308.8 208.0h0M312.9 214.8h0M317.4 207.9h0M313.0 205.0h0M312.3 214.3h0M313.7 207.8h0M316.8 215.1h0M315.3 210.4h0M315.6 209.4h0M314.3 209.8h0M311.9 200.8h0M314.6 212.5h0M310.3 208.0h0M313.6 212.4h0M306.3 213.2h0M309.2 216.6h0M315.0 210.6h0M312.5 210.1h0M310.8 215.4h0M310.1 205.0h0M311.3 200.4h0M314.8 204.0h0M316.1 215.0h0M317.4 208.1h0M311.1 205.9h0M314.1 205.1h0M311.1 196.6h0M312.1 209.6h0M317.4 206.9h0M314.6 212.5h0M314.3 204.1h0M302.5 201.7h0M314.6 210.5h0M315.9 221.0h0M310.0 205.6h0M316.1 202.2h0M305.1 206.6h0M312.9 216.4h0M314.0 209.2h0M310.4 198.7h0M313.4 206.1h0M310.9 209.6h0M306.4 205.5h0M310.2 217.6h0M311.6 213.9h0M309.2 199.3h0M314.4 207.9h0M308.3 212.1h0M313.3 200.6h0M311.3 218.1h0M312.3 201.9h0M309.6 214.3h0M316.1 213.8h0M307.8 210.7h0M309.7 204.9h0M310.6 213.2h0M313.4 212.0h0M310.7 205.3h0M314.9 206.8h0M311.2 210.9h0M311.5 213.2h0M313.5 212.4h0M318.3 208.7h0M317.7 204.7h0M309.8 194.9h0M310.1 203.6h0M313.9 215.7h0M318.4 208.8h0M314.9 208.9h0M311.0 198.2h0M314.4 204.9h0M313.8 205.9h0M313.3 204.3h0M313.1 218.2h0M313.0 202.0h0M309.8 208.1h0M314.2 203.2h0M309.4 199.1h0M316.8 212.2h0M312.9 206.7h0M317.3 213.9h0M311.7 214.5h0M313.6 207.8h0M310.9 208.0h0M315.8 203.0h0M307.3 209.8h0M314.9 217.2h0M313.6 201.6h0M314.2 210.4h0M309.1 199.0h0M307.7 206.8h0M308.4 208.6h0M311.5 211.5h0M314.4 204.9h0M310.9 211.7h0M310.2 212.8h0M313.6 213.8h0M310.3 211.7h0M311.4 209.3h0M313.7 206.4h0M311.8 196.3h0M310.0 210.7h0M308.9 196.3h0M308.0 205.1h0M313.8 212.0h0M308.0 208.7h0M308.6 212.4h0M313.0 205.7h0M310.7 207.4h0M310.3 213.7h0M312.8 205.9h0M313.2 202.0h0M312.4 207.0h0M310.4 207.4h0M312.6 201.2h0M313.0 224.0h0M314.1 206.4h0M312.9 217.4h0M309.0 215.5h0M311.0 217.7h0M309.7 212.7h0M310.4 214.1h0M314.4 211.3h0M309.7 212.7h0M313.0 203.4h0M313.5 208.3h0M311.6 203.2h0M312.5 213.1h0M309.6 211.5h0M307.0 206.7h0M312.7 203.9h0M312.4 201.9h0M317.1 212.8h0M314.9 205.0h0M305.8 205.1h0M315.6 209.3h0M315.1 212.0h0M312.8 214.3h0M310.3 205.6h0M314.9 212.2h0M310.5 202.2h0M316.0 193.7h0M314.4 208.8h0M308.4 208.9h0M313.2 220.7h0M312.7 195.9h0M309.4 211.2h0M310.6 207.5h0M311.7 215.7h0M312.8 208.0h0M310.2 212.8h0M310.1 209.7h0M313.1 212.8h0M314.1 210.9h0M317.2 214.9h0M309.9 202.8h0M310.1 214.4h0M309.0 215.1h0M313.1 205.9h0M309.3 206.7h0M314.0 209.0h0M313.9 210.2h0M315.6 207.6h0M311.6 202.5h0M311.1 202.9h0M307.9 205.4h0M313.8 197.7h0M308.6 199.7h0M312.9 211.8h0M312.8 207.9h0M309.9 208.4h0M309.6 206.2h0M313.0 207.6h0M315.1 198.7h0M307.7 211.6h0M310.4 205.3h0M310.5 207.4h0M311.5 210.1h0M314.4 219.1h0M306.3 205.2h0M309.6 208.4h0M309.3 207.5h0M312.7 208.6h0M312.6 212.1h0M309.2 206.9h0M314.7 214.5h0M314.5 205.4h0M310.2 212.7h0M311.9 209.9h0M311.0 212.7h0M312.4 203.5h0M312.9 207.1h0M311.2 211.0h0M312.3 205.7h0M308.9 204.7h0M311.6 202.1h0M310.3 219.6h0M310.3 208.0h0M308.7 205.3h0M312.6 209.6h0M307.5 206.5h0M309.4 212.8h0M311.7 216.4h0M312.9 202.9h0M314.4 207.1h0M311.6 208.8h0M308.5 212.8h0M312.3 203.3h0M308.3 209.1h0M315.1 212.0h0M312.8 206.7h0M314.8 212.5h0M309.8 204.3h0M306.3 211.7h0M319.8 211.5h0M313.1 212.9h0M311.4 219.1h0M309.3 202.9h0M316.2 215.1h0M313.9 208.8h0M311.8 209.1h0M313.1 205.9h0M314.7 218.6h0M310.5 202.9h0M312.3 221.2h0M309.4 214.1h0M310.2 203.8h0M314.8 208.9h0M311.8 212.0h0M314.9 211.0h0M316.0 206.9h0M310.6 211.3h0M313.6 200.4h0M299.8 203.2h0M303.5 200.4h0M305.7 197.8h0M294.9 201.0h0M304.5 198.2h0M307.5 197.1h0M309.0 198.2h0M303.7 203.1h0M302.4 200.3h0M298.7 202.6h0M309.3 198.7h0M298.8 199.5h0M297.2 202.1h0M296.7 200.1h0M302.0 199.6h0M303.6 198.8h0M302.3 197.7h0M296.8 202.6h0M293.5 201.7h0M298.8 203.1h0M305.8 198.9h0M301.0 201.8h0M299.4 201.9h0M306.4 199.7h0M296.5 203.6h0M294.9 204.4h0M303.3 198.1h0M309.2 198.9h0M308.7 199.2h0M302.4 201.3h0M299.9 202.1h0M304.2 200.0h0M303.3 204.7h0M299.2 203.2h0M309.9 198.6h0M311.8 200.4h0M302.3 204.0h0M295.0 201.2h0M305.1 198.5h0M298.1 202.2h0M302.0 202.2h0M295.4 202.3h0M309.0 197.7h0M303.6 201.2h0M308.7 201.1h0M299.1 203.2h0M300.0 201.1h0M304.9 205.6h0M302.7 199.4h0M307.7 198.6h0M300.3 204.1h0M304.9 201.8h0M306.6 203.1h0M305.5 198.7h0M295.3 203.8h0M301.4 202.6h0M301.0 202.8h0M303.9 205.0h0M305.8 200.3h0M307.7 197.9h0M298.5 202.5h0M308.2 201.8h0M305.3 203.5h0M295.2 202.7h0M306.0 203.9h0M307.4 201.4h0M305.6 197.9h0M298.3 203.8h0M299.8 197.3h0M302.6 199.4h0M304.6 200.8h0M299.0 202.7h0M297.7 203.1h0M304.9 199.5h0M299.3 198.0h0M308.0 203.1h0M302.8 200.1h0M309.8 198.4h0M296.6 203.6h0M308.8 201.8h0M297.1 200.6h0M295.9 203.2h0M300.0 197.9h0M309.2 206.1h0M296.7 205.3h0M301.9 202.6h0M301.0 202.8h0M304.1 203.3h0M293.4 199.5h0M307.4 198.7h0M308.3 200.1h0M296.6 196.0h0M296.6 201.8h0M310.3 200.6h0M301.4 205.2h0M306.7 195.8h0M298.2 202.7h0M302.5 204.0h0M301.9 196.7h0M309.1 201.2h0M303.4 201.6h0M295.1 200.9h0M299.1 200.6h0M303.4 197.7h0M297.4 206.2h0M300.1 203.7h0M295.0 198.6h0M307.6 202.6h0M310.1 197.7h0M306.1 198.8h0M304.3 202.7h0M303.1 198.2h0M301.1 201.2h0M294.3 206.9h0M298.6 203.4h0M298.9 200.9h0M306.5 199.5h0M299.8 205.6h0M301.3 200.6h0M296.4 198.6h0M306.9 200.5h0M303.1 200.5h0M299.6 203.6h0M300.7 203.4h0M304.9 201.3h0M298.6 203.7h0M297.0 204.1h0M299.5 201.5h0M299.1 198.4h0M299.0 204.9h0M302.3 196.8h0M296.8 200.5h0M305.8 198.8h0M306.7 201.3h0M301.3 202.9h0M299.8 204.6h0M297.1 203.0h0M306.0 201.8h0M305.0 199.5h0M296.2 201.0h0M301.4 202.4h0M300.2 201.0h0M298.0 199.6h0M299.0 199.7h0M296.3 202.5h0M298.8 202.0h0M301.4 202.2h0M300.5 203.1h0M305.5 199.1h0M306.7 199.3h0M299.5 206.1h0M307.4 200.8h0M296.1 200.3h0M309.6 198.1h0M297.0 201.6h0M308.1 204.2h0M299.2 204.2h0M301.1 195.8h0M310.3 199.5h0M307.2 198.5h0M305.1 199.2h0M299.9 200.4h0M299.2 200.4h0M292.9 201.0h0M305.1 201.2h0M295.5 202.1h0M296.1 201.8h0M306.8 202.3h0M303.0 205.7h0M310.1 199.3h0M294.2 197.9h0M299.1 205.2h0M300.3 198.9h0M303.9 198.3h0M308.3 200.4h0M304.7 200.0h0M303.7 200.5h0M301.6 205.4h0M309.7 201.2h0M296.1 199.6h0M300.1 199.5h0M300.8 202.8h0M301.5 203.7h0M295.9 206.5h0M303.5 203.9h0M299.9 199.7h0M297.9 205.7h0M301.1 197.8h0M302.8 199.4h0M294.1 203.5h0M299.3 197.7h0M306.6 200.9h0M306.8 200.5h0M302.3 196.8h0M303.7 199.1h0M308.1 202.0h0M294.0 200.6h0M302.2 201.3h0M307.9 201.5h0M306.2 198.1h0M305.1 205.3h0M301.6 200.0h0M305.3 197.8h0M305.5 194.1h0M299.9 201.4h0M301.1 197.1h0M299.3 203.9h0M300.6 202.1h0M297.4 201.5h0M307.5 198.9h0M296.9 202.9h0M297.1 199.6h0M294.3 201.6h0M305.7 200.5h0M293.7 200.9h0M309.4 200.2h0M302.3 199.3h0M300.9 205.5h0M303.2 202.8h0M303.1 202.3h0M305.4 202.0h0M308.2 203.0h0M307.0 203.3h0M301.1 201.3h0M297.2 200.0h0M302.6 200.0h0M297.4 200.7h0M302.4 204.1h0M308.3 201.6h0M307.3 203.3h0M304.2 198.3h0M303.6 201.4h0M301.8 198.4h0M307.1 199.3h0M288.5 203.2h0M305.4 197.9h0M299.6 201.3h0M305.7 200.0h0M303.5 198.7h0M305.2 200.0h0M309.4 200.1h0M292.8 204.4h0M302.3 200.4h0M297.7 200.5h0M309.1 201.5h0M300.0 200.6h0M301.5 201.7h0M301.9 201.1h0M306.7 202.9h0M304.2 198.5h0M305.2 200.9h0M298.9 207.6h0M300.9 200.9h0M298.4 201.5h0M309.1 199.4h0M307.1 196.3h0M310.0 198.8h0M297.1 202.6h0M302.6 202.3h0M294.1 202.9h0M300.2 199.6h0M297.9 200.6h0M300.2 200.4h0M295.3 201.7h0M300.6 201.4h0M307.5 200.6h0M304.1 202.0h0M303.3 200.9h0M299.6 201.7h0M302.0 199.6h0M314.3 199.2h0M301.7 196.3h0M295.8 201.8h0M297.5 199.9h0M306.2 200.2h0M303.7 200.8h0M299.0 199.3h0M305.8 203.2h0M294.9 201.3h0M308.5 203.9h0M304.6 200.7h0M308.5 193.9h0M296.6 205.8h0M307.5 202.3h0M299.9 200.5h0M304.5 201.0h0M300.6 196.6h0M313.4 200.6h0M303.7 200.9h0M304.0 199.9h0M307.5 203.4h0M306.6 193.0h0M292.5 202.4h0M307.4 198.9h0M299.8 200.1h0M299.8 203.4h0M300.2 201.4h0M299.5 201.7h0M293.7 204.1h0M307.9 196.8h0M296.1 200.9h0M304.5 199.6h0M305.1 199.9h0M304.6 198.4h0M296.8 201.7h0M305.6 200.0h0M295.1 201.5h0M306.1 201.5h0M303.5 197.6h0M297.9 201.5h0M308.5 200.1h0M300.4 204.0h0M304.4 203.2h0M308.5 202.6h0M304.0 205.0h0M297.5 201.2h0M307.4 203.1h0M303.0 197.1h0M296.5 202.7h0M303.7 201.4h0M306.5 202.1h0M300.2 199.4h0M295.6 200.4h0M301.6 203.7h0M303.0 201.5h0M302.6 201.0h0M300.1 200.7h0M300.0 202.2h0M293.3 202.3h0M306.3 199.6h0M298.1 200.6h0M302.6 202.2h0M299.0 199.9h0M297.4 204.7h0M309.4 195.8h0M300.3 198.0h0M309.3 199.6h0M302.1 199.0h0M310.1 202.5h0M309.5 199.7h0M307.3 202.3h0M297.8 199.3h0M298.8 201.9h0M309.9 198.4h0M300.5 198.8h0M301.7 201.9h0M307.7 197.0h0M306.3 201.5h0M308.5 198.2h0M301.2 199.4h0M286.7 223.1h0M285.4 218.1h0M286.7 212.6h0M276.2 215.8h0M276.8 230.5h0M291.3 217.5h0M278.5 219.6h0M271.5 222.4h0M284.1 210.9h0M289.7 205.9h0M292.0 217.3h0M277.5 224.2h0M272.6 223.0h0M297.3 209.0h0M287.5 214.5h0M277.8 218.9h0M277.7 232.8h0M287.0 212.2h0M290.2 205.8h0M285.6 215.5h0M277.5 223.0h0M280.2 225.9h0M284.6 221.3h0M287.6 208.5h0M279.8 224.1h0M294.6 211.4h0M285.9 207.8h0M273.3 229.0h0M272.8 228.0h0M283.6 217.8h0M291.2 207.1h0M274.6 223.8h0M287.2 210.5h0M282.9 225.8h0M275.5 224.9h0M291.0 210.5h0M285.5 225.8h0M283.5 221.1h0M287.5 214.6h0M281.5 222.2h0M286.0 214.3h0M278.1 226.8h0M288.4 215.4h0M279.8 222.0h0M278.4 226.0h0M279.1 233.4h0M285.0 215.6h0M287.8 220.7h0M287.1 215.7h0M276.0 220.8h0M287.6 218.6h0M276.3 223.4h0M276.3 222.0h0M278.1 226.3h0M285.4 211.6h0M273.3 231.3h0M292.4 211.8h0M282.9 215.5h0M282.5 220.5h0M288.0 222.3h0M278.5 223.2h0M288.5 220.2h0M272.8 224.3h0M290.3 214.1h0M280.1 222.3h0M283.0 219.5h0M279.3 221.6h0M284.1 219.7h0M279.7 217.2h0M274.3 220.3h0M284.2 207.0h0M293.0 211.1h0M278.7 216.9h0M268.7 223.5h0M285.5 221.6h0M289.4 212.0h0M277.5 222.7h0M277.7 220.2h0M281.0 227.8h0M274.2 224.4h0M291.6 216.7h0M280.8 225.4h0M279.3 217.6h0M295.6 220.4h0M291.2 213.0h0M293.4 216.3h0M282.0 222.8h0M284.7 221.0h0M287.8 212.9h0M294.2 212.1h0M278.8 229.6h0M277.0 222.6h0M290.4 208.7h0M285.6 230.1h0M283.9 211.0h0M290.3 213.9h0M275.9 223.0h0M283.4 222.7h0M292.9 219.2h0M269.1 231.2h0M275.2 225.4h0M270.2 221.9h0M284.7 219.5h0M288.3 214.1h0M286.8 218.6h0M279.5 224.7h0M283.8 218.2h0M279.1 214.4h0M284.5 218.6h0M299.3 210.1h0M285.3 217.5h0M276.6 223.7h0M282.3 219.7h0M273.6 222.8h0M270.2 227.7h0M280.7 223.5h0M282.9 221.9h0M288.9 212.7h0M276.4 226.0h0M293.7 209.4h0M292.7 210.5h0M290.2 219.0h0M286.7 209.9h0M289.7 214.1h0M274.0 227.8h0M298.2 201.3h0M275.6 227.4h0M288.4 216.6h0M282.2 231.9h0M289.2 205.4h0M282.9 223.2h0M278.5 229.4h0M288.8 220.5h0M282.9 220.9h0M285.4 216.3h0M286.5 217.4h0M291.9 216.2h0M281.3 223.4h0M275.8 221.4h0M282.8 205.7h0M277.3 228.3h0M276.2 230.9h0M279.7 228.0h0M291.7 212.6h0M277.8 212.9h0M283.1 219.2h0M288.9 211.0h0M282.9 218.2h0M284.6 220.8h0M275.1 222.8h0M288.6 220.5h0M278.6 218.6h0M286.2 218.2h0M274.3 229.9h0M275.0 221.5h0M275.5 231.7h0M282.8 221.7h0M278.9 221.2h0M278.9 217.2h0M287.7 210.3h0M282.5 227.3h0M287.2 208.6h0M285.7 222.5h0M274.6 233.4h0M290.9 213.0h0M289.4 214.1h0M284.5 211.0h0M268.4 227.0h0M293.3 212.3h0M269.7 232.4h0M283.2 215.3h0M279.1 224.2h0M281.1 218.8h0M274.1 222.4h0M279.7 219.2h0M291.0 213.9h0M277.2 221.5h0M285.3 222.0h0M277.7 216.0h0M274.1 231.0h0M290.0 215.4h0M291.6 213.2h0M289.6 221.6h0M276.6 223.2h0M277.5 223.9h0M284.1 216.1h0M280.3 218.8h0M284.0 221.4h0M278.3 218.3h0M289.5 216.6h0M292.7 212.6h0M276.9 220.2h0M286.2 210.2h0M284.3 220.4h0M283.6 214.1h0M279.5 219.5h0M291.6 221.7h0M282.9 227.1h0M287.7 211.0h0M281.0 229.3h0M284.4 219.5h0M275.7 223.4h0M285.6 214.0h0M288.0 209.4h0M283.4 215.3h0M295.2 209.0h0M286.3 212.0h0M278.3 225.4h0M274.5 211.7h0M283.7 224.5h0M285.4 219.3h0M287.3 223.2h0M283.5 222.1h0M279.0 224.0h0M274.3 229.2h0M284.9 215.7h0M296.4 209.1h0M294.6 215.7h0M285.5 218.4h0M282.4 219.5h0M283.0 217.0h0M273.6 231.0h0M294.7 214.5h0M276.2 225.1h0M282.1 232.9h0M282.2 214.6h0M289.1 219.6h0M296.6 212.5h0M273.4 227.5h0M279.5 229.5h0M294.4 213.2h0M278.2 225.3h0M283.6 221.2h0M290.5 208.8h0M275.8 211.9h0M275.7 221.3h0M287.4 216.1h0M285.4 215.7h0M286.4 213.6h0M284.8 214.1h0M278.6 231.9h0M277.5 219.3h0M288.9 207.8h0M279.8 228.0h0M284.5 222.2h0M289.9 208.5h0M283.8 223.9h0M285.8 208.9h0M279.1 223.9h0M280.9 224.7h0M284.4 216.1h0M284.9 209.4h0M292.3 215.2h0M275.1 221.7h0M274.2 230.0h0M286.9 211.3h0M294.1 212.2h0M285.0 222.2h0M278.2 220.9h0M288.2 220.4h0M290.2 210.6h0M289.9 212.1h0M290.3 216.7h0M282.7 228.2h0M283.1 209.5h0M281.3 226.4h0M287.5 216.2h0M287.1 209.6h0M291.7 214.0h0M279.8 217.3h0M288.1 211.0h0M287.6 216.7h0M276.4 226.5h0M274.1 224.3h0M285.1 210.5h0M284.5 209.8h0M284.3 222.3h0M293.3 212.3h0M281.4 225.7h0M269.6 223.5h0M284.4 216.2h0M286.7 215.8h0M285.2 216.9h0M291.9 214.3h0M286.7 213.9h0M295.3 206.4h0M283.5 223.1h0M292.1 207.7h0M289.9 218.7h0M296.0 211.1h0M295.2 212.5h0M291.4 209.5h0M279.3 216.4h0M290.6 207.6h0M273.0 225.1h0M288.4 216.0h0M276.1 226.7h0M268.2 231.7h0M291.7 213.3h0M278.1 229.1h0M287.2 207.9h0M291.4 223.5h0M283.3 225.6h0M285.3 225.2h0M284.0 226.5h0M285.4 221.7h0M282.5 226.5h0M284.6 220.3h0M275.6 231.3h0M280.4 213.4h0M270.3 224.1h0M279.9 225.9h0M278.6 228.4h0M290.3 212.8h0M276.2 224.1h0M284.4 218.5h0M282.6 216.5h0M284.2 218.8h0M293.4 210.8h0M287.9 214.7h0M279.8 216.6h0M281.4 211.2h0M283.0 219.6h0M283.5 215.9h0M281.9 232.7h0M272.4 230.8h0M292.6 216.9h0M276.2 232.6h0M290.2 219.3h0M276.7 231.7h0M277.6 223.2h0M284.6 213.8h0M278.0 227.5h0M288.3 213.4h0M281.2 215.7h0M288.0 213.2h0M278.8 216.1h0M287.4 210.7h0M289.5 206.8h0M270.2 231.8h0M282.0 222.5h0M290.5 216.0h0M284.7 223.9h0M290.7 216.2h0M282.9 212.7h0M274.1 230.7h0M282.1 223.9h0M268.4 223.2h0M293.4 216.6h0M281.0 226.2h0M295.5 219.0h0M287.5 221.6h0M294.2 210.2h0M274.1 229.9h0M281.3 227.3h0M276.6 220.6h0M289.4 222.9h0M284.1 211.3h0M294.1 217.5h0M284.4 223.1h0M288.0 212.4h0M282.7 221.6h0M287.3 219.8h0M282.4 219.5h0M287.2 215.6h0M295.5 212.3h0M283.3 214.5h0M287.9 220.5h0M289.2 219.4h0M281.6 222.4h0M282.0 224.5h0M275.8 232.4h0M291.5 212.5h0M299.0 207.6h0M284.5 225.0h0M281.9 222.0h0M290.3 216.1h0M281.0 215.7h0M294.5 217.5h0M294.5 205.2h0M289.2 220.3h0M280.7 232.2h0M281.5 231.4h0M285.7 217.1h0M283.8 215.3h0M283.5 220.2h0M275.0 226.7h0M290.6 214.7h0M272.8 222.9h0M273.0 231.7h0M287.0 215.7h0M284.6 212.9h0M282.9 222.4h0M290.9 208.5h0M286.3 214.7h0M287.0 219.1h0M287.4 211.8h0M276.7 221.8h0M285.4 220.3h0M295.1 216.2h0M293.4 212.0h0M280.8 224.6h0M278.0 227.7h0M272.8 232.9h0M287.5 222.2h0M294.1 209.2h0M293.5 219.3h0M274.5 216.8h0M282.0 221.6h0M283.8 211.0h0M274.3 230.3h0M279.3 228.1h0M293.4 208.4h0M276.3 230.2h0M283.8 232.8h0M282.4 223.1h0M273.0 234.2h0M286.3 209.3h0M277.3 228.1h0M285.4 224.7h0M277.5 230.3h0M278.0 218.1h0M282.1 235.0h0M276.3 224.1h0M282.0 225.3h0M281.7 228.8h0M287.7 215.4h0M277.7 221.4h0M285.7 214.5h0M288.1 223.1h0M292.3 212.3h0M284.9 219.7h0M285.7 224.6h0M284.9 227.5h0M285.9 212.1h0M279.6 227.4h0M283.5 217.3h0M285.9 224.9h0M286.9 208.1h0M280.5 224.1h0M274.9 233.7h0M278.9 221.2h0M283.8 220.6h0M302.2 209.8h0M302.8 203.5h0M285.0 209.8h0M278.6 223.7h0M290.5 206.5h0M285.2 220.0h0M287.3 206.6h0M273.8 228.2h0M283.1 217.1h0M267.7 230.0h0M299.0 217.8h0M283.4 223.2h0M283.9 211.1h0M281.1 234.3h0M268.4 222.2h0M280.6 214.0h0M288.1 215.5h0M278.1 221.3h0M277.4 223.1h0M290.4 214.7h0M289.7 221.4h0M290.4 212.7h0M282.0 221.5h0M279.3 222.2h0M284.1 216.7h0M296.0 208.2h0M290.0 206.6h0M277.6 227.0h0M279.2 226.5h0M284.9 223.0h0M267.4 224.2h0M291.1 214.9h0M283.7 218.0h0M275.5 224.1h0M289.7 208.1h0M291.0 208.8h0M282.7 222.7h0M288.7 212.1h0M289.8 209.7h0M287.4 215.3h0M296.7 212.2h0M276.1 223.5h0M287.3 226.8h0M288.7 210.8h0M286.8 226.7h0M291.1 214.0h0M285.9 218.5h0M284.9 227.8h0M279.7 228.0h0M276.3 222.6h0M292.6 217.8h0M288.3 223.1h0M281.0 227.4h0M291.5 220.8h0M292.3 212.3h0M284.0 219.1h0M286.6 213.4h0M288.4 208.0h0M276.7 228.0h0M283.0 226.2h0M286.0 215.6h0M285.5 225.0h0M275.4 229.4h0M288.5 216.6h0M280.3 231.3h0M275.1 227.1h0M279.1 224.8h0M286.0 224.9h0M284.0 216.7h0M281.1 222.2h0M277.8 220.0h0M283.3 216.3h0M275.4 227.4h0M279.7 217.2h0M278.5 222.8h0M291.3 211.1h0M276.7 225.5h0M276.9 219.6h0M277.8 224.1h0M280.5 220.8h0M280.1 224.9h0M290.5 216.1h0M275.8 217.5h0M295.5 208.7h0M290.2 219.2h0M293.7 209.7h0M274.4 227.1h0M282.8 230.1h0M294.1 205.6h0M293.7 209.7h0M280.5 224.3h0M287.4 216.6h0M289.0 211.6h0M289.3 219.6h0M279.7 219.7h0M283.0 212.1h0M281.2 219.0h0M296.4 213.0h0M283.0 222.8h0M284.3 225.2h0M292.9 201.8h0M283.1 221.3h0M279.8 221.2h0M278.9 228.5h0M284.6 213.2h0M275.6 224.9h0M290.5 220.1h0M289.2 216.4h0M288.6 221.5h0M297.0 219.4h0M280.6 215.6h0M288.7 219.2h0M287.1 217.6h0M280.2 220.1h0M277.0 221.7h0M295.9 218.1h0M280.0 215.4h0M296.5 217.6h0M281.7 221.7h0M282.7 213.8h0M285.1 220.4h0M290.9 210.4h0M291.8 214.8h0M274.3 225.8h0M289.4 219.2h0M288.6 212.8h0M287.0 209.8h0M281.0 231.0h0M292.8 217.5h0M286.9 217.9h0M287.6 218.2h0M279.6 218.0h0M274.6 217.1h0M283.5 220.2h0M295.7 207.2h0M295.1 213.0h0M282.2 218.5h0M295.5 209.8h0M282.4 221.3h0M289.2 218.6h0M285.0 222.6h0M279.4 227.0h0M281.9 220.7h0M279.7 216.8h0M289.4 219.3h0M283.4 222.3h0M300.8 201.9h0M273.9 222.2h0M275.6 225.6h0M280.2 219.5h0M280.1 229.1h0M292.2 208.0h0M287.8 215.8h0M291.9 217.5h0M280.6 217.3h0M284.6 226.1h0M284.9 215.6h0M282.4 222.8h0M282.8 226.9h0M288.9 217.6h0M284.9 216.5h0M272.3 227.3h0M292.1 215.0h0M285.8 211.5h0M283.4 219.4h0M284.0 218.6h0M289.5 220.0h0M288.4 214.3h0M281.8 219.0h0M276.2 214.0h0M286.1 217.8h0M284.8 223.6h0M273.4 223.4h0M283.2 212.5h0M287.8 223.8h0M276.8 220.7h0M289.3 217.0h0M282.1 223.5h0M275.6 220.7h0M281.1 218.9h0M278.0 221.0h0M290.7 218.4h0M277.8 217.8h0M280.5 212.5h0M288.2 219.4h0M283.5 225.4h0M288.1 214.4h0M284.6 217.5h0M284.4 224.4h0M290.9 211.8h0M294.5 207.8h0M283.0 230.0h0M287.9 222.7h0M285.1 220.4h0M281.1 226.1h0M283.4 216.1h0M276.8 230.8h0M276.8 215.8h0M286.9 217.7h0M293.3 218.5h0M286.1 214.1h0M287.2 210.8h0M280.5 225.9h0M285.8 212.5h0M281.2 218.6h0M286.0 218.7h0M288.6 203.2h0M288.1 208.4h0M282.1 219.6h0M289.8 213.8h0M277.6 216.5h0M285.7 229.1h0M278.1 217.8h0M280.8 224.7h0M287.3 216.7h0M286.0 225.2h0M283.0 213.5h0M284.6 212.5h0M285.6 222.0h0M282.6 223.2h0M290.6 225.1h0M282.6 221.6h0M288.6 220.9h0M289.3 219.1h0M288.0 221.5h0M287.0 220.3h0M285.9 217.6h0M275.2 220.8h0M284.6 215.7h0M282.2 224.9h0M283.1 208.2h0M281.8 218.6h0M290.8 217.9h0M287.1 215.0h0M281.6 211.8h0M287.7 217.5h0M280.8 219.7h0M290.1 221.0h0M288.5 222.5h0M285.7 218.0h0M284.5 220.6h0M275.8 222.3h0M284.7 214.2h0M281.6 224.6h0M282.5 218.5h0M292.1 211.6h0M284.3 216.5h0M281.8 218.3h0M287.3 216.3h0M289.3 220.4h0M279.0 220.3h0M283.6 212.6h0M275.4 225.8h0M286.0 223.6h0M292.4 219.6h0M286.4 223.7h0M283.8 216.7h0M289.4 219.9h0M281.9 217.2h0M278.0 230.0h0M282.6 216.6h0M281.4 216.9h0M285.1 218.4h0M288.5 205.6h0M285.2 225.9h0M284.7 215.5h0M294.6 212.9h0M288.0 218.4h0M283.7 213.9h0M285.3 219.0h0M293.7 208.6h0M276.6 223.3h0M276.9 207.5h0M282.8 224.1h0M275.2 214.2h0M292.0 212.0h0M280.0 218.9h0M292.6 215.0h0M288.4 216.4h0M279.0 221.2h0M275.3 225.8h0M276.3 221.4h0M273.6 221.1h0M286.5 214.3h0M294.3 215.4h0M286.7 210.9h0M281.9 220.2h0M288.2 219.9h0M277.4 213.6h0M278.8 225.2h0M275.6 215.3h0M285.0 217.9h0M284.1 214.6h0M286.2 217.3h0M283.5 219.6h0M283.3 217.8h0M290.1 219.9h0M284.8 218.8h0M291.3 210.1h0M274.7 221.4h0M275.7 216.0h0M285.5 218.9h0M282.7 215.3h0M277.0 217.2h0M280.3 219.4h0M289.1 215.5h0M275.7 225.9h0M304.1 224.9h0M283.9 218.8h0M285.5 213.0h0M300.5 219.5h0M312.7 232.7h0M283.6 215.3h0M267.9 222.2h0M294.1 219.0h0M288.0 226.3h0M279.8 221.7h0M286.1 235.4h0M297.4 221.3h0M276.9 220.9h0M279.7 219.1h0M293.6 229.2h0M301.5 217.1h0M291.6 221.9h0M301.6 230.1h0M292.3 226.7h0M287.5 221.8h0M292.6 211.8h0M284.8 229.4h0M297.9 223.9h0M296.0 215.4h0M307.4 204.3h0M285.2 215.7h0M283.8 224.2h0M290.7 230.7h0M312.3 226.7h0M278.2 222.4h0M280.1 215.4h0M284.5 230.5h0M279.8 225.1h0M280.3 229.9h0M303.3 209.8h0M298.3 214.8h0M293.4 221.5h0M299.6 211.4h0M312.3 225.3h0M281.7 233.3h0M305.7 226.9h0M283.4 215.4h0M278.7 236.3h0M290.1 222.1h0M285.1 232.9h0M285.1 229.8h0M268.0 215.5h0M293.4 214.0h0M312.4 204.6h0M294.1 227.0h0M294.8 221.8h0M292.7 217.0h0M289.2 238.0h0M289.2 231.9h0M305.8 217.5h0M312.5 209.4h0M283.4 221.7h0M286.3 227.6h0M288.0 227.5h0M279.7 208.7h0M311.3 224.6h0M294.2 212.3h0M294.9 221.9h0M295.3 223.4h0M302.0 234.5h0M285.2 219.1h0M298.2 209.8h0M280.9 219.2h0M286.2 220.5h0M275.3 227.1h0M284.0 212.1h0M293.5 235.7h0M271.6 222.1h0M315.5 220.7h0M280.9 236.3h0M292.2 230.5h0M309.2 228.0h0M271.4 212.5h0M286.8 217.1h0M287.4 206.1h0M270.1 228.6h0M287.1 226.1h0M284.8 222.2h0M271.3 237.8h0M302.0 210.8h0M284.0 225.5h0M284.4 222.0h0M292.0 206.4h0M298.4 226.5h0M277.8 220.8h0M288.3 220.1h0M290.0 209.2h0M290.2 226.0h0M294.1 226.3h0M282.6 223.6h0M301.0 223.1h0M292.1 223.0h0M295.8 211.3h0M288.7 229.8h0M278.7 227.3h0M283.9 218.7h0M276.0 214.5h0M303.5 209.8h0M291.1 210.6h0M313.6 228.6h0M279.9 212.5h0M286.1 225.4h0M309.4 235.1h0M277.7 224.5h0M300.5 216.2h0M283.8 230.5h0M272.9 222.7h0M288.6 219.9h0M289.7 208.2h0M299.3 218.5h0M306.4 215.4h0M286.3 232.9h0M280.7 219.4h0M275.4 216.2h0M280.7 224.7h0M292.5 219.2h0M273.1 224.5h0M296.8 222.0h0M305.9 218.5h0M299.5 224.8h0M305.2 236.6h0M275.5 206.7h0M301.8 225.2h0M293.5 218.6h0M280.5 232.9h0M295.1 217.7h0M290.0 225.0h0M273.8 216.9h0M295.5 223.7h0M272.9 225.2h0M313.2 227.8h0M273.6 218.4h0M282.0 215.7h0M279.5 217.4h0M288.4 211.6h0M300.5 225.3h0M312.7 229.8h0M300.9 227.0h0M288.1 213.1h0M297.4 223.3h0M281.6 226.0h0M293.4 216.9h0M306.8 218.3h0M291.0 231.8h0M283.2 219.8h0M294.9 219.6h0M283.4 212.7h0M292.2 219.2h0M299.3 231.3h0M289.2 229.2h0M281.0 236.4h0M282.8 221.4h0M285.0 218.2h0M298.9 222.5h0M278.9 229.2h0M289.9 227.5h0M292.0 218.6h0M267.9 219.9h0M278.9 233.0h0M286.9 235.3h0M316.9 232.6h0M317.9 214.5h0M283.5 213.5h0M273.5 211.4h0M300.1 215.6h0M285.6 227.5h0M284.6 236.0h0M303.7 228.8h0M309.3 227.2h0M291.7 232.1h0M301.9 210.9h0M302.7 231.4h0M291.4 234.8h0M275.5 224.4h0M281.2 215.3h0M292.8 210.1h0M289.2 228.6h0M280.6 213.2h0M296.2 230.5h0M300.4 218.0h0M284.7 234.5h0M299.9 225.4h0M292.2 221.2h0M296.8 228.7h0M290.0 225.0h0M273.0 221.4h0M308.4 224.5h0M273.2 218.7h0M290.6 235.1h0M314.9 222.3h0M287.7 223.8h0M276.4 234.1h0M275.3 229.0h0M284.1 213.7h0M293.4 237.1h0M275.1 224.5h0M281.3 231.9h0M272.0 211.7h0M284.9 211.5h0M301.1 209.8h0M290.2 218.4h0M301.2 218.1h0M287.2 237.3h0M297.2 233.5h0M306.4 227.0h0M293.2 208.2h0M269.0 219.1h0M292.9 232.3h0M280.3 219.9h0M314.2 213.1h0M287.3 221.8h0M281.2 235.6h0M270.6 220.2h0M269.6 216.6h0M307.9 205.4h0M269.6 222.8h0M293.7 216.4h0M294.7 221.0h0M284.8 223.5h0M304.0 212.5h0M299.7 225.1h0M287.0 216.4h0M293.5 229.6h0M278.3 229.0h0M289.9 229.9h0M292.7 221.0h0M292.0 228.3h0M272.2 222.8h0M283.8 222.9h0M301.3 230.7h0M273.0 230.1h0M310.5 212.3h0M326.1 237.3h0M289.3 208.5h0M295.9 213.6h0M317.1 208.0h0M297.4 217.7h0M317.4 217.5h0M274.7 204.0h0M293.5 216.7h0M292.2 229.0h0M288.6 222.0h0M274.0 203.7h0M292.9 227.4h0M287.2 236.5h0M272.0 207.3h0M282.2 210.8h0M274.5 209.4h0M327.1 214.6h0M321.4 234.9h0M294.6 230.6h0M313.0 225.7h0M302.8 224.6h0M272.1 225.6h0M304.3 234.3h0M314.3 220.6h0M304.9 213.2h0M281.8 209.0h0M303.7 213.8h0M281.0 228.8h0M322.0 207.9h0M327.4 215.8h0M293.5 227.2h0M322.9 233.0h0M318.9 224.9h0M305.8 203.7h0M300.2 205.5h0M322.7 213.3h0M306.4 205.5h0M317.4 210.2h0M271.2 213.9h0M308.8 224.1h0M285.1 217.9h0M268.0 209.8h0M273.7 236.9h0M279.1 226.3h0M306.9 206.2h0M314.4 231.5h0M313.9 206.9h0M271.3 226.4h0M325.9 228.7h0M268.5 226.7h0M273.8 210.5h0M291.9 227.7h0M288.6 212.5h0M312.7 215.5h0M290.3 206.5h0M284.4 229.9h0M268.3 221.7h0M285.1 226.3h0M282.3 220.2h0M307.2 236.1h0M275.8 221.1h0M305.1 204.2h0M275.6 211.1h0M292.6 203.5h0M280.5 219.0h0M315.9 237.1h0M322.2 206.8h0M273.1 223.2h0M299.1 207.8h0M298.3 236.0h0M296.7 219.0h0M287.8 225.3h0M326.0 224.0h0M288.5 227.7h0M300.2 224.7h0M292.0 206.8h0M313.9 214.3h0M271.4 216.3h0M280.6 228.3h0M268.8 232.6h0M303.3 207.0h0M312.1 217.6h0M303.8 213.8h0M276.6 215.1h0M303.4 237.9h0M308.0 221.0h0M313.1 229.8h0M290.6 205.0h0M320.8 208.5h0M277.6 214.1h0M310.0 218.3h0M292.7 208.9h0M314.9 229.2h0M305.7 234.8h0M269.7 232.1h0M314.7 220.1h0M290.6 237.9h0M315.7 236.6h0M269.7 229.5h0M284.2 204.7h0M317.5 234.6h0M315.4 222.4h0M302.2 206.7h0M308.0 213.4h0M317.5 206.3h0M279.3 212.7h0M299.9 214.3h0M290.6 220.7h0M276.6 197.4h0M268.6 196.1h0M304.0 197.2h0M268.5 197.2h0M322.6 195.3h0M283.8 201.2h0M318.8 200.9h0M295.8 193.2h0M274.5 198.6h0M276.7 199.0h0M275.9 196.2h0M306.9 198.8h0M286.4 198.1h0M322.1 200.3h0M272.5 193.0h0M269.1 199.2h0M305.9 191.0h0M326.4 196.4h0M322.3 192.9h0M308.2 202.6h0M309.7 194.1h0M324.5 194.6h0M291.5 196.8h0M284.6 201.9h0" fill="none" stroke="#000" stroke-width="0.85" stroke-linecap="square"/>
<line x1="266.3" y1="238.8" x2="328.8" y2="238.8" stroke="#333" stroke-width="0.8" />
<line x1="266.3" y1="190" x2="266.3" y2="238.8" stroke="#333" stroke-width="0.8" />
<line x1="270.20625" y1="239.3" x2="270.20625" y2="237.60000000000002" stroke="#000" stroke-width="0.5" />
<line x1="265.8" y1="193.05" x2="267.5" y2="193.05" stroke="#000" stroke-width="0.5" />
<line x1="274.1125" y1="239.3" x2="274.1125" y2="237.60000000000002" stroke="#000" stroke-width="0.7" />
<line x1="265.8" y1="196.1" x2="267.5" y2="196.1" stroke="#000" stroke-width="0.7" />
<line x1="278.01875" y1="239.3" x2="278.01875" y2="237.60000000000002" stroke="#000" stroke-width="0.5" />
<line x1="265.8" y1="199.15" x2="267.5" y2="199.15" stroke="#000" stroke-width="0.5" />
<line x1="281.925" y1="239.3" x2="281.925" y2="237.60000000000002" stroke="#000" stroke-width="0.7" />
<line x1="265.8" y1="202.2" x2="267.5" y2="202.2" stroke="#000" stroke-width="0.7" />
<line x1="285.83125" y1="239.3" x2="285.83125" y2="237.60000000000002" stroke="#000" stroke-width="0.5" />
<line x1="265.8" y1="205.25" x2="267.5" y2="205.25" stroke="#000" stroke-width="0.5" />
<line x1="289.7375" y1="239.3" x2="289.7375" y2="237.60000000000002" stroke="#000" stroke-width="0.7" />
<line x1="265.8" y1="208.3" x2="267.5" y2="208.3" stroke="#000" stroke-width="0.7" />
<line x1="293.64375" y1="239.3" x2="293.64375" y2="237.60000000000002" stroke="#000" stroke-width="0.5" />
<line x1="265.8" y1="211.35" x2="267.5" y2="211.35" stroke="#000" stroke-width="0.5" />
<line x1="297.55" y1="239.3" x2="297.55" y2="237.60000000000002" stroke="#000" stroke-width="0.7" />
<line x1="265.8" y1="214.4" x2="267.5" y2="214.4" stroke="#000" stroke-width="0.7" />
<line x1="301.45625" y1="239.3" x2="301.45625" y2="237.60000000000002" stroke="#000" stroke-width="0.5" />
<line x1="265.8" y1="217.45000000000002" x2="267.5" y2="217.45000000000002" stroke="#000" stroke-width="0.5" />
<line x1="305.3625" y1="239.3" x2="305.3625" y2="237.60000000000002" stroke="#000" stroke-width="0.7" />
<line x1="265.8" y1="220.5" x2="267.5" y2="220.5" stroke="#000" stroke-width="0.7" />
<line x1="309.26875" y1="239.3" x2="309.26875" y2="237.60000000000002" stroke="#000" stroke-width="0.5" />
<line x1="265.8" y1="223.55" x2="267.5" y2="223.55" stroke="#000" stroke-width="0.5" />
<line x1="313.175" y1="239.3" x2="313.175" y2="237.60000000000002" stroke="#000" stroke-width="0.7" />
<line x1="265.8" y1="226.60000000000002" x2="267.5" y2="226.60000000000002" stroke="#000" stroke-width="0.7" />
<line x1="317.08125" y1="239.3" x2="317.08125" y2="237.60000000000002" stroke="#000" stroke-width="0.5" />
<line x1="265.8" y1="229.65" x2="267.5" y2="229.65" stroke="#000" stroke-width="0.5" />
<line x1="320.9875" y1="239.3" x2="320.9875" y2="237.60000000000002" stroke="#000" stroke-width="0.7" />
<line x1="265.8" y1="232.70000000000002" x2="267.5" y2="232.70000000000002" stroke="#000" stroke-width="0.7" />
<line x1="324.89375" y1="239.3" x2="324.89375" y2="237.60000000000002" stroke="#000" stroke-width="0.5" />
<line x1="265.8" y1="235.75" x2="267.5" y2="235.75" stroke="#000" stroke-width="0.5" />
<rect x="278" y="195.5" width="44.5" height="11.5" fill="none" stroke="#000" stroke-width="1.1"/>
<path d="M306.3,195.5 V227.5 H322.5 V207" fill="none" stroke="#000" stroke-width="1.1"/>
<rect x="267.2" y="197.9" width="9.5" height="6.6" fill="#fff"/>
<text x="267.9" y="203.6" font-size="6.5" font-weight="bold" text-anchor="start" font-family='"Liberation Sans", sans-serif' fill="#000" >R1</text>
<text x="330.5" y="204.3" font-size="6.7" font-weight="bold" text-anchor="start" font-family='"Liberation Sans", sans-serif' fill="#000" >R2</text>
<text x="330.5" y="217.3" font-size="6.7" font-weight="bold" text-anchor="start" font-family='"Liberation Sans", sans-serif' fill="#000" >R3</text>
<rect x="266.3" y="272" width="63.19999999999999" height="48" fill="#fff" stroke="#888" stroke-width="0.7"/>
<path d="M285.2 305.6h0M283.6 315.7h0M288.9 302.6h0M287.0 290.9h0M293.7 302.8h0M293.2 297.4h0M294.6 298.2h0M287.6 317.8h0M285.0 305.4h0M286.7 305.5h0M288.2 303.3h0M289.6 301.0h0M294.0 307.2h0M281.8 302.6h0M285.8 311.2h0M277.8 314.5h0M277.7 303.1h0M283.2 303.4h0M291.3 309.5h0M286.9 303.3h0M282.6 313.6h0M279.7 302.3h0M290.9 315.6h0M285.9 307.8h0M284.4 306.8h0M276.9 311.7h0M284.8 308.1h0M286.8 298.3h0M279.7 300.1h0M287.2 309.3h0M293.0 309.4h0M297.7 308.2h0M296.4 307.3h0M289.0 292.7h0M292.3 302.3h0M285.5 296.3h0M293.7 302.7h0M285.3 299.9h0M287.0 307.6h0M290.4 304.4h0M288.5 304.6h0M285.3 312.7h0M286.8 300.9h0M296.0 295.9h0M285.2 305.9h0M286.6 304.2h0M292.2 309.8h0M280.8 318.7h0M281.6 299.4h0M290.8 296.9h0M281.5 311.7h0M289.9 306.3h0M294.4 309.4h0M285.1 302.1h0M289.5 301.2h0M288.7 309.9h0M288.7 294.9h0M295.6 301.8h0M289.2 293.2h0M287.2 296.1h0M295.3 299.2h0M280.6 305.6h0M282.8 306.2h0M282.8 294.5h0M286.5 302.8h0M283.4 310.1h0M291.6 302.7h0M287.0 307.0h0M292.0 304.4h0M281.9 310.3h0M299.2 305.4h0M289.0 300.4h0M279.8 310.0h0M290.3 306.7h0M288.2 312.7h0M286.9 292.3h0M286.7 305.8h0M291.3 307.2h0M290.9 306.6h0M288.9 296.4h0M285.8 311.6h0M295.6 284.7h0M286.7 301.9h0M291.7 290.4h0M284.6 306.5h0M283.4 294.2h0M296.7 300.3h0M287.7 308.5h0M296.9 297.2h0M286.7 302.5h0M292.1 309.3h0M295.3 299.4h0M281.4 302.0h0M277.9 309.5h0M277.2 310.2h0M282.2 308.8h0M294.8 301.7h0M286.7 305.0h0M284.3 307.7h0M286.1 305.9h0M283.3 309.1h0M289.1 298.4h0M287.0 295.4h0M280.3 299.2h0M289.4 301.3h0M287.2 306.4h0M286.0 303.7h0M283.3 309.6h0M286.2 316.7h0M281.7 305.5h0M289.3 300.8h0M298.0 303.2h0M289.4 292.9h0M289.5 296.0h0M290.2 306.2h0M286.8 301.0h0M283.3 301.4h0M295.1 297.1h0M285.8 307.6h0M280.6 303.6h0M293.0 304.6h0M290.1 308.4h0M287.2 289.0h0M291.1 307.2h0M275.5 306.4h0M294.4 294.9h0M292.1 312.7h0M286.8 302.9h0M282.3 310.1h0M288.6 307.8h0M287.1 304.9h0M284.4 312.4h0M286.6 312.9h0M291.8 298.4h0M281.8 312.9h0M289.3 301.6h0M292.5 289.8h0M290.2 301.4h0M291.0 299.7h0M285.0 309.6h0M289.2 294.5h0M290.0 308.4h0M279.2 300.5h0M281.7 299.6h0M283.9 317.9h0M282.4 299.7h0M286.1 313.5h0M285.3 311.3h0M292.5 300.3h0M289.3 310.5h0M288.5 314.8h0M289.3 314.4h0M282.4 307.4h0M275.4 298.5h0M284.6 302.6h0M286.2 308.2h0M280.1 295.3h0M291.1 305.4h0M292.0 308.7h0M288.9 300.6h0M289.8 297.7h0M280.8 304.1h0M298.4 295.1h0M294.0 301.5h0M295.9 298.8h0M281.5 301.9h0M286.3 308.4h0M283.7 306.8h0M299.0 301.4h0M283.6 305.5h0M285.6 306.7h0M283.3 303.6h0M291.0 303.5h0M277.7 314.7h0M289.2 316.6h0M283.1 308.0h0M282.8 310.9h0M284.5 313.8h0M287.8 290.0h0M281.7 310.4h0M291.0 310.1h0M289.8 300.8h0M287.9 304.6h0M287.4 311.1h0M282.7 303.8h0M293.9 301.8h0M290.0 300.2h0M287.6 312.9h0M295.3 302.5h0M284.1 315.2h0M277.9 305.9h0M290.9 319.0h0M292.5 302.1h0M287.0 304.2h0M282.6 303.1h0M288.9 292.9h0M283.3 286.1h0M292.0 303.9h0M279.0 297.0h0M283.8 316.3h0M289.7 296.5h0M284.8 294.4h0M282.5 294.5h0M296.2 306.6h0M293.7 305.6h0M283.6 312.0h0M289.7 299.1h0M279.1 306.5h0M281.2 304.2h0M277.1 295.2h0M292.1 306.7h0M288.0 302.5h0M288.2 297.9h0M291.1 313.8h0M284.2 295.1h0M287.3 293.1h0M297.2 301.0h0M289.4 305.0h0M284.7 300.2h0M281.9 319.1h0M287.6 311.5h0M294.8 300.4h0M284.7 302.5h0M289.1 297.3h0M292.1 301.4h0M283.4 310.1h0M294.4 296.5h0M286.3 303.5h0M289.9 308.9h0M286.7 298.4h0M284.3 311.1h0M296.5 303.0h0M293.0 297.9h0M280.9 300.1h0M302.1 308.5h0M282.3 300.7h0M285.4 296.3h0M290.2 296.3h0M286.1 308.6h0M286.0 311.3h0M284.6 312.9h0M283.9 301.4h0M279.9 308.7h0M290.7 303.5h0M294.5 306.6h0M289.0 292.9h0M286.4 307.0h0M281.3 315.8h0M288.9 313.9h0M281.0 318.1h0M294.2 303.4h0M285.5 315.7h0M282.3 304.3h0M292.9 302.2h0M283.2 297.8h0M284.8 313.5h0M301.1 293.9h0M281.1 310.3h0M286.4 301.8h0M286.5 313.5h0M291.2 298.2h0M289.8 295.4h0M292.9 289.1h0M285.1 311.1h0M295.9 305.4h0M277.3 305.8h0M292.0 307.4h0M289.2 300.0h0M277.5 303.9h0M288.1 299.7h0M282.9 308.2h0M285.6 306.0h0M292.7 298.0h0M292.3 295.4h0M291.7 305.8h0M289.8 308.5h0M288.4 292.4h0M295.8 303.4h0M288.3 304.4h0M289.3 302.3h0M280.5 298.3h0M296.3 306.0h0M281.8 316.7h0M288.7 296.5h0M283.3 301.0h0M293.1 307.8h0M286.0 303.1h0M283.7 306.1h0M282.0 311.8h0M286.8 310.9h0M295.2 304.2h0M291.7 282.5h0M282.6 307.4h0M282.9 312.9h0M285.6 303.6h0M276.6 312.0h0M284.7 313.9h0M289.9 303.3h0M291.7 301.3h0M283.1 305.2h0M286.1 312.0h0M283.8 298.1h0M294.2 308.5h0M285.5 305.7h0M279.1 317.9h0M284.6 290.5h0M286.7 308.0h0M290.6 305.1h0M288.5 302.9h0M286.9 302.9h0M299.9 301.3h0M288.0 290.2h0M287.1 308.2h0M290.9 292.8h0M287.0 315.2h0M286.3 303.3h0M290.3 302.9h0M284.6 300.7h0M278.6 308.1h0M290.2 307.6h0M283.5 308.3h0M282.0 294.8h0M290.5 294.8h0M280.2 304.2h0M285.6 315.3h0M292.6 317.1h0M288.2 293.0h0M280.8 308.0h0M280.4 309.3h0M292.6 306.9h0M278.7 314.4h0M296.1 308.9h0M299.3 295.5h0M286.7 310.3h0M292.4 313.1h0M286.6 299.9h0M286.3 299.8h0M287.8 301.9h0M291.3 298.5h0M292.0 297.8h0M293.6 310.9h0M287.2 302.9h0M289.1 306.9h0M282.1 310.6h0M277.9 299.0h0M281.2 307.4h0M283.1 289.5h0M292.8 298.9h0M285.7 307.1h0M289.1 307.9h0M280.8 308.3h0M292.3 308.1h0M294.8 292.4h0M293.5 292.8h0M281.6 307.3h0M299.2 309.2h0M286.7 305.2h0M292.9 294.4h0M285.6 300.8h0M293.4 306.5h0M289.0 312.3h0M286.1 298.5h0M292.0 290.6h0M288.8 303.9h0M279.2 308.0h0M283.0 314.9h0M291.3 309.4h0M292.4 303.0h0M293.0 307.0h0M290.3 310.9h0M297.4 290.1h0M285.0 295.0h0M281.0 310.9h0M282.5 304.3h0M284.5 311.9h0M295.6 302.9h0M283.9 301.5h0M286.4 293.6h0M281.2 307.4h0M288.6 305.2h0M289.1 298.9h0M286.8 297.7h0M288.6 290.4h0M290.0 305.3h0M285.3 306.0h0M292.6 303.4h0M297.2 309.9h0M288.0 302.9h0M281.4 298.7h0M288.4 304.9h0M289.2 315.3h0M289.5 306.5h0M286.3 297.3h0M285.1 304.4h0M291.0 308.1h0M282.3 305.1h0M291.2 293.6h0M286.2 294.9h0M283.9 313.2h0M289.3 318.7h0M282.2 312.1h0M286.6 293.8h0M288.4 305.7h0M286.1 313.0h0M285.9 309.9h0M287.4 300.8h0M289.4 311.1h0M294.7 310.5h0M278.9 297.7h0M286.1 312.9h0M277.9 308.0h0M281.5 311.4h0M292.7 301.1h0M294.3 307.6h0M286.7 314.5h0M298.2 300.9h0M288.7 306.3h0M291.6 300.5h0M286.4 312.8h0M286.9 313.6h0M288.9 315.7h0M294.9 294.5h0M291.0 301.8h0M284.5 311.2h0M292.8 306.5h0M293.0 314.0h0M289.3 308.2h0M290.0 314.0h0M283.2 305.2h0M281.5 302.4h0M289.3 301.6h0M283.8 303.9h0M293.2 317.0h0M288.2 299.3h0M288.5 300.0h0M289.2 308.7h0M297.3 296.7h0M286.9 299.0h0M293.0 296.5h0M294.1 315.0h0M279.0 314.3h0M299.1 302.0h0M287.3 318.4h0M286.5 304.2h0M283.0 310.2h0M294.2 297.4h0M291.7 306.8h0M295.5 301.7h0M283.7 307.2h0M289.9 302.1h0M282.9 310.2h0M279.6 298.9h0M287.0 295.5h0M290.1 292.8h0M286.6 307.7h0M294.4 296.9h0M289.0 312.3h0M283.5 308.2h0M293.3 310.6h0M287.3 307.1h0M284.0 309.3h0M289.7 300.4h0M299.6 305.6h0M283.4 306.0h0M290.1 296.8h0M283.1 310.9h0M287.2 304.2h0M292.8 301.3h0M280.1 299.0h0M286.8 303.5h0M285.7 299.1h0M278.8 305.3h0M289.7 305.9h0M281.7 302.0h0M288.4 287.9h0M291.1 302.9h0M303.5 299.5h0M287.1 304.8h0M286.4 300.3h0M293.1 305.3h0M289.2 302.3h0M278.0 304.0h0M276.3 303.4h0M289.4 302.3h0M288.0 315.3h0M290.4 310.6h0M285.9 302.8h0M280.5 316.6h0M293.3 302.5h0M289.9 305.6h0M294.4 306.1h0M287.1 297.5h0M275.2 292.0h0M286.3 313.1h0M284.0 303.9h0M290.7 314.7h0M275.7 306.9h0M285.1 310.8h0M285.6 293.2h0M275.6 296.4h0M285.4 297.8h0M279.9 304.5h0M293.6 302.8h0M277.3 307.5h0M287.4 313.8h0M283.4 295.1h0M285.5 297.4h0M288.5 308.7h0M287.1 304.2h0M281.3 296.7h0M289.0 313.7h0M282.4 291.3h0M287.2 306.4h0M283.2 292.7h0M294.3 289.5h0M290.0 309.5h0M294.1 302.2h0M292.2 301.4h0M291.2 312.6h0M287.3 292.6h0M289.6 283.2h0M294.5 298.2h0M284.7 312.1h0M291.9 306.6h0M284.5 310.2h0M288.2 301.8h0M283.4 308.9h0M283.6 314.5h0M278.3 300.1h0M288.4 292.5h0M296.9 292.2h0M284.3 302.5h0M288.3 313.8h0M285.3 301.5h0M294.0 302.5h0M291.4 303.7h0M284.8 300.9h0M282.4 300.4h0M288.3 303.9h0M291.4 304.1h0M289.5 297.9h0M279.1 313.7h0M296.5 299.9h0M291.8 297.1h0M282.8 308.4h0M291.8 307.2h0M293.1 303.5h0M286.7 305.3h0M282.9 303.2h0M279.0 298.7h0M291.4 299.6h0M275.8 299.8h0M291.4 302.8h0M287.0 308.6h0M293.3 300.7h0M288.7 317.8h0M290.5 299.8h0M283.2 302.4h0M293.3 288.6h0M290.6 300.6h0M290.7 304.8h0M279.4 303.3h0M277.3 306.2h0M283.5 311.8h0M278.1 309.0h0M282.5 302.4h0M286.2 305.3h0M299.1 289.2h0M286.9 298.2h0M286.0 302.0h0M290.0 308.8h0M287.8 312.4h0M285.8 296.1h0M278.7 312.7h0M285.6 308.2h0M291.1 297.1h0M294.0 307.7h0M295.8 307.0h0M281.6 310.0h0M288.1 294.4h0M291.9 301.4h0M289.5 315.1h0M294.1 299.7h0M291.2 310.5h0M288.2 311.7h0M290.4 300.5h0M294.6 300.8h0M285.0 302.5h0M278.3 314.3h0M281.3 293.6h0M289.1 288.9h0M286.0 310.0h0M289.2 306.5h0M286.0 298.3h0M288.9 309.4h0M287.1 311.2h0M275.1 301.6h0M274.0 305.2h0M288.3 295.4h0M284.6 304.6h0M283.3 304.0h0M292.3 303.1h0M292.8 306.0h0M284.8 305.7h0M292.1 299.2h0M284.1 313.8h0M291.7 307.7h0M284.7 303.9h0M289.4 306.7h0M291.9 295.6h0M292.0 296.3h0M282.5 302.5h0M284.7 312.4h0M293.6 317.3h0M283.9 306.5h0M294.1 290.7h0M291.5 316.3h0M292.4 298.0h0M287.0 305.6h0M284.0 298.3h0M293.3 296.8h0M292.9 295.5h0M283.4 289.8h0M284.2 302.7h0M291.8 293.3h0M287.4 312.2h0M291.6 313.5h0M286.8 294.2h0M287.5 308.1h0M282.2 303.7h0M284.1 299.9h0M286.5 300.3h0M287.7 300.8h0M281.1 301.4h0M277.7 318.8h0M294.5 301.7h0M288.5 308.9h0M289.1 297.8h0M283.0 311.3h0M286.1 307.7h0M285.4 311.1h0M286.7 306.3h0M290.4 289.7h0M292.1 312.3h0M285.0 293.9h0M289.4 297.8h0M282.4 316.6h0M286.9 297.1h0M280.9 309.0h0M289.2 306.7h0M281.7 301.3h0M287.3 301.7h0M287.8 302.0h0M287.2 305.8h0M290.7 312.4h0M287.2 290.4h0M294.7 291.9h0M288.7 312.3h0M290.6 312.7h0M290.2 292.3h0M291.1 301.2h0M293.0 298.0h0M291.8 294.3h0M286.0 304.1h0M293.2 297.2h0M289.1 311.7h0M278.3 317.7h0M287.0 306.0h0M297.3 301.3h0M291.1 312.1h0M294.9 310.8h0M284.4 307.9h0M280.2 298.0h0M285.9 302.7h0M284.6 299.9h0M296.1 292.9h0M290.1 294.9h0M289.1 298.1h0M278.8 292.8h0M293.4 311.3h0M286.0 303.6h0M289.2 293.2h0M285.2 293.6h0M284.5 305.3h0M285.8 316.9h0M290.6 299.5h0M288.6 301.0h0M283.5 316.1h0M286.6 300.6h0M294.7 300.4h0M292.5 284.6h0M291.0 295.6h0M285.5 311.2h0M296.4 285.9h0M294.2 300.4h0M285.0 312.3h0M286.8 300.6h0M286.3 303.1h0M284.9 312.7h0M295.8 295.7h0M284.1 304.4h0M283.5 306.2h0M288.2 304.1h0M283.7 307.5h0M281.0 303.5h0M286.7 304.9h0M291.7 301.9h0M282.4 308.7h0M286.7 310.0h0M295.8 312.7h0M287.3 297.6h0M288.6 302.7h0M283.6 294.8h0M293.2 295.9h0M292.6 310.3h0M282.7 308.5h0M287.0 294.4h0M284.2 306.2h0M292.3 298.0h0M286.4 311.9h0M285.4 300.2h0M279.7 309.5h0M283.8 298.6h0M285.1 299.8h0M302.1 296.4h0M291.3 294.4h0M291.7 305.6h0M282.6 298.1h0M272.9 292.2h0M283.8 304.9h0M291.3 302.7h0M283.5 298.7h0M295.6 298.9h0M296.2 301.2h0M285.5 302.3h0M289.9 309.2h0M285.5 308.4h0M280.9 294.7h0M279.3 303.3h0M284.0 310.2h0M285.6 301.9h0M285.8 294.6h0M290.3 293.5h0M281.2 308.6h0M276.3 291.4h0M285.0 301.0h0M291.3 295.8h0M280.9 309.2h0M282.5 306.7h0M277.8 304.4h0M296.5 291.8h0M287.1 303.6h0M288.0 303.1h0M291.1 298.6h0M282.6 307.0h0M288.5 291.4h0M291.1 300.6h0M292.3 303.0h0M281.1 303.5h0M290.8 310.6h0M286.5 309.1h0M294.0 304.5h0M294.6 306.9h0M282.6 297.0h0M283.2 317.5h0M293.3 296.4h0M287.2 318.8h0M283.3 305.6h0M285.6 310.8h0M277.9 309.4h0M288.3 312.1h0M289.5 306.5h0M282.6 307.7h0M284.8 317.7h0M289.0 304.2h0M288.2 304.7h0M285.4 309.5h0M287.3 298.2h0M291.9 308.4h0M293.1 300.0h0M292.1 313.7h0M290.7 306.3h0M287.2 293.6h0M282.3 305.4h0M292.7 306.7h0M284.7 306.7h0M286.9 299.5h0M287.3 310.5h0M281.7 303.2h0M287.2 297.4h0M282.8 308.9h0M298.2 302.0h0M284.8 316.3h0M288.2 291.1h0M284.7 291.8h0M285.8 315.1h0M292.4 300.8h0M284.2 302.6h0M282.0 299.5h0M289.2 304.9h0M288.4 303.1h0M280.0 310.5h0M287.5 310.1h0M288.2 297.3h0M292.2 308.7h0M286.2 309.9h0M289.7 300.6h0M288.6 298.9h0M294.2 299.5h0M292.3 315.7h0M287.8 309.1h0M294.8 289.4h0M298.2 305.8h0M281.4 307.4h0M298.2 302.3h0M294.4 310.0h0M284.3 308.0h0M296.2 296.7h0M288.0 300.6h0M284.8 304.0h0M276.8 303.1h0M278.9 300.3h0M284.6 312.6h0M282.0 312.2h0M285.4 299.8h0M279.0 308.0h0M287.1 310.2h0M284.4 291.1h0M290.2 313.2h0M287.6 305.5h0M290.0 305.7h0M300.4 300.3h0M290.0 310.2h0M290.2 292.0h0M289.5 301.8h0M282.5 312.5h0M284.2 308.4h0M284.0 309.8h0M294.2 296.9h0M283.5 312.2h0M283.0 313.2h0M289.4 297.8h0M284.7 314.6h0M291.7 304.5h0M288.6 311.9h0M284.4 307.9h0M289.8 313.3h0M285.7 303.9h0M288.8 302.8h0M286.2 308.9h0M285.1 303.5h0M288.8 305.2h0M285.6 304.6h0M281.5 301.2h0M283.9 298.1h0M295.0 317.2h0M286.3 304.4h0M286.8 302.4h0M284.7 311.8h0M290.1 295.0h0M288.5 298.7h0M290.6 298.5h0M289.0 299.2h0M286.5 307.5h0M290.9 294.2h0M284.7 299.8h0M279.0 308.7h0M286.4 302.9h0M283.4 318.1h0M283.1 287.8h0M285.7 307.2h0M282.1 305.3h0M276.0 306.1h0M287.8 298.1h0M282.0 298.9h0M284.8 312.7h0M288.0 300.2h0M285.0 310.7h0M284.1 299.4h0M291.3 303.5h0M294.0 301.1h0M285.9 308.0h0M288.4 304.6h0M282.7 301.3h0M283.6 302.3h0M293.8 296.6h0M289.7 307.0h0M279.7 313.8h0M288.6 306.9h0M288.4 311.2h0M289.4 299.6h0M284.3 299.6h0M283.5 299.8h0M288.6 311.0h0M286.4 312.0h0M293.0 307.8h0M279.3 289.1h0M292.8 306.5h0M280.5 301.5h0M288.6 304.2h0M281.0 306.0h0M280.1 304.9h0M290.5 305.6h0M284.5 309.7h0M297.1 299.9h0M288.1 294.5h0M291.4 292.4h0M286.3 311.2h0M290.4 281.2h0M283.4 289.0h0M286.0 294.9h0M298.6 309.6h0M282.5 303.8h0M287.7 311.2h0M294.4 307.2h0M281.1 284.5h0M279.7 298.7h0M291.3 294.3h0M293.8 308.2h0M287.8 310.2h0M283.9 312.8h0M287.9 300.3h0M283.5 291.2h0M285.8 308.7h0M285.4 301.9h0M280.7 315.0h0M287.3 304.4h0M283.3 303.9h0M288.9 307.0h0M284.6 301.6h0M290.7 314.0h0M285.3 308.7h0M291.1 306.0h0M282.8 306.0h0M287.9 296.7h0M287.7 304.4h0M283.9 316.9h0M289.0 298.2h0M293.4 300.8h0M282.4 297.6h0M292.8 294.8h0M289.1 307.3h0M284.6 310.5h0M292.6 302.6h0M287.5 309.1h0M287.8 313.5h0M291.3 304.1h0M288.6 301.5h0M290.8 298.5h0M287.3 295.8h0M299.4 303.2h0M287.7 307.7h0M279.1 316.9h0M279.2 311.2h0M285.5 310.3h0M290.7 305.4h0M292.5 300.9h0M288.7 302.0h0M284.0 297.9h0M289.3 315.9h0M283.2 302.3h0M284.0 308.2h0M277.5 308.4h0M283.8 298.5h0M288.7 305.5h0M288.9 312.6h0M280.4 314.2h0M294.4 306.1h0M277.7 309.0h0M295.1 308.1h0M287.1 296.0h0M287.7 294.2h0M283.5 302.8h0M289.5 299.5h0M287.1 304.4h0M288.8 308.4h0M289.9 301.8h0M288.3 299.9h0M281.4 302.2h0M287.4 290.4h0M291.4 305.9h0M279.6 299.5h0M283.0 289.8h0M278.7 309.9h0M294.5 313.4h0M290.0 311.9h0M294.1 295.8h0M295.4 296.7h0M285.7 286.6h0M285.8 292.9h0M298.9 303.9h0M291.9 299.8h0M292.2 307.0h0M285.5 308.8h0M285.3 296.0h0M277.2 295.9h0M290.4 317.4h0M285.1 300.8h0M294.1 301.5h0M289.2 304.1h0M275.1 298.3h0M289.0 304.7h0M286.0 295.4h0M288.1 302.2h0M282.4 304.2h0M293.0 296.5h0M291.5 292.3h0M275.5 302.2h0M297.2 306.9h0M283.9 308.3h0M276.8 306.0h0M282.5 296.9h0M285.4 299.3h0M289.1 295.0h0M289.4 307.1h0M291.6 307.8h0M291.0 310.9h0M293.9 310.2h0M293.5 293.4h0M286.1 315.2h0M284.4 310.6h0M292.9 312.5h0M284.4 307.0h0M286.8 309.2h0M277.7 306.6h0M293.4 302.7h0M292.6 313.1h0M288.2 301.3h0M284.6 296.7h0M285.2 303.7h0M292.4 298.2h0M283.9 305.0h0M286.3 313.8h0M287.6 314.5h0M287.9 285.7h0M286.5 296.8h0M287.5 297.8h0M292.1 301.1h0M285.8 301.6h0M285.7 310.2h0M288.7 304.3h0M293.4 298.5h0M291.2 309.3h0M289.1 300.4h0M286.8 312.6h0M273.6 319.1h0M282.7 312.5h0M290.2 306.7h0M290.2 300.3h0M295.8 302.5h0M291.7 301.8h0M285.8 312.6h0M282.5 305.6h0M283.2 294.2h0M292.5 303.2h0M278.1 306.6h0M299.4 308.7h0M286.4 307.4h0M286.1 306.5h0M286.8 306.0h0M285.1 311.2h0M281.4 293.9h0M278.9 302.0h0M288.1 308.3h0M291.5 292.4h0M279.5 311.1h0M296.6 306.4h0M286.8 312.0h0M295.9 309.2h0M288.6 302.0h0M284.7 302.1h0M281.3 308.7h0M292.8 300.9h0M291.5 308.1h0M286.9 304.3h0M295.1 297.0h0M284.0 302.5h0M283.6 309.6h0M290.6 301.6h0M290.8 290.8h0M291.5 285.4h0M296.9 282.3h0M283.5 289.0h0M297.2 280.8h0M281.4 290.8h0M285.8 288.8h0M282.5 285.5h0M296.3 280.5h0M287.0 284.4h0M297.1 283.7h0M282.3 288.4h0M288.7 288.0h0M282.4 286.9h0M294.7 284.3h0M294.6 285.5h0M300.8 285.5h0M292.1 284.3h0M286.9 288.5h0M282.0 285.9h0M280.1 288.2h0M296.0 282.6h0M280.8 292.6h0M291.3 283.3h0M283.4 289.3h0M292.1 282.7h0M282.7 288.1h0M298.0 280.3h0M288.7 288.2h0M293.9 284.7h0M300.6 280.5h0M296.2 278.9h0M281.4 289.6h0M300.9 285.0h0M291.2 287.8h0M295.2 286.7h0M292.6 282.9h0M275.9 286.4h0M294.0 287.7h0M283.8 288.9h0M288.6 285.7h0M294.5 284.3h0M293.9 285.3h0M286.7 285.7h0M290.8 292.1h0M298.5 281.0h0M296.2 281.8h0M302.5 280.8h0M305.0 276.0h0M299.1 285.6h0M286.7 288.7h0M286.1 290.2h0M298.7 284.4h0M285.9 285.6h0M298.6 279.3h0M288.2 285.7h0M295.9 281.8h0M292.7 286.0h0M290.4 286.2h0M292.0 284.8h0M287.0 287.3h0M297.5 286.6h0M290.9 286.8h0M294.8 286.0h0M286.5 287.0h0M298.7 288.2h0M284.9 282.3h0M298.0 286.9h0M295.9 280.0h0M282.8 290.0h0M287.2 285.7h0M288.0 287.9h0M299.7 282.5h0M296.5 284.9h0M284.7 286.6h0M290.5 285.3h0M291.2 285.8h0M299.0 283.1h0M303.0 282.5h0M290.3 281.0h0M291.9 284.2h0M292.2 285.6h0M296.6 280.4h0M302.0 282.3h0M299.1 283.1h0M288.8 284.2h0M290.4 287.4h0M286.4 286.7h0M289.5 282.5h0M292.9 283.2h0M298.7 284.7h0M297.2 286.8h0M297.4 280.7h0M286.5 288.7h0M294.6 287.0h0M299.9 280.5h0M287.8 280.6h0M297.3 285.3h0M293.3 285.3h0M293.5 283.3h0M295.8 282.9h0M285.2 286.1h0M289.1 285.1h0M300.2 281.2h0M299.9 284.5h0M295.7 283.6h0M294.0 284.6h0M285.9 288.8h0M290.1 282.5h0M288.2 287.4h0M290.7 284.5h0M294.3 282.4h0M294.2 281.7h0M294.3 287.2h0M285.7 292.0h0M294.4 282.1h0M292.8 286.0h0M295.0 284.3h0M293.7 285.4h0M296.8 281.7h0M285.0 284.7h0M301.8 283.2h0M283.2 290.3h0M288.8 288.4h0M297.9 280.7h0M295.2 280.7h0M283.9 285.4h0M282.1 285.9h0M291.6 279.4h0M304.4 280.1h0M284.7 283.7h0M290.3 285.4h0M288.3 286.7h0M292.5 279.7h0M297.7 283.5h0M281.1 287.1h0M296.4 283.9h0M285.8 288.5h0M293.7 285.6h0M285.2 292.3h0M297.7 284.8h0M288.5 285.0h0M277.7 286.1h0M297.3 281.9h0M283.6 285.7h0M293.6 281.6h0M299.4 289.1h0M299.3 279.7h0M300.4 282.6h0M294.9 282.5h0M299.1 281.3h0M293.6 280.4h0M291.3 287.3h0M289.7 285.8h0M294.9 285.3h0M286.0 287.5h0M287.1 285.9h0M288.5 287.2h0M291.3 286.3h0M288.1 284.3h0M294.1 279.6h0M297.0 280.1h0M289.7 285.8h0M286.2 289.1h0M302.5 280.8h0M300.4 284.8h0M284.3 284.6h0M284.6 287.2h0M283.2 289.8h0M283.2 287.9h0M296.5 285.1h0M300.4 283.2h0M285.2 283.6h0M286.8 285.7h0M286.5 289.4h0M299.7 284.3h0M293.5 283.4h0M292.2 290.4h0M294.4 283.2h0M292.2 286.0h0M296.5 284.0h0M287.2 287.2h0M288.3 286.8h0M294.9 279.2h0M289.6 286.4h0M294.3 286.1h0M284.2 286.6h0M292.0 282.7h0M287.1 285.0h0M294.3 283.0h0M283.9 288.4h0M294.4 286.4h0M287.6 289.4h0M299.5 281.3h0M294.1 284.1h0M302.2 278.6h0M293.2 285.1h0M289.6 289.4h0M292.5 285.6h0M292.2 284.0h0M300.0 284.0h0M286.4 286.5h0M285.3 285.2h0M287.2 285.7h0M293.1 288.3h0M286.0 284.6h0M291.5 283.5h0M296.6 282.7h0M279.9 287.7h0M295.9 281.2h0M291.5 284.3h0M297.8 284.3h0M286.4 285.7h0M293.8 281.9h0M294.3 282.3h0M293.5 290.0h0M286.4 283.4h0M290.0 285.8h0M289.4 287.3h0M293.8 283.1h0M299.0 280.7h0M298.0 282.8h0M290.4 283.5h0M293.3 288.3h0M287.7 288.5h0M283.7 286.8h0M287.4 288.3h0M282.9 285.0h0M289.9 286.5h0M285.4 287.6h0M293.8 280.1h0M300.5 280.8h0M299.2 280.8h0M286.7 283.1h0M296.1 284.8h0M290.2 282.5h0M299.2 282.3h0M296.1 286.8h0M298.3 280.6h0M297.8 283.9h0M285.1 286.8h0M297.3 281.5h0M288.4 284.8h0M287.7 283.6h0M296.9 288.2h0M288.9 285.9h0M287.9 286.5h0M301.4 285.4h0M290.7 285.1h0M292.1 284.4h0M295.7 285.4h0M283.3 287.0h0M301.1 281.9h0M303.2 282.3h0M297.7 280.1h0M287.7 283.5h0M287.6 287.4h0M299.4 285.6h0M289.5 285.9h0M288.1 287.8h0M284.2 290.5h0M293.5 285.9h0M290.8 285.9h0M292.2 284.2h0M284.2 290.4h0M289.7 285.8h0M300.0 279.3h0M299.5 283.7h0M300.4 281.8h0M297.0 285.7h0M292.3 281.5h0M295.9 286.2h0M292.5 286.0h0M292.3 284.6h0M302.4 279.9h0M295.8 278.0h0M293.0 284.3h0M298.6 283.7h0M288.2 284.6h0M295.0 284.5h0M301.7 283.6h0M288.5 287.4h0M294.9 283.6h0M294.5 283.8h0M287.2 287.5h0M284.8 286.4h0M284.8 285.8h0M294.4 280.0h0M284.8 286.1h0M300.4 281.5h0M289.9 285.1h0M289.7 284.8h0M283.6 288.7h0M280.9 286.6h0M286.1 285.0h0M284.3 284.6h0M281.1 287.5h0M292.5 287.2h0M288.0 284.8h0M284.7 290.7h0M285.1 289.2h0M289.3 283.6h0M292.1 284.8h0M293.9 284.6h0M293.8 281.7h0M300.7 284.0h0M299.0 277.7h0M294.7 285.7h0M287.9 284.4h0M280.7 286.4h0M286.8 284.0h0M293.6 277.9h0M298.0 282.3h0M295.8 288.0h0M283.5 289.4h0M281.3 283.5h0M285.6 288.9h0M286.6 286.5h0M294.7 282.2h0M294.9 287.4h0M289.8 286.7h0M286.0 280.8h0M283.4 286.9h0M297.0 282.7h0M299.0 280.2h0M288.8 283.7h0M303.3 280.8h0M299.9 284.3h0M288.4 287.0h0M298.5 283.6h0M282.1 287.9h0M298.5 281.0h0M290.8 284.8h0M289.8 285.1h0M298.5 285.4h0M284.6 287.3h0M281.1 286.4h0M296.2 285.2h0M298.6 282.0h0M300.3 283.7h0M293.1 286.1h0M287.1 284.5h0M290.4 285.5h0M281.5 292.1h0M292.1 286.0h0M295.1 283.6h0M291.8 285.8h0M300.7 281.8h0M287.1 286.4h0M282.7 290.1h0M291.7 288.0h0M290.5 285.2h0M294.8 284.1h0M294.6 284.0h0M283.2 290.8h0M294.7 282.7h0M293.9 283.6h0M287.4 286.1h0M296.0 282.0h0M291.4 283.9h0M289.4 283.8h0M294.8 282.3h0M297.6 281.8h0M286.0 286.9h0M293.0 281.6h0M284.6 290.2h0M287.7 291.5h0M289.4 287.4h0M285.8 289.8h0M281.1 285.9h0M294.3 283.6h0M291.3 287.4h0M292.4 284.3h0M296.2 283.6h0M293.5 283.5h0M282.4 286.4h0M288.2 288.0h0M291.7 286.9h0M293.2 289.3h0M296.1 278.0h0M295.6 281.6h0M298.7 280.8h0M283.6 288.1h0M291.3 285.1h0M298.4 282.1h0M294.4 279.4h0M280.0 286.4h0M288.2 288.8h0M298.5 289.5h0M289.2 283.2h0M287.5 286.3h0M293.3 285.4h0M299.3 282.0h0M300.3 279.5h0M287.9 286.2h0M295.6 286.8h0M287.8 287.5h0M289.1 279.5h0M289.6 285.2h0M282.4 285.7h0M284.3 285.9h0M293.7 284.7h0M291.3 283.9h0M289.6 283.5h0M293.1 286.1h0M298.2 281.7h0M285.6 283.5h0M302.1 281.7h0M293.4 286.0h0M290.7 286.0h0M293.7 283.8h0M286.1 282.7h0M294.1 282.0h0M289.1 284.2h0M284.8 286.5h0M295.6 278.6h0M290.1 291.0h0M280.9 288.2h0M286.5 294.9h0M286.2 286.9h0M295.5 283.8h0M294.8 284.6h0M286.9 286.3h0M291.9 286.1h0M288.2 288.1h0M288.3 286.2h0M300.8 278.6h0M295.7 286.3h0M298.5 286.7h0M282.9 288.2h0M280.0 288.7h0M298.4 281.8h0M301.4 285.0h0M290.8 286.7h0M298.0 288.0h0M299.3 284.7h0M298.0 282.3h0M295.8 287.7h0M283.5 286.8h0M298.6 283.0h0M285.9 285.6h0M284.4 286.6h0M284.7 286.1h0M297.5 282.4h0M297.1 281.1h0M293.1 281.3h0M290.8 283.7h0M284.5 286.9h0M291.0 287.7h0M286.4 287.5h0M291.4 284.7h0M268.1 314.3h0M271.6 311.0h0M271.0 313.0h0M273.7 314.5h0M270.1 313.5h0M267.5 312.3h0M273.4 308.7h0M271.1 311.9h0M272.6 316.3h0M271.9 317.5h0M270.3 315.5h0M268.7 309.0h0M268.3 313.4h0M273.9 316.4h0M269.8 314.0h0M279.8 317.4h0M280.8 312.4h0M273.9 310.3h0M273.8 312.3h0M277.5 316.1h0M269.3 314.7h0M276.3 310.4h0M271.4 316.6h0M268.8 313.0h0M269.8 317.8h0M275.3 310.6h0M271.1 315.5h0M274.6 316.7h0M280.9 314.7h0M271.2 315.1h0M272.0 308.4h0M275.7 315.4h0M269.1 311.5h0M273.5 314.9h0M276.1 313.5h0M267.9 314.6h0M278.4 318.9h0M268.7 312.5h0M272.6 311.4h0M274.0 307.8h0M273.3 311.2h0M269.5 315.3h0M272.0 312.7h0M272.4 312.0h0M277.4 315.5h0M273.6 319.0h0M279.6 309.4h0M272.9 310.4h0M274.9 312.5h0M269.7 313.5h0M276.9 311.2h0M273.8 313.5h0M271.1 314.8h0M279.2 313.0h0M273.2 315.7h0M274.5 315.6h0M272.8 311.1h0M271.0 316.3h0M269.6 317.5h0M280.0 316.8h0M273.8 310.9h0M272.5 316.0h0M277.5 307.7h0M272.0 310.5h0M272.6 313.3h0M270.8 317.5h0M273.6 315.1h0M272.0 310.8h0M273.5 317.5h0M272.9 309.8h0M271.6 311.8h0M268.2 314.9h0M269.6 315.5h0M272.9 312.7h0M268.9 313.5h0M276.4 317.9h0M277.1 311.6h0M269.0 315.1h0M272.3 316.6h0M274.0 309.6h0M272.0 314.2h0M272.6 309.2h0M275.1 315.8h0M275.7 312.6h0M269.6 310.9h0M271.8 314.3h0M274.6 311.2h0M269.5 310.5h0M270.4 317.2h0M275.8 314.5h0M276.7 315.8h0M270.7 316.6h0M267.5 312.0h0M273.2 314.4h0M269.8 313.3h0M268.2 311.8h0M282.9 316.4h0M276.1 318.4h0M269.5 309.7h0M270.3 314.7h0M276.6 318.0h0M273.0 318.5h0M271.6 313.5h0M274.4 313.6h0M268.7 312.9h0M271.6 312.8h0M270.1 314.8h0M274.5 313.0h0M274.7 311.8h0M270.2 315.4h0M270.8 316.7h0M275.6 312.3h0M280.6 316.7h0M270.0 310.4h0M271.8 314.5h0M274.9 315.4h0M274.8 309.4h0M270.1 314.1h0M275.4 313.9h0M273.3 311.0h0M276.9 314.6h0M271.4 314.8h0M279.9 310.4h0M277.5 310.2h0M272.0 310.6h0M272.1 318.0h0M279.1 317.3h0M271.9 317.1h0M269.6 307.3h0M271.2 310.0h0M277.0 311.3h0M277.0 313.5h0M276.5 316.4h0M277.7 311.3h0M267.3 314.9h0M281.6 318.4h0M272.7 317.9h0M272.3 315.0h0M277.2 315.4h0M271.9 314.7h0M277.0 318.7h0M278.4 315.9h0M268.6 317.3h0M271.2 311.7h0M272.0 311.9h0M267.5 314.6h0M268.8 317.3h0M273.7 310.2h0M274.1 315.7h0M267.9 317.0h0M270.9 313.4h0M275.2 307.1h0M270.3 316.7h0M273.9 319.1h0M274.6 314.6h0M276.9 313.8h0M275.5 305.7h0M276.6 316.1h0M276.4 308.6h0M274.2 309.9h0M270.4 311.7h0M276.6 311.6h0M276.2 316.9h0M273.8 315.7h0M277.1 315.1h0M275.3 316.1h0M274.5 314.1h0M274.9 311.2h0M271.8 310.4h0M271.9 318.0h0M267.4 310.9h0M274.5 312.2h0M282.6 311.4h0M276.9 314.5h0M274.3 317.9h0M280.1 318.9h0M275.1 314.0h0M275.6 317.3h0M272.3 311.5h0M268.9 309.6h0M273.9 318.1h0M274.6 313.6h0M268.2 315.9h0M272.2 319.2h0M272.5 314.4h0M272.9 309.9h0M278.7 312.9h0M273.0 315.2h0M274.8 311.7h0M269.8 313.5h0M268.8 311.5h0M275.4 313.4h0M274.9 313.4h0M273.9 312.2h0M278.5 312.4h0M278.5 312.1h0M269.9 315.3h0M273.6 318.7h0M270.8 316.3h0M271.8 312.4h0M274.9 315.5h0M269.0 318.3h0M270.1 316.5h0M273.1 313.2h0M271.8 315.2h0M270.8 312.0h0M277.9 311.8h0M273.0 310.6h0M267.7 312.7h0M281.0 315.0h0M275.4 317.3h0M268.6 311.2h0M272.2 317.8h0M273.2 310.4h0M272.2 309.0h0M273.7 309.9h0M268.9 308.1h0M269.4 312.3h0M275.8 312.9h0M271.5 312.6h0M272.8 313.0h0M267.8 313.5h0M274.8 308.8h0M271.9 311.5h0M276.6 312.2h0M275.2 313.9h0M267.9 318.5h0M276.4 313.3h0M275.6 316.3h0M278.9 317.5h0M273.0 317.0h0M271.7 310.8h0M271.2 312.9h0M277.2 314.7h0M274.6 311.7h0M275.4 312.5h0M273.4 319.2h0M279.1 314.3h0M272.6 309.8h0M277.7 316.1h0M267.9 307.8h0M278.4 318.1h0M274.6 311.9h0M273.4 314.5h0M270.1 314.0h0M271.6 306.7h0M273.2 312.1h0M282.2 319.2h0M276.1 313.7h0M271.0 317.7h0M277.3 316.3h0M268.5 313.8h0M274.0 318.0h0M270.7 313.5h0M271.8 310.4h0M270.1 316.8h0M270.7 312.5h0M269.5 311.5h0M275.3 315.4h0M274.1 315.0h0M272.7 316.6h0M269.6 313.2h0M268.0 318.6h0M275.4 314.6h0M274.2 316.7h0M275.3 316.4h0M272.5 314.0h0M276.4 316.8h0M274.0 318.2h0M269.5 314.5h0M268.1 318.2h0M275.2 314.5h0M270.8 313.9h0M275.0 316.3h0M269.3 313.1h0M270.5 314.1h0M269.8 311.3h0M279.7 312.1h0M273.4 315.8h0M277.5 318.6h0M271.1 316.5h0M276.0 315.6h0M276.4 313.9h0M272.9 315.2h0M272.5 316.9h0M269.4 312.8h0M271.6 309.9h0M267.5 311.5h0M267.5 317.2h0M276.5 316.0h0M268.2 315.5h0M272.9 309.6h0M276.9 315.8h0M275.1 307.1h0M274.2 312.4h0M269.3 311.3h0M270.6 306.3h0M273.2 314.5h0M270.0 313.8h0M270.3 318.2h0M269.3 313.8h0M269.8 308.2h0M279.7 311.4h0M271.1 314.4h0M275.5 312.7h0M271.0 312.9h0M267.8 317.8h0M270.6 314.9h0M269.6 317.2h0M280.0 312.0h0M272.6 314.2h0M278.3 312.5h0M276.9 315.3h0M276.0 312.6h0M269.3 313.3h0M275.9 313.9h0M270.0 312.0h0M274.5 310.5h0M268.9 313.9h0M272.2 314.7h0M272.3 308.9h0M270.2 315.9h0M273.6 315.7h0M267.9 312.0h0M268.5 316.5h0M271.1 318.3h0M280.8 315.3h0M274.0 310.1h0M270.3 306.0h0M274.9 318.8h0M271.4 313.3h0M272.9 312.8h0M274.3 316.5h0M271.4 313.6h0M277.7 316.2h0M268.5 317.7h0M273.6 315.5h0M275.8 316.4h0M282.6 309.5h0M272.9 317.2h0M275.4 305.2h0M276.6 312.7h0M271.7 317.0h0M274.6 316.4h0M276.6 315.5h0M277.4 314.4h0M272.6 317.0h0M272.8 315.2h0M278.4 310.0h0M268.9 315.2h0M277.1 315.3h0M274.4 317.2h0M271.2 308.8h0M268.7 314.7h0M271.7 306.4h0M276.2 316.5h0M268.9 309.8h0M278.1 315.2h0M271.3 310.9h0M269.4 314.3h0M270.7 313.7h0M267.5 318.6h0M272.7 317.1h0M268.4 313.7h0M280.2 314.2h0M270.6 309.5h0M269.7 316.2h0M270.5 312.1h0M270.8 312.9h0M267.8 314.1h0M272.9 316.0h0M267.5 313.9h0M271.2 310.3h0M272.9 315.6h0M275.5 310.2h0M272.5 312.2h0M276.6 311.1h0M274.4 310.0h0M315.2 280.5h0M317.4 285.0h0M317.8 283.8h0M302.9 281.9h0M305.2 286.2h0M307.3 287.2h0M310.4 283.6h0M308.0 284.3h0M314.1 289.8h0M308.3 285.4h0M317.3 290.1h0M305.9 281.2h0M307.7 289.6h0M308.5 288.6h0M310.2 287.4h0M313.8 284.9h0M307.3 285.6h0M325.4 281.9h0M315.9 284.5h0M303.2 284.9h0M316.4 281.0h0M304.5 287.9h0M303.0 289.4h0M317.9 283.0h0M312.2 289.4h0M316.7 278.4h0M302.4 285.7h0M318.0 290.8h0M313.6 284.9h0M306.0 287.8h0M311.4 292.2h0M322.8 288.1h0M306.5 285.1h0M317.8 286.3h0M314.5 283.3h0M297.5 287.9h0M322.3 284.0h0M312.6 279.0h0M320.0 293.7h0M319.7 281.8h0M312.1 285.9h0M313.5 283.4h0M314.1 286.0h0M304.4 282.0h0M321.3 286.3h0M314.1 292.5h0M307.5 289.7h0M318.2 282.9h0M310.4 286.6h0M302.0 279.5h0M307.7 290.0h0M309.9 290.9h0M301.1 284.3h0M313.4 289.3h0M316.0 289.1h0M315.6 286.0h0M320.7 288.3h0M307.5 288.5h0M315.1 286.1h0M315.0 284.5h0M309.1 279.9h0M308.9 290.3h0M296.0 284.1h0M315.1 287.7h0M302.0 285.3h0M312.8 289.2h0M312.0 283.2h0M314.8 285.9h0M304.7 285.5h0M313.1 285.2h0M308.7 285.4h0M311.9 287.9h0M304.7 283.7h0M315.1 283.9h0M305.9 281.1h0M302.8 282.1h0M310.9 287.6h0M312.2 286.0h0M315.0 285.2h0M303.6 285.8h0M312.3 292.6h0M311.4 292.7h0M310.5 280.8h0M309.7 284.6h0M310.7 284.3h0M325.3 286.5h0M310.4 285.3h0M311.2 289.2h0M311.3 288.7h0M305.6 286.3h0M310.8 286.1h0M304.2 283.3h0M302.0 286.9h0M318.9 285.3h0M303.0 284.2h0M317.8 279.9h0M309.3 285.8h0M308.5 286.3h0M313.9 286.7h0M316.6 289.0h0M301.9 281.8h0M310.0 285.8h0M312.5 281.5h0M303.8 291.5h0M312.2 286.7h0M321.7 279.0h0M312.7 284.7h0M310.6 290.2h0M310.7 280.5h0M304.4 281.0h0M318.1 283.4h0M304.4 284.8h0M303.1 287.0h0M312.0 286.2h0M318.1 284.1h0M316.7 279.7h0M316.9 291.7h0M306.3 288.2h0M305.3 285.8h0M314.4 283.6h0M304.8 285.1h0M310.9 286.8h0M311.7 279.6h0M317.8 287.1h0M302.4 284.9h0M317.6 292.7h0M310.4 283.6h0M318.8 285.3h0M311.1 280.0h0M305.1 286.8h0M322.4 286.8h0M310.3 284.2h0M304.4 281.4h0M315.8 291.8h0M309.4 282.5h0M301.9 283.9h0M317.5 279.8h0M309.5 289.6h0M320.8 283.1h0M312.9 287.1h0M312.3 285.2h0M312.5 286.1h0M310.2 284.8h0M309.1 293.3h0M311.3 289.2h0M305.9 290.5h0M317.7 286.0h0M326.1 288.3h0M322.5 282.5h0M297.9 288.0h0M312.6 295.5h0M306.1 304.8h0M317.4 309.3h0M312.1 297.2h0M304.1 292.9h0M320.5 290.2h0M311.7 296.7h0M308.2 290.5h0M309.9 304.3h0M310.6 303.1h0M308.2 292.4h0M317.1 299.6h0M310.8 304.7h0M318.2 296.1h0M312.7 298.7h0M320.4 290.1h0M307.9 300.0h0M297.7 288.6h0M315.2 309.2h0M322.2 298.1h0M315.5 300.9h0M307.7 302.4h0M312.0 310.5h0M310.8 289.4h0M313.8 295.8h0M313.0 303.6h0M301.7 287.3h0M314.4 306.9h0M308.7 300.1h0M315.2 295.9h0M311.8 296.5h0M318.4 300.3h0M306.5 302.3h0M307.9 298.0h0M304.8 298.7h0M317.0 305.9h0M315.8 293.7h0M312.1 300.1h0M310.8 298.2h0M303.3 315.1h0M307.8 301.5h0M313.4 291.9h0M308.6 303.3h0M312.1 304.6h0M306.2 299.8h0M306.6 300.6h0M308.3 296.4h0M315.8 309.1h0M311.8 302.4h0M306.6 296.6h0M309.7 303.6h0M322.6 286.0h0M319.2 311.3h0M315.8 297.9h0M316.8 289.1h0M304.2 301.7h0M308.7 306.2h0M306.9 286.1h0M311.3 305.0h0M303.4 301.1h0M312.9 303.7h0M317.1 302.6h0M308.2 290.2h0M316.0 298.4h0M317.8 309.9h0M308.6 296.1h0M319.9 302.1h0M305.6 299.1h0M309.9 310.1h0M304.7 295.4h0M317.2 307.1h0M313.6 296.5h0M306.7 280.4h0M316.4 302.7h0M312.7 290.4h0M301.6 297.3h0M309.7 309.9h0M326.3 289.8h0M307.7 306.9h0M318.1 306.7h0M311.5 296.5h0M309.6 289.8h0M308.2 294.4h0M319.1 311.5h0M314.0 288.3h0M311.2 296.4h0M319.5 292.7h0M314.7 300.0h0M317.3 296.0h0M322.1 303.1h0M311.3 298.8h0M309.5 309.0h0M317.2 298.5h0M318.0 312.9h0M319.0 304.1h0M306.5 293.4h0M317.1 299.8h0M310.6 310.3h0M316.6 311.8h0M310.6 292.8h0M311.7 307.4h0M305.9 300.2h0M316.0 302.2h0M315.1 281.1h0M315.5 308.2h0M306.9 303.1h0M312.2 300.3h0M304.8 294.4h0M308.3 300.9h0M314.8 296.7h0M326.8 304.2h0M312.5 297.7h0M313.7 293.7h0M311.2 296.3h0M317.0 294.3h0M305.5 297.2h0M318.9 303.5h0M309.8 299.7h0M307.5 294.1h0M314.2 295.1h0M307.1 297.7h0M312.6 304.7h0M309.4 302.1h0M314.8 314.1h0M313.1 283.1h0M314.2 292.3h0M314.5 301.6h0M306.0 282.1h0M298.9 294.5h0M305.8 288.5h0M275.3 287.9h0M295.4 316.8h0M294.7 290.5h0M299.7 288.2h0M292.8 317.1h0M291.2 288.2h0M292.1 305.9h0M272.0 307.0h0M293.0 279.9h0M298.8 291.9h0M286.0 313.7h0M300.5 296.8h0M312.2 297.1h0M315.8 299.8h0M277.5 292.8h0M288.1 292.7h0M297.5 303.0h0M307.2 291.7h0M301.8 292.2h0M286.1 311.7h0M284.9 307.2h0M286.3 311.7h0M296.4 307.0h0M313.8 290.9h0M302.1 304.4h0M278.7 301.8h0M296.6 291.1h0M285.9 314.9h0M287.8 288.8h0M323.4 319.1h0M285.9 306.5h0M288.2 306.3h0M295.2 295.4h0M296.5 300.4h0M274.2 298.1h0M314.3 295.2h0M293.6 317.4h0M279.3 312.0h0M295.4 294.9h0M292.8 308.1h0M296.4 297.6h0M297.0 305.2h0M278.5 289.3h0M282.2 301.6h0M291.2 309.7h0M288.7 301.6h0M307.9 290.1h0M269.1 316.3h0M305.4 294.4h0M308.6 305.6h0M283.5 318.8h0M271.8 294.7h0M293.8 310.0h0M293.6 311.8h0M278.3 300.0h0M310.7 299.4h0M285.0 296.6h0M292.3 300.0h0M312.3 315.4h0M290.9 311.5h0M283.0 308.6h0M305.4 297.8h0M289.0 305.4h0M306.6 297.7h0M301.7 302.1h0M284.5 313.6h0M311.5 290.3h0M294.8 299.1h0M277.0 303.5h0M291.6 296.4h0M275.0 310.0h0M306.6 303.0h0M313.9 301.7h0M271.0 290.1h0M291.0 298.4h0M288.2 302.2h0M301.5 317.8h0M298.1 300.2h0M285.3 286.8h0M311.0 298.9h0M290.6 288.7h0M297.6 301.6h0M282.0 307.0h0M322.9 299.7h0M289.7 308.2h0M283.4 299.4h0M312.2 299.9h0M294.6 293.4h0M275.8 299.5h0M290.7 290.6h0M285.4 305.8h0M295.0 319.1h0M282.5 290.7h0M297.8 298.7h0M300.2 295.0h0M286.2 308.5h0M312.7 297.8h0M273.9 304.9h0M301.0 307.5h0M270.2 299.4h0M320.8 290.1h0M309.2 287.7h0M284.1 290.0h0M306.7 312.1h0M299.5 294.1h0M298.8 307.0h0M313.0 289.9h0M290.6 308.4h0M290.2 292.4h0M303.4 313.6h0M298.3 301.3h0M287.9 300.1h0M288.5 299.8h0M276.2 298.0h0M293.7 292.5h0M311.1 318.2h0M280.6 290.8h0M283.1 300.6h0M272.0 305.0h0M278.8 304.3h0M288.2 309.8h0M284.5 309.4h0M286.4 289.9h0M304.6 302.8h0M313.0 302.5h0M281.3 290.4h0M296.7 289.5h0M290.6 285.0h0M310.2 308.9h0M298.0 296.0h0M273.6 316.2h0M301.1 299.3h0M277.4 302.6h0M284.7 299.2h0M273.5 315.6h0M297.6 301.6h0M301.1 298.3h0M303.0 310.3h0M309.9 302.3h0M290.0 315.5h0M290.4 296.5h0M305.9 298.3h0M304.0 314.0h0M281.7 302.2h0M294.1 301.2h0M288.7 315.8h0M294.1 304.2h0M292.9 296.8h0M297.1 311.7h0M279.0 307.4h0M312.0 310.5h0M310.9 303.6h0M285.6 297.5h0M291.0 294.5h0M309.7 313.2h0M298.2 306.9h0M286.8 290.2h0M290.7 298.2h0M288.5 293.5h0M289.9 306.4h0M293.5 316.2h0M290.7 318.0h0M291.8 303.3h0M295.5 303.1h0M281.2 285.7h0M271.3 296.7h0M285.3 300.5h0M293.9 312.0h0M270.3 295.0h0M299.1 293.8h0M297.3 294.7h0M275.3 294.8h0M286.2 287.1h0M289.6 295.1h0M305.4 289.4h0M297.9 295.5h0M283.1 308.1h0M301.0 292.2h0M275.2 287.3h0M281.7 311.3h0M281.2 303.0h0M275.1 301.6h0M307.2 308.9h0M287.2 307.8h0M280.4 285.5h0M282.8 284.9h0M298.4 311.6h0M293.1 306.2h0M288.8 297.7h0M300.3 292.1h0M268.5 309.5h0M287.8 288.1h0M298.5 291.5h0M278.6 313.6h0M302.2 316.7h0M315.2 316.6h0M302.5 299.4h0M282.2 315.5h0M306.7 299.0h0M277.7 306.3h0M312.2 314.8h0M279.9 289.5h0M295.7 297.9h0M287.0 317.3h0M299.7 313.8h0M281.5 301.8h0M307.3 308.7h0M309.1 313.0h0M297.1 298.3h0M282.4 291.5h0M283.5 297.5h0M293.2 297.8h0M295.5 311.8h0M286.3 304.5h0M308.4 292.9h0M287.6 311.7h0M297.1 308.9h0M287.5 301.4h0M301.5 297.1h0M313.5 306.2h0M292.1 284.6h0M313.3 316.6h0M301.4 314.7h0M312.7 301.3h0M278.1 311.7h0M273.8 300.5h0M292.8 292.5h0M292.7 287.3h0M291.7 317.7h0M285.2 299.8h0M277.4 297.6h0M268.5 300.3h0M283.8 282.2h0M293.5 301.5h0M268.6 311.4h0M314.7 309.3h0M310.2 301.0h0M276.3 302.0h0M283.7 307.9h0M290.7 292.4h0M289.0 300.4h0M327.3 301.2h0M289.0 318.8h0M271.1 297.6h0M274.7 304.9h0M290.2 300.2h0M271.7 301.1h0M300.3 311.2h0M283.9 301.1h0M294.3 294.9h0M276.0 304.8h0M304.5 317.8h0M300.0 302.4h0M295.4 288.0h0M286.4 282.0h0M285.2 285.5h0M289.2 293.1h0M295.1 295.2h0M300.6 288.3h0M309.3 318.3h0M290.2 291.5h0M296.6 291.5h0M295.4 300.7h0M309.9 309.7h0M276.9 302.6h0M284.5 316.1h0M306.9 301.7h0M294.8 292.4h0M277.1 304.9h0M298.4 294.6h0M314.0 307.2h0M314.6 286.3h0M287.4 307.3h0M301.2 305.9h0M281.8 299.5h0M274.3 308.9h0M280.3 304.3h0M305.2 318.8h0M308.0 304.3h0M278.6 312.5h0M269.1 301.0h0M286.1 300.7h0M297.7 300.7h0M304.3 305.3h0M282.2 290.9h0M307.8 309.7h0M286.4 287.7h0M282.5 297.6h0M298.3 304.5h0M302.3 310.9h0M282.5 292.6h0M286.9 294.2h0M299.2 314.7h0M298.2 293.9h0M307.1 311.7h0M281.5 309.0h0M299.5 298.1h0M303.9 282.0h0M312.2 277.1h0M293.6 298.5h0M289.9 306.4h0M289.1 313.3h0M268.9 314.1h0M312.0 297.8h0M295.8 303.8h0M304.5 294.3h0M304.8 290.8h0M280.2 299.6h0M291.4 278.4h0M283.0 301.1h0M283.4 307.2h0M298.4 294.6h0M279.9 299.4h0M318.3 312.5h0M281.9 288.5h0M279.6 304.4h0M311.3 307.1h0M281.5 290.8h0M302.3 310.3h0M289.5 303.1h0M308.0 304.7h0M307.6 312.0h0M287.0 311.0h0M279.5 315.2h0M270.7 290.6h0M301.9 288.6h0M293.0 306.6h0M285.6 312.1h0M301.9 301.1h0M286.5 292.8h0M325.0 317.7h0M293.1 307.3h0M294.9 304.7h0M290.8 301.4h0M291.8 295.6h0M306.8 316.0h0M316.6 300.0h0M290.5 308.4h0M295.1 299.1h0M280.1 312.5h0M299.9 290.4h0M281.1 302.8h0M286.3 287.0h0M297.9 292.5h0M293.6 292.5h0M302.4 313.7h0M299.4 304.2h0M304.5 302.2h0M323.9 293.9h0M313.6 294.3h0M288.6 313.1h0M283.5 288.2h0M304.7 296.8h0M291.7 299.0h0M299.3 295.8h0M292.0 300.7h0M280.2 308.9h0M276.7 303.5h0M317.5 301.0h0M289.2 304.9h0M288.8 290.5h0M291.8 295.6h0M297.0 298.0h0M288.1 298.3h0M275.1 302.4h0M307.5 301.2h0M316.2 314.1h0M307.2 297.4h0M290.1 292.8h0M324.9 281.2h0M276.2 294.5h0M278.9 305.9h0M327.2 307.1h0M301.4 300.1h0M291.2 299.5h0M311.5 292.3h0M280.4 286.6h0M269.1 302.2h0M309.7 286.2h0M303.1 298.2h0M276.0 284.1h0M315.1 317.1h0M285.6 303.2h0M294.3 300.7h0M287.5 300.4h0M277.0 289.2h0M277.8 300.2h0M305.6 302.5h0M286.7 305.2h0M294.1 317.5h0M289.4 284.2h0M294.3 291.4h0M318.6 309.4h0M326.4 298.6h0M314.8 305.7h0M272.8 282.0h0M323.0 318.0h0M291.0 281.0h0M280.4 313.1h0M290.2 309.2h0M311.0 290.6h0M272.7 286.2h0M283.7 288.6h0M298.0 307.4h0M299.3 289.6h0M323.5 279.4h0M317.2 296.3h0M314.3 278.6h0M269.3 318.5h0M297.0 299.3h0M270.4 315.3h0M289.3 317.6h0M274.0 293.7h0M320.5 316.7h0M322.1 281.0h0M315.5 313.8h0M321.6 308.7h0M278.6 299.5h0M276.4 279.5h0M303.2 305.0h0M321.7 281.5h0M319.6 299.3h0M313.4 290.4h0M297.5 308.9h0M288.2 280.0h0M286.2 307.1h0M299.4 301.2h0M273.0 310.5h0M302.6 295.3h0M315.0 284.0h0M281.9 315.3h0M278.4 318.3h0M317.7 304.2h0M280.4 312.1h0M315.8 318.2h0M313.5 281.0h0M319.7 308.9h0M302.3 280.5h0M280.9 281.2h0M269.0 297.3h0M269.1 307.9h0M271.1 318.3h0M315.2 295.9h0M307.5 285.0h0M327.3 303.0h0M284.0 282.4h0M283.8 288.9h0M307.2 293.4h0M285.6 295.7h0M309.4 317.4h0M315.3 284.2h0M324.2 282.1h0M269.5 308.2h0M303.1 284.3h0M325.8 310.8h0M281.1 310.5h0M276.6 300.3h0M296.6 296.6h0M272.1 308.6h0M292.6 316.4h0M269.5 291.2h0M320.3 299.9h0M274.7 315.2h0M276.1 301.2h0M299.6 300.6h0M283.0 288.3h0M297.4 301.9h0M323.2 306.9h0M270.6 311.0h0M308.6 295.1h0" fill="none" stroke="#000" stroke-width="0.85" stroke-linecap="square"/>
<line x1="266.3" y1="320" x2="329.5" y2="320" stroke="#333" stroke-width="0.8" />
<line x1="266.3" y1="272" x2="266.3" y2="320" stroke="#333" stroke-width="0.8" />
<line x1="270.25" y1="320.5" x2="270.25" y2="318.8" stroke="#000" stroke-width="0.5" />
<line x1="265.8" y1="275.0" x2="267.5" y2="275.0" stroke="#000" stroke-width="0.5" />
<line x1="274.2" y1="320.5" x2="274.2" y2="318.8" stroke="#000" stroke-width="0.7" />
<line x1="265.8" y1="278.0" x2="267.5" y2="278.0" stroke="#000" stroke-width="0.7" />
<line x1="278.15000000000003" y1="320.5" x2="278.15000000000003" y2="318.8" stroke="#000" stroke-width="0.5" />
<line x1="265.8" y1="281.0" x2="267.5" y2="281.0" stroke="#000" stroke-width="0.5" />
<line x1="282.1" y1="320.5" x2="282.1" y2="318.8" stroke="#000" stroke-width="0.7" />
<line x1="265.8" y1="284.0" x2="267.5" y2="284.0" stroke="#000" stroke-width="0.7" />
<line x1="286.05" y1="320.5" x2="286.05" y2="318.8" stroke="#000" stroke-width="0.5" />
<line x1="265.8" y1="287.0" x2="267.5" y2="287.0" stroke="#000" stroke-width="0.5" />
<line x1="290.0" y1="320.5" x2="290.0" y2="318.8" stroke="#000" stroke-width="0.7" />
<line x1="265.8" y1="290.0" x2="267.5" y2="290.0" stroke="#000" stroke-width="0.7" />
<line x1="293.95" y1="320.5" x2="293.95" y2="318.8" stroke="#000" stroke-width="0.5" />
<line x1="265.8" y1="293.0" x2="267.5" y2="293.0" stroke="#000" stroke-width="0.5" />
<line x1="297.9" y1="320.5" x2="297.9" y2="318.8" stroke="#000" stroke-width="0.7" />
<line x1="265.8" y1="296.0" x2="267.5" y2="296.0" stroke="#000" stroke-width="0.7" />
<line x1="301.85" y1="320.5" x2="301.85" y2="318.8" stroke="#000" stroke-width="0.5" />
<line x1="265.8" y1="299.0" x2="267.5" y2="299.0" stroke="#000" stroke-width="0.5" />
<line x1="305.8" y1="320.5" x2="305.8" y2="318.8" stroke="#000" stroke-width="0.7" />
<line x1="265.8" y1="302.0" x2="267.5" y2="302.0" stroke="#000" stroke-width="0.7" />
<line x1="309.75" y1="320.5" x2="309.75" y2="318.8" stroke="#000" stroke-width="0.5" />
<line x1="265.8" y1="305.0" x2="267.5" y2="305.0" stroke="#000" stroke-width="0.5" />
<line x1="313.7" y1="320.5" x2="313.7" y2="318.8" stroke="#000" stroke-width="0.7" />
<line x1="265.8" y1="308.0" x2="267.5" y2="308.0" stroke="#000" stroke-width="0.7" />
<line x1="317.65" y1="320.5" x2="317.65" y2="318.8" stroke="#000" stroke-width="0.5" />
<line x1="265.8" y1="311.0" x2="267.5" y2="311.0" stroke="#000" stroke-width="0.5" />
<line x1="321.6" y1="320.5" x2="321.6" y2="318.8" stroke="#000" stroke-width="0.7" />
<line x1="265.8" y1="314.0" x2="267.5" y2="314.0" stroke="#000" stroke-width="0.7" />
<line x1="325.55" y1="320.5" x2="325.55" y2="318.8" stroke="#000" stroke-width="0.5" />
<line x1="265.8" y1="317.0" x2="267.5" y2="317.0" stroke="#000" stroke-width="0.5" />
<rect x="277" y="277.5" width="44.30000000000001" height="12.0" fill="none" stroke="#000" stroke-width="1.1"/>
<path d="M305.5,277.5 V308.8 H321.3 V289.5" fill="none" stroke="#000" stroke-width="1.1"/>
<line x1="19.3" y1="205.1" x2="19.3" y2="226.3" stroke="#000" stroke-width="1.4" />
<path d="M15.9,208.1 L19.3,198.1 L22.7,208.1 L19.3,205.1Z" fill="#000"/>
<line x1="19.3" y1="282.8" x2="19.3" y2="311.6" stroke="#333" stroke-width="1.3" />
<text x="0" y="0" transform="translate(19.3,257.7) rotate(-90)" font-size="9" font-weight="bold" text-anchor="middle" dominant-baseline="central" font-family='"Liberation Sans", sans-serif'>CD71</text>
<line x1="258.9" y1="205.2" x2="258.9" y2="225.9" stroke="#000" stroke-width="1.4" />
<path d="M255.49999999999997,208.2 L258.9,198.2 L262.29999999999995,208.2 L258.9,205.2Z" fill="#000"/>
<line x1="259" y1="282.8" x2="259" y2="311.6" stroke="#777" stroke-width="1.6" />
<text x="0" y="0" transform="translate(260,259.5) rotate(-90)" font-size="9" font-weight="bold" text-anchor="middle" dominant-baseline="central" font-family='"Liberation Sans", sans-serif'>CD71</text>
<line x1="23.8" y1="331.3" x2="40" y2="331.3" stroke="#000" stroke-width="1.1" />
<text x="60.6" y="334.2" font-size="8.9" font-weight="bold" text-anchor="middle" font-family='"Liberation Sans", sans-serif' fill="#000" >Ter119</text>
<line x1="79.2" y1="330.8" x2="85.7" y2="330.8" stroke="#000" stroke-width="1.3" />
<path d="M82.7,327.5 L93.7,330.8 L82.7,334.1 L85.7,330.8Z" fill="#000"/>
<line x1="264.2" y1="330.6" x2="280.8" y2="330.6" stroke="#000" stroke-width="1.2" />
<text x="300.7" y="333.7" font-size="9.5" font-weight="bold" text-anchor="middle" font-family='"Liberation Sans", sans-serif' fill="#000" >Ter119</text>
<line x1="319.5" y1="330.6" x2="325.9" y2="330.6" stroke="#000" stroke-width="1.3" />
<path d="M322.9,327.3 L333.9,330.6 L322.9,333.90000000000003 L325.9,330.6Z" fill="#000"/>
<line x1="113.8" y1="336.8" x2="153.8" y2="336.8" stroke="#000" stroke-width="1.1" />
<text x="174.4" y="340" font-size="9" font-weight="bold" text-anchor="middle" font-family='"Liberation Sans", sans-serif' fill="#000" >CD44</text>
<line x1="194" y1="336.6" x2="237.1" y2="336.6" stroke="#000" stroke-width="1.3" />
<path d="M234.1,333.3 L245.1,336.6 L234.1,339.90000000000003 L237.1,336.6Z" fill="#000"/>
<line x1="352" y1="332" x2="392" y2="332" stroke="#000" stroke-width="1.1" />
<text x="412.6" y="334.6" font-size="9" font-weight="bold" text-anchor="middle" font-family='"Liberation Sans", sans-serif' fill="#000" >CD44</text>
<line x1="432.3" y1="331.8" x2="476.2" y2="331.8" stroke="#000" stroke-width="1.3" />
<path d="M473.2,328.5 L484.2,331.8 L473.2,335.1 L476.2,331.8Z" fill="#000"/>
<line x1="177.5" y1="190.8" x2="177.5" y2="246.3" stroke="#8a8a8a" stroke-width="0.7" />
<line x1="112" y1="190.8" x2="177.5" y2="190.8" stroke="#8a8a8a" stroke-width="0.7" />
<path d="M112,246 L114,244 L117,240 L120,234 L122.5,231 L124.5,230 L126.5,231 L128.5,235 L130.2,239 L131,246Z" fill="#0a0a0a" stroke="#000" stroke-width="0.5" stroke-linejoin="round"/>
<path d="M130.2,246 L130.2,239 L131,237 L133,229 L135,222 L137,217 L138.5,216.5 L140,219 L141.5,222 L143,246Z" fill="#5e5e5e" stroke="#000" stroke-width="0.5" stroke-linejoin="round"/>
<path d="M140.5,246 L140.7,221 L141.6,219 L143,211 L145,203 L147,196 L148,195.4 L149.7,208 L151,225.7 L152.4,233.5 L153.5,240 L155,246Z" fill="#c6c6c6" stroke="#555" stroke-width="0.5" stroke-linejoin="round"/>
<path d="M146.3,246 L148,243 L150.4,237.8 L152.4,234.5 L154,234 L156.4,233 L158,234 L159.8,236.5 L161.8,244 L163,245.5 L166,245.5 L170,246Z" fill="#0a0a0a" stroke="#000" stroke-width="0.5" stroke-linejoin="round"/>
<line x1="112.0" y1="246.3" x2="112.0" y2="247.5" stroke="#555" stroke-width="0.5" />
<line x1="125.1" y1="246.3" x2="125.1" y2="247.5" stroke="#555" stroke-width="0.5" />
<line x1="138.2" y1="246.3" x2="138.2" y2="247.5" stroke="#555" stroke-width="0.5" />
<line x1="151.3" y1="246.3" x2="151.3" y2="247.5" stroke="#555" stroke-width="0.5" />
<line x1="164.4" y1="246.3" x2="164.4" y2="247.5" stroke="#555" stroke-width="0.5" />
<line x1="177.5" y1="246.3" x2="177.5" y2="247.5" stroke="#555" stroke-width="0.5" />
<line x1="112" y1="196.35000000000002" x2="112.9" y2="196.35000000000002" stroke="#555" stroke-width="0.4" />
<line x1="112" y1="201.9" x2="112.9" y2="201.9" stroke="#555" stroke-width="0.4" />
<line x1="112" y1="207.45000000000002" x2="112.9" y2="207.45000000000002" stroke="#555" stroke-width="0.4" />
<line x1="112" y1="213.0" x2="112.9" y2="213.0" stroke="#555" stroke-width="0.4" />
<line x1="112" y1="218.55" x2="112.9" y2="218.55" stroke="#555" stroke-width="0.4" />
<line x1="112" y1="224.10000000000002" x2="112.9" y2="224.10000000000002" stroke="#555" stroke-width="0.4" />
<line x1="112" y1="229.65" x2="112.9" y2="229.65" stroke="#555" stroke-width="0.4" />
<line x1="112" y1="235.20000000000002" x2="112.9" y2="235.20000000000002" stroke="#555" stroke-width="0.4" />
<line x1="112" y1="240.75" x2="112.9" y2="240.75" stroke="#555" stroke-width="0.4" />
<line x1="112" y1="246.3" x2="177.5" y2="246.3" stroke="#222" stroke-width="0.9" />
<line x1="112" y1="190.8" x2="112" y2="246.3" stroke="#444" stroke-width="0.8" />
<text x="122.2" y="226.3" font-size="8.4" font-weight="bold" text-anchor="middle" font-family='"Liberation Sans", sans-serif' fill="#000" >V</text>
<text x="135.0" y="214.8" font-size="8.4" font-weight="bold" text-anchor="middle" font-family='"Liberation Sans", sans-serif' fill="#000" >IV</text>
<text x="146.5" y="226.3" font-size="8.4" font-weight="bold" text-anchor="middle" font-family='"Liberation Sans", sans-serif' fill="#000" >III</text>
<text x="157.1" y="229.8" font-size="8.4" font-weight="bold" text-anchor="middle" font-family='"Liberation Sans", sans-serif' fill="#000" >II</text>
<text x="167.0" y="242.9" font-size="8.4" font-weight="bold" text-anchor="middle" font-family='"Liberation Sans", sans-serif' fill="#000" >I</text>
<line x1="180.4" y1="190" x2="246" y2="190" stroke="#8a8a8a" stroke-width="0.7" />
<path d="M180.5,247 L185,246.3 L190,245.2 L195,241.2 L198,235 L201,229 L203,247Z" fill="#0a0a0a" stroke="#000" stroke-width="0.5" stroke-linejoin="round"/>
<path d="M197,247 L197.5,236.5 L199.5,229.7 L202.2,219 L204.9,210.2 L206.9,208.9 L208.3,211.6 L209.5,210 L212,247Z" fill="#5e5e5e" stroke="#000" stroke-width="0.5" stroke-linejoin="round"/>
<path d="M204.2,247 L206,232 L208,218 L209.2,211.6 L210.3,204.2 L211.6,203.1 L213.3,204.8 L215,212.2 L217,223 L219,231 L221,235.1 L223,235.5 L224.5,235.8 L226.5,239.1 L229.1,244.5 L231,247Z" fill="#c6c6c6" stroke="#555" stroke-width="0.5" stroke-linejoin="round"/>
<path d="M214,247 L218,244 L222,241 L225,239.5 L227,239.8 L229,244 L232,246.5 L236,247Z" fill="#0a0a0a" stroke="#000" stroke-width="0.5" stroke-linejoin="round"/>
<line x1="180.4" y1="247.2" x2="180.4" y2="248.39999999999998" stroke="#555" stroke-width="0.5" />
<line x1="193.52" y1="247.2" x2="193.52" y2="248.39999999999998" stroke="#555" stroke-width="0.5" />
<line x1="206.64000000000001" y1="247.2" x2="206.64000000000001" y2="248.39999999999998" stroke="#555" stroke-width="0.5" />
<line x1="219.76" y1="247.2" x2="219.76" y2="248.39999999999998" stroke="#555" stroke-width="0.5" />
<line x1="232.88" y1="247.2" x2="232.88" y2="248.39999999999998" stroke="#555" stroke-width="0.5" />
<line x1="246.0" y1="247.2" x2="246.0" y2="248.39999999999998" stroke="#555" stroke-width="0.5" />
<line x1="180.4" y1="195.72" x2="181.3" y2="195.72" stroke="#555" stroke-width="0.4" />
<line x1="180.4" y1="201.44" x2="181.3" y2="201.44" stroke="#555" stroke-width="0.4" />
<line x1="180.4" y1="207.16" x2="181.3" y2="207.16" stroke="#555" stroke-width="0.4" />
<line x1="180.4" y1="212.88" x2="181.3" y2="212.88" stroke="#555" stroke-width="0.4" />
<line x1="180.4" y1="218.6" x2="181.3" y2="218.6" stroke="#555" stroke-width="0.4" />
<line x1="180.4" y1="224.32" x2="181.3" y2="224.32" stroke="#555" stroke-width="0.4" />
<line x1="180.4" y1="230.04" x2="181.3" y2="230.04" stroke="#555" stroke-width="0.4" />
<line x1="180.4" y1="235.76" x2="181.3" y2="235.76" stroke="#555" stroke-width="0.4" />
<line x1="180.4" y1="241.48" x2="181.3" y2="241.48" stroke="#555" stroke-width="0.4" />
<line x1="180.4" y1="247.2" x2="246" y2="247.2" stroke="#222" stroke-width="0.9" />
<line x1="180.4" y1="190" x2="180.4" y2="247.2" stroke="#444" stroke-width="0.8" />
<line x1="177.3" y1="269" x2="177.3" y2="322.2" stroke="#8a8a8a" stroke-width="0.7" />
<line x1="111.6" y1="269" x2="177.3" y2="269" stroke="#aaa" stroke-width="1.5" />
<path d="M112,322 L112,320 L114,314.8 L116,305.4 L118.1,291.9 L120.1,281.2 L122.1,276.4 L123.1,276 L124.5,278.5 L126.2,284.5 L128.2,288.6 L129.9,290 L129.9,322Z" fill="#0a0a0a" stroke="#000" stroke-width="0.5" stroke-linejoin="round"/>
<path d="M129.9,322 L129.9,289.9 L131.5,290.6 L133.6,291.5 L134.2,293.9 L136.2,300 L138.3,306 L139.6,310.1 L141,322Z" fill="#5e5e5e" stroke="#000" stroke-width="0.5" stroke-linejoin="round"/>
<path d="M134.9,322 L138.9,309.4 L141,301.3 L142.3,298 L143.4,298.6 L144.7,303.4 L146.3,310 L149,315.5 L151.7,318.8 L154.4,320.9 L156.4,322Z" fill="#c6c6c6" stroke="#555" stroke-width="0.5" stroke-linejoin="round"/>
<path d="M153,322 L155.1,314.8 L157.1,308.1 L158.7,304 L159.5,305.4 L160.5,314.8 L161.8,320.2 L165.2,322Z" fill="#0a0a0a" stroke="#000" stroke-width="0.5" stroke-linejoin="round"/>
<line x1="111.6" y1="322.2" x2="111.6" y2="323.4" stroke="#555" stroke-width="0.5" />
<line x1="124.74" y1="322.2" x2="124.74" y2="323.4" stroke="#555" stroke-width="0.5" />
<line x1="137.88" y1="322.2" x2="137.88" y2="323.4" stroke="#555" stroke-width="0.5" />
<line x1="151.02" y1="322.2" x2="151.02" y2="323.4" stroke="#555" stroke-width="0.5" />
<line x1="164.16000000000003" y1="322.2" x2="164.16000000000003" y2="323.4" stroke="#555" stroke-width="0.5" />
<line x1="177.3" y1="322.2" x2="177.3" y2="323.4" stroke="#555" stroke-width="0.5" />
<line x1="111.6" y1="274.32" x2="112.5" y2="274.32" stroke="#555" stroke-width="0.4" />
<line x1="111.6" y1="279.64" x2="112.5" y2="279.64" stroke="#555" stroke-width="0.4" />
<line x1="111.6" y1="284.96" x2="112.5" y2="284.96" stroke="#555" stroke-width="0.4" />
<line x1="111.6" y1="290.28" x2="112.5" y2="290.28" stroke="#555" stroke-width="0.4" />
<line x1="111.6" y1="295.6" x2="112.5" y2="295.6" stroke="#555" stroke-width="0.4" />
<line x1="111.6" y1="300.92" x2="112.5" y2="300.92" stroke="#555" stroke-width="0.4" />
<line x1="111.6" y1="306.24" x2="112.5" y2="306.24" stroke="#555" stroke-width="0.4" />
<line x1="111.6" y1="311.56" x2="112.5" y2="311.56" stroke="#555" stroke-width="0.4" />
<line x1="111.6" y1="316.88" x2="112.5" y2="316.88" stroke="#555" stroke-width="0.4" />
<line x1="111.6" y1="322.2" x2="177.3" y2="322.2" stroke="#222" stroke-width="0.9" />
<line x1="111.6" y1="269" x2="111.6" y2="322.2" stroke="#444" stroke-width="0.8" />
<line x1="181" y1="267.5" x2="246.6" y2="267.5" stroke="#aaa" stroke-width="1.6" />
<path d="M181,322.6 L188.8,321.5 L194.2,320.2 L198.2,318.8 L201.6,317.5 L203.6,316.8 L204.9,318.2 L206,322.6Z" fill="#0a0a0a" stroke="#000" stroke-width="0.5" stroke-linejoin="round"/>
<path d="M200,322.6 L201,318 L203,316.5 L204.9,317.5 L207.6,313.5 L210.3,304 L211.6,301.3 L213,295 L214,322.6Z" fill="#5e5e5e" stroke="#000" stroke-width="0.5" stroke-linejoin="round"/>
<path d="M204.2,322.6 L206.9,314.8 L209.6,306.7 L211.6,300 L213.7,287.9 L215.7,278.5 L217.4,275.8 L218.4,277.1 L220.4,283.8 L221.7,291.9 L223.1,300 L224.4,310 L226,322.6Z" fill="#c6c6c6" stroke="#555" stroke-width="0.5" stroke-linejoin="round"/>
<path d="M217,322.6 L218.4,316.1 L220.4,305.4 L222.4,298.6 L223.8,300.7 L225.8,302 L226.7,300.7 L227.8,304 L228.9,308.1 L229.8,314.8 L231.2,318.8 L234.5,321.5 L237.2,322.6Z" fill="#0a0a0a" stroke="#000" stroke-width="0.5" stroke-linejoin="round"/>
<line x1="181.0" y1="322.6" x2="181.0" y2="323.8" stroke="#555" stroke-width="0.5" />
<line x1="194.12" y1="322.6" x2="194.12" y2="323.8" stroke="#555" stroke-width="0.5" />
<line x1="207.24" y1="322.6" x2="207.24" y2="323.8" stroke="#555" stroke-width="0.5" />
<line x1="220.36" y1="322.6" x2="220.36" y2="323.8" stroke="#555" stroke-width="0.5" />
<line x1="233.48" y1="322.6" x2="233.48" y2="323.8" stroke="#555" stroke-width="0.5" />
<line x1="246.6" y1="322.6" x2="246.6" y2="323.8" stroke="#555" stroke-width="0.5" />
<line x1="181" y1="273.01" x2="181.9" y2="273.01" stroke="#555" stroke-width="0.4" />
<line x1="181" y1="278.52" x2="181.9" y2="278.52" stroke="#555" stroke-width="0.4" />
<line x1="181" y1="284.03000000000003" x2="181.9" y2="284.03000000000003" stroke="#555" stroke-width="0.4" />
<line x1="181" y1="289.54" x2="181.9" y2="289.54" stroke="#555" stroke-width="0.4" />
<line x1="181" y1="295.05" x2="181.9" y2="295.05" stroke="#555" stroke-width="0.4" />
<line x1="181" y1="300.56" x2="181.9" y2="300.56" stroke="#555" stroke-width="0.4" />
<line x1="181" y1="306.07" x2="181.9" y2="306.07" stroke="#555" stroke-width="0.4" />
<line x1="181" y1="311.58000000000004" x2="181.9" y2="311.58000000000004" stroke="#555" stroke-width="0.4" />
<line x1="181" y1="317.09000000000003" x2="181.9" y2="317.09000000000003" stroke="#555" stroke-width="0.4" />
<line x1="181" y1="322.6" x2="246.6" y2="322.6" stroke="#222" stroke-width="0.9" />
<line x1="181" y1="267.5" x2="181" y2="322.6" stroke="#bbb" stroke-width="0.8" />
<line x1="413.6" y1="187.7" x2="413.6" y2="244.9" stroke="#8a8a8a" stroke-width="0.7" />
<line x1="349.7" y1="187.7" x2="413.6" y2="187.7" stroke="#8a8a8a" stroke-width="0.7" />
<path d="M349.7,244.9 L350.4,242.9 L353,243.5 L355.1,240.2 L357.8,234.8 L360.5,231.4 L362.5,231.4 L365.2,232.8 L367.2,234.8 L368.5,244.9Z" fill="#0a0a0a" stroke="#000" stroke-width="0.5" stroke-linejoin="round"/>
<path d="M367.9,244.9 L368.5,232.1 L370.6,226.7 L372.6,223.4 L374.6,222.4 L375.9,224 L377.3,228.1 L378,244.9Z" fill="#5e5e5e" stroke="#000" stroke-width="0.5" stroke-linejoin="round"/>
<path d="M371.9,244.9 L375.3,232.1 L377.3,214.6 L378.6,206.5 L380.4,203.2 L381.7,207.2 L383.3,209.2 L385.4,216 L387.4,226.7 L389.4,236.1 L390.7,240.2 L392.1,244.9Z" fill="#c6c6c6" stroke="#555" stroke-width="0.5" stroke-linejoin="round"/>
<path d="M384.7,244.9 L387.4,241.5 L390.1,238.8 L392.1,239.5 L395.5,242.2 L398.1,244.2 L403.5,244.9Z" fill="#0a0a0a" stroke="#000" stroke-width="0.5" stroke-linejoin="round"/>
<line x1="349.7" y1="244.9" x2="349.7" y2="246.1" stroke="#555" stroke-width="0.5" />
<line x1="362.48" y1="244.9" x2="362.48" y2="246.1" stroke="#555" stroke-width="0.5" />
<line x1="375.26" y1="244.9" x2="375.26" y2="246.1" stroke="#555" stroke-width="0.5" />
<line x1="388.04" y1="244.9" x2="388.04" y2="246.1" stroke="#555" stroke-width="0.5" />
<line x1="400.82" y1="244.9" x2="400.82" y2="246.1" stroke="#555" stroke-width="0.5" />
<line x1="413.6" y1="244.9" x2="413.6" y2="246.1" stroke="#555" stroke-width="0.5" />
<line x1="349.7" y1="193.42" x2="350.59999999999997" y2="193.42" stroke="#555" stroke-width="0.4" />
<line x1="349.7" y1="199.14" x2="350.59999999999997" y2="199.14" stroke="#555" stroke-width="0.4" />
<line x1="349.7" y1="204.85999999999999" x2="350.59999999999997" y2="204.85999999999999" stroke="#555" stroke-width="0.4" />
<line x1="349.7" y1="210.57999999999998" x2="350.59999999999997" y2="210.57999999999998" stroke="#555" stroke-width="0.4" />
<line x1="349.7" y1="216.3" x2="350.59999999999997" y2="216.3" stroke="#555" stroke-width="0.4" />
<line x1="349.7" y1="222.01999999999998" x2="350.59999999999997" y2="222.01999999999998" stroke="#555" stroke-width="0.4" />
<line x1="349.7" y1="227.74" x2="350.59999999999997" y2="227.74" stroke="#555" stroke-width="0.4" />
<line x1="349.7" y1="233.46" x2="350.59999999999997" y2="233.46" stroke="#555" stroke-width="0.4" />
<line x1="349.7" y1="239.18" x2="350.59999999999997" y2="239.18" stroke="#555" stroke-width="0.4" />
<line x1="349.7" y1="244.9" x2="413.6" y2="244.9" stroke="#222" stroke-width="0.9" />
<line x1="349.7" y1="187.7" x2="349.7" y2="244.9" stroke="#444" stroke-width="0.8" />
<line x1="484.9" y1="187.5" x2="484.9" y2="245.9" stroke="#8a8a8a" stroke-width="0.7" />
<line x1="417.1" y1="187.5" x2="484.9" y2="187.5" stroke="#8a8a8a" stroke-width="0.7" />
<path d="M417.1,245.9 L423.3,245.2 L428.9,243.9 L432.3,241.1 L435.1,239.7 L436.5,241.8 L437.2,245.9Z" fill="#0a0a0a" stroke="#000" stroke-width="0.5" stroke-linejoin="round"/>
<path d="M435.8,245.9 L436.9,239.7 L439.2,233.5 L442,227.9 L444.8,224.5 L445.5,225.2 L446,245.9Z" fill="#5e5e5e" stroke="#000" stroke-width="0.5" stroke-linejoin="round"/>
<path d="M441.3,245.9 L443.4,233.5 L445.5,223.8 L446.9,211.3 L448,201.6 L449.3,198.2 L450.7,198.4 L452.1,201.6 L453.5,209.9 L455.2,223.8 L456.6,233.5 L457.9,241.8 L458.6,245.9Z" fill="#c6c6c6" stroke="#555" stroke-width="0.5" stroke-linejoin="round"/>
<path d="M454.5,245.9 L456.6,239.7 L458.6,236.9 L460,236.2 L462.1,239.7 L464.9,243.9 L468.3,245.9Z" fill="#0a0a0a" stroke="#000" stroke-width="0.5" stroke-linejoin="round"/>
<line x1="417.1" y1="245.9" x2="417.1" y2="247.1" stroke="#555" stroke-width="0.5" />
<line x1="430.66" y1="245.9" x2="430.66" y2="247.1" stroke="#555" stroke-width="0.5" />
<line x1="444.22" y1="245.9" x2="444.22" y2="247.1" stroke="#555" stroke-width="0.5" />
<line x1="457.78" y1="245.9" x2="457.78" y2="247.1" stroke="#555" stroke-width="0.5" />
<line x1="471.34" y1="245.9" x2="471.34" y2="247.1" stroke="#555" stroke-width="0.5" />
<line x1="484.9" y1="245.9" x2="484.9" y2="247.1" stroke="#555" stroke-width="0.5" />
<line x1="417.1" y1="193.34" x2="418.0" y2="193.34" stroke="#555" stroke-width="0.4" />
<line x1="417.1" y1="199.18" x2="418.0" y2="199.18" stroke="#555" stroke-width="0.4" />
<line x1="417.1" y1="205.02" x2="418.0" y2="205.02" stroke="#555" stroke-width="0.4" />
<line x1="417.1" y1="210.86" x2="418.0" y2="210.86" stroke="#555" stroke-width="0.4" />
<line x1="417.1" y1="216.7" x2="418.0" y2="216.7" stroke="#555" stroke-width="0.4" />
<line x1="417.1" y1="222.54000000000002" x2="418.0" y2="222.54000000000002" stroke="#555" stroke-width="0.4" />
<line x1="417.1" y1="228.38" x2="418.0" y2="228.38" stroke="#555" stroke-width="0.4" />
<line x1="417.1" y1="234.22" x2="418.0" y2="234.22" stroke="#555" stroke-width="0.4" />
<line x1="417.1" y1="240.06" x2="418.0" y2="240.06" stroke="#555" stroke-width="0.4" />
<line x1="417.1" y1="245.9" x2="484.9" y2="245.9" stroke="#222" stroke-width="0.9" />
<line x1="417.1" y1="187.5" x2="417.1" y2="245.9" stroke="#444" stroke-width="0.8" />
<line x1="414.3" y1="265.4" x2="414.3" y2="321.2" stroke="#8a8a8a" stroke-width="0.7" />
<line x1="351" y1="265.4" x2="414.3" y2="265.4" stroke="#8a8a8a" stroke-width="0.7" />
<path d="M351,321.2 L351.3,311.8 L353.1,307.8 L355.1,298.3 L357.1,287.6 L359.1,280.2 L360.9,277.9 L362.5,279.5 L363.8,285.6 L365.8,293.6 L367.9,296.3 L368.8,297 L368.8,321.2Z" fill="#0a0a0a" stroke="#000" stroke-width="0.5" stroke-linejoin="round"/>
<path d="M368.8,321.2 L368.8,297 L370.6,298.3 L372.6,299 L373.9,301.7 L375.3,305.1 L375.9,306.4 L376.5,321.2Z" fill="#5e5e5e" stroke="#000" stroke-width="0.5" stroke-linejoin="round"/>
<path d="M373.2,321.2 L374.6,310.5 L376.6,305.1 L378.2,297 L379.9,287.6 L381,286 L382.3,288.9 L383.6,298.3 L385.4,303.7 L387.4,307.8 L389.4,313.1 L391.4,317.2 L392.8,321.2Z" fill="#c6c6c6" stroke="#555" stroke-width="0.5" stroke-linejoin="round"/>
<path d="M391.4,321.2 L393.4,319.2 L396.8,319.9 L403.5,321.2Z" fill="#0a0a0a" stroke="#000" stroke-width="0.5" stroke-linejoin="round"/>
<line x1="351.0" y1="321.2" x2="351.0" y2="322.4" stroke="#555" stroke-width="0.5" />
<line x1="363.66" y1="321.2" x2="363.66" y2="322.4" stroke="#555" stroke-width="0.5" />
<line x1="376.32" y1="321.2" x2="376.32" y2="322.4" stroke="#555" stroke-width="0.5" />
<line x1="388.98" y1="321.2" x2="388.98" y2="322.4" stroke="#555" stroke-width="0.5" />
<line x1="401.64" y1="321.2" x2="401.64" y2="322.4" stroke="#555" stroke-width="0.5" />
<line x1="414.3" y1="321.2" x2="414.3" y2="322.4" stroke="#555" stroke-width="0.5" />
<line x1="351" y1="270.97999999999996" x2="351.9" y2="270.97999999999996" stroke="#555" stroke-width="0.4" />
<line x1="351" y1="276.56" x2="351.9" y2="276.56" stroke="#555" stroke-width="0.4" />
<line x1="351" y1="282.14" x2="351.9" y2="282.14" stroke="#555" stroke-width="0.4" />
<line x1="351" y1="287.71999999999997" x2="351.9" y2="287.71999999999997" stroke="#555" stroke-width="0.4" />
<line x1="351" y1="293.29999999999995" x2="351.9" y2="293.29999999999995" stroke="#555" stroke-width="0.4" />
<line x1="351" y1="298.88" x2="351.9" y2="298.88" stroke="#555" stroke-width="0.4" />
<line x1="351" y1="304.46" x2="351.9" y2="304.46" stroke="#555" stroke-width="0.4" />
<line x1="351" y1="310.03999999999996" x2="351.9" y2="310.03999999999996" stroke="#555" stroke-width="0.4" />
<line x1="351" y1="315.62" x2="351.9" y2="315.62" stroke="#555" stroke-width="0.4" />
<line x1="351" y1="321.2" x2="414.3" y2="321.2" stroke="#222" stroke-width="0.9" />
<line x1="351" y1="265.4" x2="351" y2="321.2" stroke="#444" stroke-width="0.8" />
<line x1="485" y1="265.5" x2="485" y2="322.2" stroke="#8a8a8a" stroke-width="0.7" />
<line x1="418.8" y1="265.5" x2="485" y2="265.5" stroke="#8a8a8a" stroke-width="0.7" />
<path d="M418.8,322.2 L424.3,321.6 L429.9,320.2 L434,317.4 L436.8,316.7 L438.9,318.1 L439.5,322.2Z" fill="#0a0a0a" stroke="#000" stroke-width="0.5" stroke-linejoin="round"/>
<path d="M436.8,322.2 L438.2,316 L440.2,314.6 L441.6,315.3 L443.7,316 L445.1,313.2 L446.5,303.6 L447.6,289.7 L448.5,278.6 L449.2,275.2 L449.9,282.8 L450.6,296.6 L451.3,300.1 L452,322.2Z" fill="#5e5e5e" stroke="#000" stroke-width="0.5" stroke-linejoin="round"/>
<path d="M442.3,322.2 L445.1,316 L447.2,309.1 L449.2,303.6 L451.3,301.5 L452.7,300.8 L454.1,302.9 L455.5,307.7 L456.9,314.6 L458.2,320.2 L459.6,322.2Z" fill="#c6c6c6" stroke="#555" stroke-width="0.5" stroke-linejoin="round"/>
<path d="M454.8,322.2 L456.9,314.6 L458.2,310.5 L459.6,310.5 L460.3,310.2 L461.7,313.2 L463.8,318.1 L466.6,319.5 L469.3,320.9 L473.5,322.2Z" fill="#0a0a0a" stroke="#000" stroke-width="0.5" stroke-linejoin="round"/>
<line x1="418.8" y1="322.2" x2="418.8" y2="323.4" stroke="#555" stroke-width="0.5" />
<line x1="432.04" y1="322.2" x2="432.04" y2="323.4" stroke="#555" stroke-width="0.5" />
<line x1="445.28000000000003" y1="322.2" x2="445.28000000000003" y2="323.4" stroke="#555" stroke-width="0.5" />
<line x1="458.52" y1="322.2" x2="458.52" y2="323.4" stroke="#555" stroke-width="0.5" />
<line x1="471.76" y1="322.2" x2="471.76" y2="323.4" stroke="#555" stroke-width="0.5" />
<line x1="485.0" y1="322.2" x2="485.0" y2="323.4" stroke="#555" stroke-width="0.5" />
<line x1="418.8" y1="271.17" x2="419.7" y2="271.17" stroke="#555" stroke-width="0.4" />
<line x1="418.8" y1="276.84" x2="419.7" y2="276.84" stroke="#555" stroke-width="0.4" />
<line x1="418.8" y1="282.51" x2="419.7" y2="282.51" stroke="#555" stroke-width="0.4" />
<line x1="418.8" y1="288.18" x2="419.7" y2="288.18" stroke="#555" stroke-width="0.4" />
<line x1="418.8" y1="293.85" x2="419.7" y2="293.85" stroke="#555" stroke-width="0.4" />
<line x1="418.8" y1="299.52" x2="419.7" y2="299.52" stroke="#555" stroke-width="0.4" />
<line x1="418.8" y1="305.19" x2="419.7" y2="305.19" stroke="#555" stroke-width="0.4" />
<line x1="418.8" y1="310.86" x2="419.7" y2="310.86" stroke="#555" stroke-width="0.4" />
<line x1="418.8" y1="316.53" x2="419.7" y2="316.53" stroke="#555" stroke-width="0.4" />
<line x1="418.8" y1="322.2" x2="485" y2="322.2" stroke="#222" stroke-width="0.9" />
<line x1="418.8" y1="265.5" x2="418.8" y2="322.2" stroke="#444" stroke-width="0.8" />
<rect x="348.4" y="247.6" width="2.6" height="1.6" fill="#999"/>
<rect x="361.18" y="247.6" width="2.6" height="1.6" fill="#999"/>
<rect x="373.96" y="247.6" width="2.6" height="1.6" fill="#999"/>
<rect x="386.74" y="247.6" width="2.6" height="1.6" fill="#999"/>
<rect x="399.52" y="247.6" width="2.6" height="1.6" fill="#999"/>
<rect x="412.3" y="247.6" width="2.6" height="1.6" fill="#999"/>
<rect x="415.8" y="248.4" width="2.6" height="1.6" fill="#999"/>
<rect x="429.36" y="248.4" width="2.6" height="1.6" fill="#999"/>
<rect x="442.92" y="248.4" width="2.6" height="1.6" fill="#999"/>
<rect x="456.47999999999996" y="248.4" width="2.6" height="1.6" fill="#999"/>
<rect x="470.03999999999996" y="248.4" width="2.6" height="1.6" fill="#999"/>
<rect x="483.59999999999997" y="248.4" width="2.6" height="1.6" fill="#999"/>
<text x="491.8" y="219.5" font-family='"Liberation Serif", serif' font-size="15">&#946;<tspan font-size="8.70" font-weight="bold" font-family='"Liberation Sans", sans-serif' dy="2.10">1</tspan><tspan font-size="9.00" font-weight="bold" font-family='"Liberation Sans", sans-serif' dx="1.50" dy="-4.95">+/+</tspan></text>
<text x="491.8" y="295.5" font-family='"Liberation Serif", serif' font-size="15">&#946;<tspan font-size="8.70" font-weight="bold" font-family='"Liberation Sans", sans-serif' dy="2.10">1</tspan><tspan font-size="8.03" font-weight="bold" font-family='"Liberation Sans", sans-serif' dx="1.50" dy="-5.40">&#916;/&#916;</tspan></text>
<text x="5.7" y="351.3" font-size="14" font-weight="bold" text-anchor="start" font-family='"Liberation Sans", sans-serif' fill="#000" >C</text>
<text x="82.3" y="363.2" font-size="11.4" font-weight="bold" text-anchor="middle" font-family='"Liberation Sans", sans-serif' fill="#000" >CFU-C</text>
<line x1="37" y1="372" x2="37" y2="489" stroke="#888" stroke-width="1" />
<line x1="35" y1="489.0" x2="37.5" y2="489.0" stroke="#888" stroke-width="0.8" />
<text x="32.2" y="492.2" font-size="9" font-weight="normal" text-anchor="end" font-family='"Liberation Sans", sans-serif' fill="#000" >0</text>
<line x1="35" y1="474.725" x2="37.5" y2="474.725" stroke="#888" stroke-width="0.8" />
<text x="32.2" y="477.925" font-size="9" font-weight="normal" text-anchor="end" font-family='"Liberation Sans", sans-serif' fill="#000" >50</text>
<line x1="35" y1="460.45" x2="37.5" y2="460.45" stroke="#888" stroke-width="0.8" />
<text x="32.2" y="463.65" font-size="9" font-weight="normal" text-anchor="end" font-family='"Liberation Sans", sans-serif' fill="#000" >100</text>
<line x1="35" y1="446.175" x2="37.5" y2="446.175" stroke="#888" stroke-width="0.8" />
<text x="32.2" y="449.375" font-size="9" font-weight="normal" text-anchor="end" font-family='"Liberation Sans", sans-serif' fill="#000" >150</text>
<line x1="35" y1="431.9" x2="37.5" y2="431.9" stroke="#888" stroke-width="0.8" />
<text x="32.2" y="435.09999999999997" font-size="9" font-weight="normal" text-anchor="end" font-family='"Liberation Sans", sans-serif' fill="#000" >200</text>
<line x1="35" y1="417.625" x2="37.5" y2="417.625" stroke="#888" stroke-width="0.8" />
<text x="32.2" y="420.825" font-size="9" font-weight="normal" text-anchor="end" font-family='"Liberation Sans", sans-serif' fill="#000" >250</text>
<line x1="35" y1="403.35" x2="37.5" y2="403.35" stroke="#888" stroke-width="0.8" />
<text x="32.2" y="406.55" font-size="9" font-weight="normal" text-anchor="end" font-family='"Liberation Sans", sans-serif' fill="#000" >300</text>
<line x1="35" y1="389.075" x2="37.5" y2="389.075" stroke="#888" stroke-width="0.8" />
<text x="32.2" y="392.275" font-size="9" font-weight="normal" text-anchor="end" font-family='"Liberation Sans", sans-serif' fill="#000" >350</text>
<line x1="35" y1="374.8" x2="37.5" y2="374.8" stroke="#888" stroke-width="0.8" />
<text x="32.2" y="378.0" font-size="9" font-weight="normal" text-anchor="end" font-family='"Liberation Sans", sans-serif' fill="#000" >400</text>
<line x1="37" y1="488.8" x2="147" y2="488.8" stroke="#000" stroke-width="1.4" />
<line x1="93" y1="488.8" x2="93" y2="492" stroke="#000" stroke-width="0.8" />
<line x1="147" y1="488.8" x2="147" y2="492" stroke="#000" stroke-width="0.8" />
<text x="0" y="0" transform="translate(10.3,433.7) rotate(-90)" font-size="8.9" font-weight="bold" text-anchor="middle" dominant-baseline="central" font-family='"Liberation Sans", sans-serif'>CFU-C/Spleen (x10<tspan font-size="6" dy="-3">3</tspan><tspan dy="3">)</tspan></text>
<rect x="48" y="373" width="19.8" height="8.5" fill="#fff" stroke="#000" stroke-width="1.8"/>
<text x="71.8" y="380" font-family='"Liberation Serif", serif' font-size="11">&#946;<tspan font-size="6.38" font-weight="bold" font-family='"Liberation Sans", sans-serif' dy="2.20">1</tspan><tspan font-size="6.60" font-weight="bold" font-family='"Liberation Sans", sans-serif' dx="1.10" dy="-4.73">+/+</tspan></text>
<rect x="100" y="373" width="19.3" height="8.5" fill="#808080" stroke="#000" stroke-width="1.8"/>
<text x="123.5" y="380" font-family='"Liberation Serif", serif' font-size="11">&#946;<tspan font-size="6.38" font-weight="bold" font-family='"Liberation Sans", sans-serif' dy="2.20">1</tspan><tspan font-size="6.60" font-weight="bold" font-family='"Liberation Sans", sans-serif' dx="1.10" dy="-4.73">&#916;/&#916;</tspan></text>
<line x1="56.3" y1="399.3" x2="56.3" y2="409.5" stroke="#000" stroke-width="1.3" />
<line x1="53.099999999999994" y1="399.3" x2="59.5" y2="399.3" stroke="#000" stroke-width="1.3" />
<rect x="48" y="409.5" width="16" height="79.30000000000001" fill="#fff" stroke="#000" stroke-width="2"/>
<line x1="73" y1="388.3" x2="73" y2="397" stroke="#000" stroke-width="1.3" />
<line x1="69.8" y1="388.3" x2="76.2" y2="388.3" stroke="#000" stroke-width="1.3" />
<rect x="65.3" y="397" width="16.200000000000003" height="91.80000000000001" fill="#fff" stroke="#000" stroke-width="2"/>
<line x1="110.5" y1="463.8" x2="110.5" y2="470" stroke="#000" stroke-width="1.3" />
<line x1="107.3" y1="463.8" x2="113.7" y2="463.8" stroke="#000" stroke-width="1.3" />
<rect x="103.8" y="470" width="15.0" height="18.80000000000001" fill="#808080" stroke="#000" stroke-width="2"/>
<line x1="128.8" y1="460" x2="128.8" y2="466.3" stroke="#000" stroke-width="1.3" />
<line x1="125.60000000000001" y1="460" x2="132.0" y2="460" stroke="#000" stroke-width="1.3" />
<rect x="121" y="466.3" width="15.5" height="22.5" fill="#808080" stroke="#000" stroke-width="2"/>
<polygon points="111.30,452.60 112.02,454.51 114.06,454.60 112.46,455.88 113.00,457.85 111.30,456.72 109.60,457.85 110.14,455.88 108.54,454.60 110.58,454.51" fill="#000"/>
<polygon points="130.00,446.10 130.72,448.01 132.76,448.10 131.16,449.38 131.70,451.35 130.00,450.22 128.30,451.35 128.84,449.38 127.24,448.10 129.28,448.01" fill="#000"/>
<text x="55" y="499.8" font-size="9" font-weight="normal" text-anchor="middle" font-family='"Liberation Sans", sans-serif' fill="#000" >d4</text>
<text x="72.5" y="499.8" font-size="9" font-weight="normal" text-anchor="middle" font-family='"Liberation Sans", sans-serif' fill="#000" >d6</text>
<text x="109.5" y="499.8" font-size="9" font-weight="normal" text-anchor="middle" font-family='"Liberation Sans", sans-serif' fill="#000" >d4</text>
<text x="127.5" y="499.8" font-size="9" font-weight="normal" text-anchor="middle" font-family='"Liberation Sans", sans-serif' fill="#000" >d6</text>
<text x="90.7" y="511.2" font-size="9.3" font-weight="bold" text-anchor="middle" font-family='"Liberation Sans", sans-serif' fill="#000" >days after PHZ</text>
<text x="265.6" y="362.5" font-size="11.3" font-weight="bold" text-anchor="middle" font-family='"Liberation Sans", sans-serif' fill="#000" >BFU-E / Stress BFU-E</text>
<line x1="191.3" y1="372" x2="191.3" y2="490.3" stroke="#888" stroke-width="1" />
<line x1="189.3" y1="490.3" x2="191.8" y2="490.3" stroke="#888" stroke-width="0.8" />
<text x="184" y="493.5" font-size="9" font-weight="normal" text-anchor="end" font-family='"Liberation Sans", sans-serif' fill="#000" >0</text>
<line x1="189.3" y1="478.67" x2="191.8" y2="478.67" stroke="#888" stroke-width="0.8" />
<text x="184" y="481.87" font-size="9" font-weight="normal" text-anchor="end" font-family='"Liberation Sans", sans-serif' fill="#000" >20</text>
<line x1="189.3" y1="467.04" x2="191.8" y2="467.04" stroke="#888" stroke-width="0.8" />
<text x="184" y="470.24" font-size="9" font-weight="normal" text-anchor="end" font-family='"Liberation Sans", sans-serif' fill="#000" >40</text>
<line x1="189.3" y1="455.41" x2="191.8" y2="455.41" stroke="#888" stroke-width="0.8" />
<text x="184" y="458.61" font-size="9" font-weight="normal" text-anchor="end" font-family='"Liberation Sans", sans-serif' fill="#000" >60</text>
<line x1="189.3" y1="443.78000000000003" x2="191.8" y2="443.78000000000003" stroke="#888" stroke-width="0.8" />
<text x="184" y="446.98" font-size="9" font-weight="normal" text-anchor="end" font-family='"Liberation Sans", sans-serif' fill="#000" >80</text>
<line x1="189.3" y1="432.15000000000003" x2="191.8" y2="432.15000000000003" stroke="#888" stroke-width="0.8" />
<text x="184" y="435.35" font-size="9" font-weight="normal" text-anchor="end" font-family='"Liberation Sans", sans-serif' fill="#000" >100</text>
<line x1="189.3" y1="420.52" x2="191.8" y2="420.52" stroke="#888" stroke-width="0.8" />
<text x="184" y="423.71999999999997" font-size="9" font-weight="normal" text-anchor="end" font-family='"Liberation Sans", sans-serif' fill="#000" >120</text>
<line x1="189.3" y1="408.89" x2="191.8" y2="408.89" stroke="#888" stroke-width="0.8" />
<text x="184" y="412.09" font-size="9" font-weight="normal" text-anchor="end" font-family='"Liberation Sans", sans-serif' fill="#000" >140</text>
<line x1="189.3" y1="397.26" x2="191.8" y2="397.26" stroke="#888" stroke-width="0.8" />
<text x="184" y="400.46" font-size="9" font-weight="normal" text-anchor="end" font-family='"Liberation Sans", sans-serif' fill="#000" >160</text>
<line x1="189.3" y1="385.63" x2="191.8" y2="385.63" stroke="#888" stroke-width="0.8" />
<text x="184" y="388.83" font-size="9" font-weight="normal" text-anchor="end" font-family='"Liberation Sans", sans-serif' fill="#000" >180</text>
<line x1="189.3" y1="374.0" x2="191.8" y2="374.0" stroke="#888" stroke-width="0.8" />
<text x="184" y="377.2" font-size="9" font-weight="normal" text-anchor="end" font-family='"Liberation Sans", sans-serif' fill="#000" >200</text>
<line x1="191.3" y1="490" x2="324" y2="490" stroke="#000" stroke-width="1.4" />
<line x1="257.3" y1="490" x2="257.3" y2="493" stroke="#000" stroke-width="0.8" />
<line x1="324" y1="490" x2="324" y2="493" stroke="#000" stroke-width="0.8" />
<text x="0" y="0" transform="translate(163,432.5) rotate(-90)" font-size="9.2" font-weight="bold" text-anchor="middle" dominant-baseline="central" font-family='"Liberation Sans", sans-serif'>BFU-E/Spleen (x10<tspan font-size="6" dy="-3">3</tspan><tspan dy="3">)</tspan></text>
<rect x="208" y="373" width="19.3" height="8.5" fill="#fff" stroke="#000" stroke-width="1.8"/>
<text x="231.2" y="380" font-family='"Liberation Serif", serif' font-size="11">&#946;<tspan font-size="6.38" font-weight="bold" font-family='"Liberation Sans", sans-serif' dy="2.20">1</tspan><tspan font-size="6.60" font-weight="bold" font-family='"Liberation Sans", sans-serif' dx="1.10" dy="-4.73">+/+</tspan></text>
<rect x="273.8" y="373" width="19.6" height="8.8" fill="#808080" stroke="#000" stroke-width="1.8"/>
<text x="298.0" y="380" font-family='"Liberation Serif", serif' font-size="11">&#946;<tspan font-size="6.38" font-weight="bold" font-family='"Liberation Sans", sans-serif' dy="2.20">1</tspan><tspan font-size="6.60" font-weight="bold" font-family='"Liberation Sans", sans-serif' dx="1.10" dy="-4.73">&#916;/&#916;</tspan></text>
<defs><pattern id="hatch" patternUnits="userSpaceOnUse" width="4.15" height="4.15" patternTransform="rotate(-45)"><rect width="4.15" height="4.15" fill="#fff"/><line x1="1.2" y1="0" x2="1.2" y2="4.15" stroke="#000" stroke-width="1.85"/></pattern></defs>
<line x1="214.3" y1="388" x2="214.3" y2="399.5" stroke="#000" stroke-width="1.3" />
<line x1="209.9" y1="388" x2="218.70000000000002" y2="388" stroke="#000" stroke-width="1.3" />
<rect x="204.5" y="399.5" width="19.5" height="90.5" fill="#fff" stroke="#000" stroke-width="2"/>
<rect x="204.5" y="461.2" width="19.5" height="28.8" fill="url(#hatch)" stroke="#000" stroke-width="2"/>
<line x1="213.2" y1="451.3" x2="213.2" y2="461.2" stroke="#000" stroke-width="1.3" />
<line x1="208.6" y1="451.3" x2="217.79999999999998" y2="451.3" stroke="#000" stroke-width="1.3" />
<line x1="235.2" y1="444.5" x2="235.2" y2="448.8" stroke="#000" stroke-width="1.3" />
<line x1="231.0" y1="444.5" x2="239.39999999999998" y2="444.5" stroke="#000" stroke-width="1.3" />
<rect x="225" y="448.8" width="18.80000000000001" height="41.19999999999999" fill="#fff" stroke="#000" stroke-width="2"/>
<rect x="225" y="481" width="18.8" height="9" fill="url(#hatch)" stroke="#000" stroke-width="2"/>
<line x1="230" y1="480.2" x2="237.5" y2="480.2" stroke="#000" stroke-width="1.4" />
<text x="234.3" y="440.8" font-size="12" font-weight="bold" text-anchor="middle" font-family='"Liberation Serif", serif' fill="#000" >#</text>
<line x1="282.4" y1="458.8" x2="282.4" y2="468" stroke="#000" stroke-width="1.3" />
<line x1="278.0" y1="458.8" x2="286.79999999999995" y2="458.8" stroke="#000" stroke-width="1.3" />
<rect x="272.5" y="468" width="19.30000000000001" height="22" fill="#808080" stroke="#000" stroke-width="2"/>
<rect x="272.5" y="478.8" width="19.3" height="11.2" fill="#000"/>
<line x1="282.4" y1="472.3" x2="282.4" y2="478.8" stroke="#000" stroke-width="1.3" />
<line x1="278.0" y1="472.3" x2="286.79999999999995" y2="472.3" stroke="#000" stroke-width="1.3" />
<line x1="301.6" y1="465.8" x2="301.6" y2="472.5" stroke="#000" stroke-width="1.3" />
<line x1="297.20000000000005" y1="465.8" x2="306.0" y2="465.8" stroke="#000" stroke-width="1.3" />
<rect x="293" y="472.5" width="18.30000000000001" height="17.5" fill="#808080" stroke="#000" stroke-width="2"/>
<rect x="293" y="485.5" width="18.3" height="4.5" fill="#000"/>
<polygon points="283.30,445.10 284.02,447.01 286.06,447.10 284.46,448.38 285.00,450.35 283.30,449.22 281.60,450.35 282.14,448.38 280.54,447.10 282.58,447.01" fill="#000"/>
<polygon points="301.80,454.10 302.52,456.01 304.56,456.10 302.96,457.38 303.50,459.35 301.80,458.22 300.10,459.35 300.64,457.38 299.04,456.10 301.08,456.01" fill="#000"/>
<text x="212.3" y="500.5" font-size="9" font-weight="normal" text-anchor="middle" font-family='"Liberation Sans", sans-serif' fill="#000" >d4</text>
<text x="231.9" y="500.5" font-size="9" font-weight="normal" text-anchor="middle" font-family='"Liberation Sans", sans-serif' fill="#000" >d6</text>
<text x="282.3" y="500.5" font-size="9" font-weight="normal" text-anchor="middle" font-family='"Liberation Sans", sans-serif' fill="#000" >d4</text>
<text x="301.3" y="500.5" font-size="9" font-weight="normal" text-anchor="middle" font-family='"Liberation Sans", sans-serif' fill="#000" >d6</text>
<text x="259.0" y="511.2" font-size="9.3" font-weight="bold" text-anchor="middle" font-family='"Liberation Sans", sans-serif' fill="#000" >days after PHZ</text>
<text x="414.9" y="362.5" font-size="11.4" font-weight="bold" text-anchor="middle" font-family='"Liberation Sans", sans-serif' fill="#000" >CFU-E</text>
<line x1="360.8" y1="372" x2="360.8" y2="488.3" stroke="#888" stroke-width="1" />
<line x1="358.8" y1="488.3" x2="361.3" y2="488.3" stroke="#888" stroke-width="0.8" />
<text x="355" y="491.5" font-size="9" font-weight="normal" text-anchor="end" font-family='"Liberation Sans", sans-serif' fill="#000" >0</text>
<line x1="358.8" y1="469.25" x2="361.3" y2="469.25" stroke="#888" stroke-width="0.8" />
<text x="355" y="472.45" font-size="9" font-weight="normal" text-anchor="end" font-family='"Liberation Sans", sans-serif' fill="#000" >1</text>
<line x1="358.8" y1="450.2" x2="361.3" y2="450.2" stroke="#888" stroke-width="0.8" />
<text x="355" y="453.4" font-size="9" font-weight="normal" text-anchor="end" font-family='"Liberation Sans", sans-serif' fill="#000" >2</text>
<line x1="358.8" y1="431.15" x2="361.3" y2="431.15" stroke="#888" stroke-width="0.8" />
<text x="355" y="434.34999999999997" font-size="9" font-weight="normal" text-anchor="end" font-family='"Liberation Sans", sans-serif' fill="#000" >3</text>
<line x1="358.8" y1="412.1" x2="361.3" y2="412.1" stroke="#888" stroke-width="0.8" />
<text x="355" y="415.3" font-size="9" font-weight="normal" text-anchor="end" font-family='"Liberation Sans", sans-serif' fill="#000" >4</text>
<line x1="358.8" y1="393.05" x2="361.3" y2="393.05" stroke="#888" stroke-width="0.8" />
<text x="355" y="396.25" font-size="9" font-weight="normal" text-anchor="end" font-family='"Liberation Sans", sans-serif' fill="#000" >5</text>
<line x1="358.8" y1="374.0" x2="361.3" y2="374.0" stroke="#888" stroke-width="0.8" />
<text x="355" y="377.2" font-size="9" font-weight="normal" text-anchor="end" font-family='"Liberation Sans", sans-serif' fill="#000" >6</text>
<line x1="360.8" y1="488" x2="473" y2="488" stroke="#000" stroke-width="1.4" />
<line x1="417.5" y1="488" x2="417.5" y2="491" stroke="#000" stroke-width="0.8" />
<line x1="473" y1="488" x2="473" y2="491" stroke="#000" stroke-width="0.8" />
<text x="0" y="0" transform="translate(340,431) rotate(-90)" font-size="9.2" font-weight="bold" text-anchor="middle" dominant-baseline="central" font-family='"Liberation Sans", sans-serif'>CFU-E/Spleen (X10<tspan font-size="6" dy="-3">6</tspan><tspan dy="3">)</tspan></text>
<rect x="375" y="373" width="19.5" height="8.3" fill="#fff" stroke="#000" stroke-width="1.8"/>
<text x="398.7" y="380" font-family='"Liberation Serif", serif' font-size="11">&#946;<tspan font-size="6.38" font-weight="bold" font-family='"Liberation Sans", sans-serif' dy="2.20">1</tspan><tspan font-size="6.60" font-weight="bold" font-family='"Liberation Sans", sans-serif' dx="1.10" dy="-4.73">+/+</tspan></text>
<rect x="427" y="373" width="19.3" height="8.5" fill="#808080" stroke="#000" stroke-width="1.8"/>
<text x="450.6" y="380" font-family='"Liberation Serif", serif' font-size="11">&#946;<tspan font-size="6.38" font-weight="bold" font-family='"Liberation Sans", sans-serif' dy="2.20">1</tspan><tspan font-size="6.60" font-weight="bold" font-family='"Liberation Sans", sans-serif' dx="1.10" dy="-4.73">&#916;/&#916;</tspan></text>
<line x1="380.3" y1="439.5" x2="380.3" y2="447" stroke="#000" stroke-width="1.3" />
<line x1="377.8" y1="439.5" x2="382.8" y2="439.5" stroke="#000" stroke-width="1.3" />
<rect x="373.4" y="447" width="13.700000000000045" height="41" fill="#fff" stroke="#000" stroke-width="2"/>
<line x1="398.3" y1="395.5" x2="398.3" y2="400" stroke="#000" stroke-width="1.3" />
<line x1="395.8" y1="395.5" x2="400.8" y2="395.5" stroke="#000" stroke-width="1.3" />
<rect x="390.2" y="400" width="15.0" height="88" fill="#fff" stroke="#000" stroke-width="2"/>
<line x1="436" y1="473.8" x2="436" y2="478.5" stroke="#000" stroke-width="1.3" />
<line x1="433.5" y1="473.8" x2="438.5" y2="473.8" stroke="#000" stroke-width="1.3" />
<rect x="428.8" y="478.5" width="14.199999999999989" height="9.5" fill="#808080" stroke="#000" stroke-width="2"/>
<line x1="453" y1="462.5" x2="453" y2="467.3" stroke="#000" stroke-width="1.3" />
<line x1="450.5" y1="462.5" x2="455.5" y2="462.5" stroke="#000" stroke-width="1.3" />
<rect x="445.6" y="467.3" width="14.899999999999977" height="20.69999999999999" fill="#808080" stroke="#000" stroke-width="2"/>
<text x="398.8" y="392.4" font-size="12" font-weight="bold" text-anchor="middle" font-family='"Liberation Serif", serif' fill="#000" >#</text>
<polygon points="436.30,463.60 437.02,465.51 439.06,465.60 437.46,466.88 438.00,468.85 436.30,467.72 434.60,468.85 435.14,466.88 433.54,465.60 435.58,465.51" fill="#000"/>
<polygon points="453.80,452.10 454.52,454.01 456.56,454.10 454.96,455.38 455.50,457.35 453.80,456.22 452.10,457.35 452.64,455.38 451.04,454.10 453.08,454.01" fill="#000"/>
<text x="380" y="500.5" font-size="9" font-weight="normal" text-anchor="middle" font-family='"Liberation Sans", sans-serif' fill="#000" >d4</text>
<text x="397.5" y="500.5" font-size="9" font-weight="normal" text-anchor="middle" font-family='"Liberation Sans", sans-serif' fill="#000" >d6</text>
<text x="433.8" y="500.5" font-size="9" font-weight="normal" text-anchor="middle" font-family='"Liberation Sans", sans-serif' fill="#000" >d4</text>
<text x="450.5" y="500.5" font-size="9" font-weight="normal" text-anchor="middle" font-family='"Liberation Sans", sans-serif' fill="#000" >d6</text>
<text x="419.0" y="511.2" font-size="9.3" font-weight="bold" text-anchor="middle" font-family='"Liberation Sans", sans-serif' fill="#000" >days after PHZ</text>
</svg></body></html>
